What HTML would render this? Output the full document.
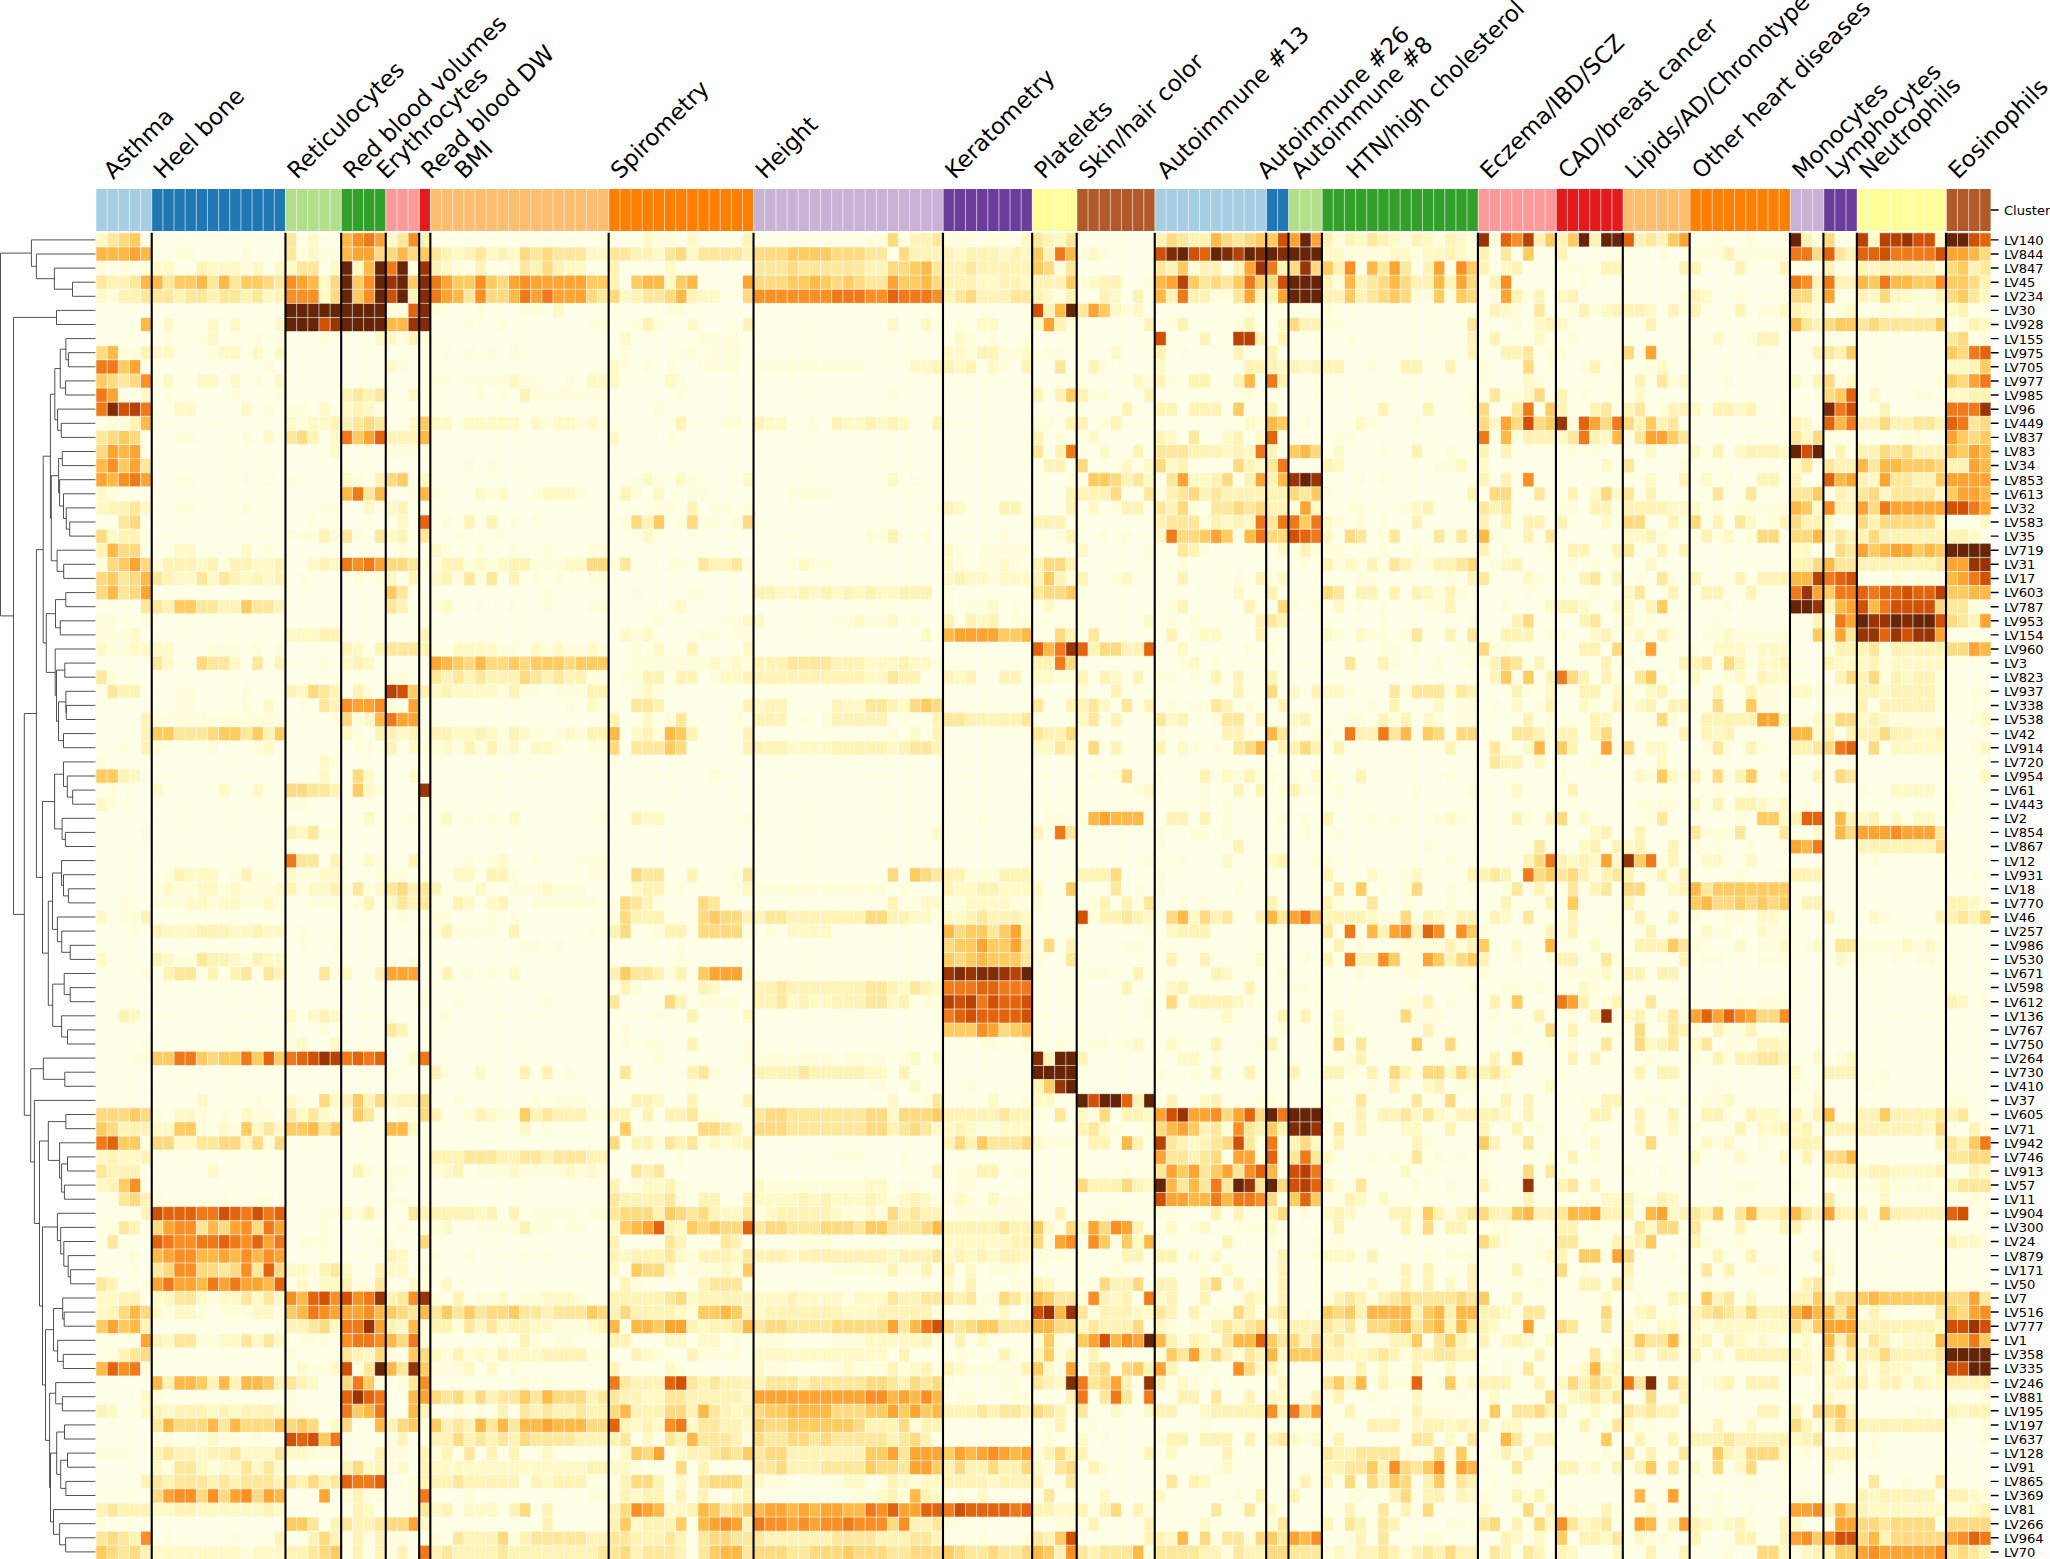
<!DOCTYPE html><html><head><meta charset="utf-8"><title>LV heatmap</title><style>
html,body{margin:0;padding:0;background:#fff}body{width:2050px;height:1559px;overflow:hidden;position:relative}svg{position:absolute;left:0;top:0;display:block}text{font-family:"DejaVu Sans","Liberation Sans",sans-serif;fill:#000}
.g path{fill:none;stroke-width:14.113}
.cl{font-size:23px}.rl{font-size:13.1px}
</style></head><body>
<svg width="2050" height="1559" viewBox="0 0 2050 1559">
<rect x="96.00" y="232.80" width="1894.94" height="1326.58" fill="#ffffe5"/>
<g class="g">
<path stroke="#fff9c6" d="M96 239.86h11.15M307.79 239.86h11.15M385.81 239.86h11.15M642.19 239.86h11.15M686.78 239.86h11.15M1021.18 239.86h11.15M1054.62 239.86h11.15M1355.58 239.86h11.15M1389.02 239.86h11.15M1422.46 239.86h11.15M1455.9 239.86h11.15M1868.33 239.86h11.15M1935.21 239.86h11.15M307.79 253.97h11.15M452.69 253.97h11.15M486.13 253.97h11.15M508.43 253.97h11.15M586.45 253.97h22.29M653.33 253.97h11.15M686.78 253.97h11.15M954.3 253.97h11.15M998.88 253.97h11.15M1021.18 253.97h11.15M1088.06 253.97h11.15M1322.14 253.97h22.29M1389.02 253.97h22.29M1422.46 253.97h22.29M1455.9 253.97h11.15M151.73 268.08h22.29M207.47 268.08h33.44M252.05 268.08h11.15M274.35 268.08h22.29M330.08 268.08h11.15M352.37 268.08h11.15M441.55 268.08h11.15M564.16 268.08h22.29M664.48 268.08h11.15M1500.48 268.08h11.15M1868.33 268.08h11.15M318.93 282.19h11.15M664.48 282.19h11.15M976.59 282.19h22.29M1021.18 282.19h11.15M1088.06 282.19h11.15M96 296.31h11.15M263.2 296.31h11.15M318.93 296.31h11.15M619.89 296.31h11.15M697.92 296.31h22.29M1043.47 296.31h11.15M1110.35 296.31h11.15M1556.22 296.31h11.15M1701.12 296.31h11.15M1812.59 296.31h11.15M1868.33 296.31h11.15M1890.62 296.31h22.29M1979.79 296.31h11.15M553.01 310.42h11.15M1110.35 310.42h11.15M1132.64 310.42h11.15M1500.48 310.42h11.15M1600.8 310.42h11.15M1645.39 310.42h11.15M1779.15 310.42h11.15M1801.45 310.42h11.15M1846.03 310.42h11.15M1946.35 310.42h11.15M162.88 324.53h11.15M207.47 324.53h11.15M229.76 324.53h11.15M274.35 324.53h11.15M686.78 324.53h11.15M887.42 324.53h11.15M920.86 324.53h11.15M976.59 324.53h22.29M1032.32 324.53h11.15M1277.55 324.53h11.15M1533.92 324.53h11.15M1556.22 324.53h11.15M1979.79 324.53h11.15M207.47 338.64h11.15M374.67 338.64h22.29M619.89 338.64h11.15M954.3 338.64h11.15M1533.92 338.64h11.15M1712.27 338.64h11.15M151.73 352.76h22.29M218.61 352.76h22.29M252.05 352.76h11.15M274.35 352.76h11.15M943.15 352.76h22.29M1021.18 352.76h11.15M1110.35 352.76h11.15M385.81 366.87h11.15M608.75 366.87h11.15M909.71 366.87h22.29M954.3 366.87h11.15M987.74 366.87h11.15M1154.94 366.87h11.15M1277.55 366.87h11.15M1299.84 366.87h11.15M1656.54 366.87h11.15M1946.35 366.87h22.29M162.88 380.98h11.15M196.32 380.98h22.29M229.76 380.98h11.15M274.35 380.98h11.15M508.43 380.98h11.15M586.45 380.98h33.44M664.48 380.98h11.15M1132.64 380.98h11.15M1522.78 380.98h11.15M1678.83 380.98h11.15M1790.3 380.98h11.15M1846.03 380.98h11.15M140.59 395.09h11.15M408.11 395.09h11.15M1522.78 395.09h11.15M1634.24 395.09h11.15M1868.33 395.09h11.15M1946.35 395.09h22.29M174.03 409.21h22.29M240.91 409.21h11.15M318.93 409.21h11.15M341.23 409.21h11.15M363.52 409.21h11.15M1689.98 409.21h11.15M1734.56 409.21h11.15M285.49 423.32h11.15M307.79 423.32h22.29M408.11 423.32h11.15M430.4 423.32h22.29M463.84 423.32h55.73M530.72 423.32h11.15M553.01 423.32h22.29M586.45 423.32h11.15M764.8 423.32h22.29M842.83 423.32h22.29M876.27 423.32h11.15M898.56 423.32h11.15M1244.11 423.32h11.15M1355.58 423.32h11.15M1489.34 423.32h11.15M1801.45 423.32h11.15M263.2 437.43h11.15M330.08 437.43h11.15M608.75 437.43h11.15M1088.06 437.43h11.15M1166.08 437.43h11.15M1221.82 437.43h11.15M1255.26 437.43h11.15M1556.22 437.43h11.15M1600.8 437.43h11.15M1801.45 437.43h11.15M330.08 451.54h11.15M1099.2 451.54h11.15M1221.82 451.54h11.15M1244.11 451.54h11.15M1333.28 451.54h11.15M1645.39 451.54h11.15M1689.98 451.54h11.15M1734.56 451.54h11.15M1779.15 451.54h11.15M1121.5 465.66h11.15M1143.79 465.66h11.15M1166.08 465.66h11.15M1255.26 465.66h11.15M1333.28 465.66h11.15M1455.9 465.66h11.15M1478.19 465.66h11.15M1600.8 465.66h11.15M1790.3 465.66h11.15M341.23 479.77h11.15M419.25 479.77h11.15M642.19 479.77h11.15M675.63 479.77h11.15M742.51 479.77h11.15M887.42 479.77h11.15M1143.79 479.77h11.15M1188.38 479.77h22.29M1645.39 479.77h11.15M1701.12 479.77h11.15M1868.33 479.77h11.15M96 493.88h11.15M474.99 493.88h11.15M497.28 493.88h11.15M541.87 493.88h33.44M653.33 493.88h11.15M1589.66 493.88h11.15M1611.95 493.88h11.15M1846.03 493.88h11.15M1879.47 493.88h11.15M1935.21 493.88h11.15M96 507.99h11.15M140.59 507.99h11.15M363.52 507.99h11.15M385.81 507.99h11.15M954.3 507.99h11.15M1088.06 507.99h11.15M1310.99 507.99h11.15M1411.31 507.99h11.15M1667.68 507.99h33.44M1812.59 507.99h11.15M396.96 522.11h11.15M1221.82 522.11h11.15M1244.11 522.11h11.15M1322.14 522.11h11.15M1600.8 522.11h11.15M1745.71 522.11h11.15M1823.74 522.11h11.15M1935.21 522.11h11.15M1979.79 522.11h11.15M107.15 536.22h11.15M385.81 536.22h11.15M642.19 536.22h11.15M1154.94 536.22h11.15M1322.14 536.22h11.15M1623.1 536.22h22.29M1723.42 536.22h11.15M1968.65 536.22h11.15M174.03 550.33h22.29M240.91 550.33h11.15M430.4 550.33h11.15M943.15 550.33h11.15M1076.91 550.33h11.15M1277.55 550.33h11.15M1790.3 550.33h22.29M196.32 564.44h11.15M252.05 564.44h22.29M307.79 564.44h11.15M330.08 564.44h11.15M474.99 564.44h11.15M497.28 564.44h11.15M564.16 564.44h22.29M798.24 564.44h11.15M943.15 564.44h11.15M998.88 564.44h11.15M1344.43 564.44h11.15M1500.48 564.44h11.15M1645.39 564.44h11.15M174.03 578.56h22.29M207.47 578.56h11.15M240.91 578.56h11.15M263.2 578.56h11.15M385.81 578.56h11.15M430.4 578.56h11.15M943.15 578.56h11.15M965.44 578.56h22.29M998.88 578.56h33.44M1121.5 578.56h11.15M1277.55 578.56h11.15M1522.78 578.56h11.15M775.95 592.67h22.29M809.39 592.67h11.15M831.68 592.67h11.15M853.98 592.67h11.15M876.27 592.67h22.29M1232.96 592.67h11.15M1422.46 592.67h11.15M1623.1 592.67h11.15M441.55 606.78h11.15M675.63 606.78h11.15M987.74 606.78h11.15M1043.47 606.78h11.15M1333.28 606.78h11.15M1545.07 606.78h11.15M1578.51 606.78h11.15M1611.95 606.78h22.29M742.51 620.89h22.29M853.98 620.89h11.15M887.42 620.89h11.15M976.59 620.89h11.15M1143.79 620.89h11.15M1623.1 620.89h11.15M129.44 635.01h11.15M285.49 635.01h33.44M619.89 635.01h11.15M642.19 635.01h11.15M920.86 635.01h11.15M1199.52 635.01h22.29M1322.14 635.01h11.15M1355.58 635.01h11.15M1589.66 635.01h11.15M1634.24 635.01h11.15M1723.42 635.01h11.15M1823.74 635.01h11.15M96 649.12h11.15M129.44 649.12h44.59M352.37 649.12h11.15M452.69 649.12h44.59M530.72 649.12h11.15M553.01 649.12h11.15M586.45 649.12h11.15M653.33 649.12h11.15M742.51 649.12h11.15M1177.23 649.12h11.15M1712.27 649.12h33.44M1756.86 649.12h33.44M162.88 663.23h11.15M229.76 663.23h11.15M341.23 663.23h11.15M363.52 663.23h11.15M709.07 663.23h11.15M731.36 663.23h11.15M865.12 663.23h33.44M909.71 663.23h22.29M1188.38 663.23h11.15M1756.86 663.23h22.29M1834.89 663.23h33.44M1890.62 663.23h55.73M720.22 677.34h22.29M865.12 677.34h22.29M954.3 677.34h11.15M1032.32 677.34h22.29M1110.35 677.34h11.15M1689.98 677.34h11.15M1734.56 677.34h11.15M1768 677.34h22.29M1901.77 677.34h11.15M296.64 691.46h11.15M430.4 691.46h11.15M452.69 691.46h44.59M642.19 691.46h11.15M1288.7 691.46h11.15M1322.14 691.46h22.29M1545.07 691.46h11.15M1611.95 691.46h11.15M1645.39 691.46h11.15M1790.3 691.46h22.29M1879.47 691.46h11.15M263.2 705.57h11.15M586.45 705.57h11.15M753.66 705.57h11.15M842.83 705.57h22.29M898.56 705.57h11.15M1099.2 705.57h11.15M1433.6 705.57h11.15M1511.63 705.57h11.15M1578.51 705.57h11.15M1634.24 705.57h11.15M363.52 719.68h11.15M642.19 719.68h11.15M1076.91 719.68h11.15M1166.08 719.68h11.15M1288.7 719.68h11.15M1422.46 719.68h11.15M1600.8 719.68h11.15M1812.59 719.68h22.29M1857.18 719.68h11.15M1879.47 719.68h11.15M1979.79 719.68h11.15M341.23 733.79h11.15M396.96 733.79h11.15M452.69 733.79h22.29M486.13 733.79h11.15M519.57 733.79h11.15M564.16 733.79h11.15M631.04 733.79h11.15M909.71 733.79h11.15M1712.27 733.79h11.15M1812.59 733.79h11.15M1912.91 733.79h22.29M263.2 747.91h11.15M408.11 747.91h11.15M441.55 747.91h11.15M508.43 747.91h11.15M530.72 747.91h22.29M787.1 747.91h44.59M887.42 747.91h11.15M1032.32 747.91h22.29M1177.23 747.91h11.15M1522.78 747.91h11.15M1645.39 747.91h22.29M1890.62 747.91h55.73M1979.79 747.91h11.15M318.93 762.02h11.15M1533.92 762.02h11.15M1656.54 762.02h11.15M129.44 776.13h11.15M318.93 776.13h11.15M363.52 776.13h11.15M408.11 776.13h11.15M1221.82 776.13h11.15M1310.99 776.13h11.15M1634.24 776.13h11.15M1667.68 776.13h11.15M1779.15 776.13h11.15M1979.79 776.13h11.15M151.73 790.24h11.15M218.61 790.24h11.15M252.05 790.24h11.15M363.52 790.24h11.15M1143.79 790.24h11.15M1511.63 790.24h11.15M1890.62 790.24h44.59M96 804.36h11.15M1689.98 804.36h11.15M1756.86 804.36h11.15M1779.15 804.36h11.15M363.52 818.47h11.15M441.55 818.47h11.15M508.43 818.47h11.15M642.19 818.47h22.29M1444.75 818.47h11.15M1578.51 818.47h11.15M1779.15 818.47h11.15M1857.18 818.47h11.15M1890.62 818.47h11.15M1912.91 818.47h22.29M296.64 832.58h11.15M932 832.58h11.15M1589.66 832.58h11.15M1812.59 832.58h11.15M1578.51 846.69h11.15M1623.1 846.69h11.15M363.52 860.81h11.15M497.28 860.81h11.15M1221.82 860.81h11.15M1266.4 860.81h11.15M1567.36 860.81h11.15M1589.66 860.81h11.15M1611.95 860.81h11.15M1701.12 860.81h22.29M1745.71 860.81h11.15M185.17 874.92h33.44M285.49 874.92h11.15M318.93 874.92h22.29M452.69 874.92h22.29M1366.72 874.92h11.15M1411.31 874.92h11.15M162.88 889.03h11.15M196.32 889.03h22.29M229.76 889.03h11.15M274.35 889.03h11.15M307.79 889.03h22.29M374.67 889.03h11.15M474.99 889.03h11.15M541.87 889.03h11.15M631.04 889.03h11.15M742.51 889.03h11.15M954.3 889.03h22.29M998.88 889.03h44.59M1667.68 889.03h11.15M185.17 903.14h22.29M218.61 903.14h22.29M263.2 903.14h11.15M385.81 903.14h11.15M463.84 903.14h11.15M486.13 903.14h11.15M920.86 903.14h22.29M965.44 903.14h44.59M1968.65 903.14h11.15M96 917.26h11.15M909.71 917.26h22.29M943.15 917.26h22.29M1021.18 917.26h11.15M1143.79 917.26h11.15M1188.38 917.26h11.15M1366.72 917.26h11.15M1433.6 917.26h11.15M1500.48 917.26h11.15M1756.86 917.26h22.29M1868.33 917.26h11.15M162.88 931.37h33.44M229.76 931.37h22.29M263.2 931.37h22.29M787.1 931.37h44.59M1166.08 931.37h11.15M1701.12 931.37h11.15M1756.86 931.37h11.15M1511.63 945.48h11.15M1589.66 945.48h11.15M1734.56 945.48h11.15M1779.15 945.48h11.15M1812.59 945.48h11.15M1901.77 945.48h11.15M1924.06 945.48h11.15M96 959.59h11.15M162.88 959.59h11.15M229.76 959.59h11.15M263.2 959.59h22.29M1255.26 959.59h11.15M1834.89 959.59h11.15M341.23 973.71h11.15M508.43 973.71h11.15M1221.82 973.71h11.15M1600.8 973.71h11.15M709.07 987.82h11.15M898.56 987.82h11.15M932 987.82h11.15M1166.08 987.82h11.15M1578.51 987.82h11.15M787.1 1001.93h11.15M809.39 1001.93h22.29M887.42 1001.93h11.15M1232.96 1001.93h11.15M1957.5 1001.93h11.15M129.44 1016.04h11.15M285.49 1016.04h11.15M307.79 1016.04h11.15M330.08 1016.04h11.15M742.51 1016.04h11.15M1221.82 1016.04h11.15M1333.28 1016.04h11.15M1623.1 1016.04h11.15M1656.54 1016.04h11.15M1333.28 1030.16h11.15M296.64 1044.27h11.15M330.08 1044.27h11.15M1132.64 1044.27h11.15M1166.08 1044.27h11.15M1645.39 1044.27h11.15M1689.98 1044.27h11.15M1779.15 1044.27h11.15M408.11 1058.38h11.15M909.71 1058.38h11.15M932 1058.38h11.15M1177.23 1058.38h22.29M1812.59 1058.38h11.15M1846.03 1058.38h11.15M474.99 1072.49h11.15M865.12 1072.49h22.29M1444.75 1072.49h11.15M1500.48 1072.49h11.15M1790.3 1072.49h11.15M909.71 1086.61h11.15M1422.46 1086.61h11.15M1545.07 1086.61h11.15M196.32 1100.72h11.15M285.49 1100.72h11.15M330.08 1100.72h11.15M385.81 1100.72h11.15M653.33 1100.72h11.15M887.42 1100.72h11.15M987.74 1100.72h11.15M1032.32 1100.72h22.29M1199.52 1100.72h11.15M1723.42 1100.72h11.15M1812.59 1100.72h11.15M174.03 1114.83h22.29M240.91 1114.83h11.15M296.64 1114.83h11.15M318.93 1114.83h11.15M486.13 1114.83h11.15M887.42 1114.83h11.15M1076.91 1114.83h11.15M1143.79 1114.83h11.15M1411.31 1114.83h11.15M1433.6 1114.83h11.15M1500.48 1114.83h11.15M1756.86 1114.83h22.29M151.73 1128.94h22.29M218.61 1128.94h11.15M252.05 1128.94h11.15M274.35 1128.94h11.15M408.11 1128.94h11.15M519.57 1128.94h11.15M932 1128.94h22.29M965.44 1128.94h11.15M998.88 1128.94h33.44M1099.2 1128.94h11.15M1400.16 1128.94h22.29M1667.68 1128.94h11.15M1756.86 1128.94h22.29M1790.3 1128.94h11.15M1924.06 1128.94h11.15M174.03 1143.06h22.29M240.91 1143.06h11.15M709.07 1143.06h11.15M731.36 1143.06h11.15M1032.32 1143.06h11.15M1188.38 1143.06h11.15M1310.99 1143.06h11.15M1589.66 1143.06h11.15M1701.12 1143.06h11.15M1723.42 1143.06h11.15M96 1157.17h11.15M118.29 1157.17h22.29M1322.14 1157.17h11.15M1689.98 1157.17h11.15M1734.56 1157.17h11.15M1779.15 1157.17h11.15M207.47 1171.28h11.15M441.55 1171.28h11.15M508.43 1171.28h11.15M564.16 1171.28h11.15M586.45 1171.28h11.15M1400.16 1171.28h11.15M1857.18 1171.28h11.15M1890.62 1171.28h44.59M1979.79 1171.28h11.15M96 1185.39h11.15M642.19 1185.39h22.29M753.66 1185.39h11.15M865.12 1185.39h22.29M1143.79 1185.39h11.15M1879.47 1185.39h11.15M753.66 1199.51h44.59M809.39 1199.51h11.15M831.68 1199.51h33.44M876.27 1199.51h11.15M898.56 1199.51h11.15M920.86 1199.51h11.15M954.3 1199.51h11.15M987.74 1199.51h11.15M1355.58 1199.51h11.15M1377.87 1199.51h11.15M1600.8 1199.51h22.29M1667.68 1199.51h11.15M1879.47 1199.51h11.15M341.23 1213.62h11.15M474.99 1213.62h11.15M720.22 1213.62h22.29M764.8 1213.62h11.15M831.68 1213.62h11.15M865.12 1213.62h11.15M1322.14 1213.62h11.15M1344.43 1213.62h11.15M1667.68 1213.62h11.15M441.55 1227.73h11.15M608.75 1227.73h11.15M675.63 1227.73h11.15M1043.47 1227.73h11.15M1076.91 1227.73h11.15M1166.08 1227.73h11.15M1199.52 1227.73h11.15M1266.4 1227.73h11.15M1645.39 1227.73h11.15M943.15 1241.84h66.88M1132.64 1241.84h11.15M1623.1 1241.84h11.15M1957.5 1241.84h22.29M396.96 1255.96h11.15M619.89 1255.96h11.15M675.63 1255.96h11.15M731.36 1255.96h11.15M787.1 1255.96h11.15M887.42 1255.96h11.15M943.15 1255.96h11.15M965.44 1255.96h11.15M987.74 1255.96h11.15M1021.18 1255.96h11.15M1188.38 1255.96h11.15M1210.67 1255.96h11.15M1322.14 1255.96h33.44M1545.07 1255.96h11.15M285.49 1270.07h22.29M341.23 1270.07h11.15M385.81 1270.07h22.29M608.75 1270.07h11.15M664.48 1270.07h11.15M720.22 1270.07h11.15M965.44 1270.07h11.15M1221.82 1270.07h11.15M1823.74 1270.07h11.15M296.64 1284.18h11.15M318.93 1284.18h22.29M408.11 1284.18h11.15M441.55 1284.18h11.15M943.15 1284.18h11.15M1043.47 1284.18h11.15M1366.72 1284.18h11.15M1444.75 1284.18h11.15M1623.1 1284.18h11.15M96 1298.29h22.29M151.73 1298.29h22.29M196.32 1298.29h11.15M218.61 1298.29h22.29M252.05 1298.29h11.15M274.35 1298.29h11.15M497.28 1298.29h11.15M541.87 1298.29h33.44M686.78 1298.29h11.15M753.66 1298.29h33.44M798.24 1298.29h44.59M853.98 1298.29h33.44M1021.18 1298.29h11.15M1110.35 1298.29h11.15M1154.94 1298.29h11.15M1255.26 1298.29h11.15M1600.8 1298.29h11.15M1678.83 1298.29h11.15M1745.71 1298.29h11.15M96 1312.41h11.15M151.73 1312.41h11.15M174.03 1312.41h22.29M252.05 1312.41h22.29M675.63 1312.41h11.15M753.66 1312.41h11.15M842.83 1312.41h33.44M998.88 1312.41h11.15M1132.64 1312.41h22.29M1500.48 1312.41h11.15M1634.24 1312.41h11.15M330.08 1326.52h11.15M396.96 1326.52h11.15M474.99 1326.52h11.15M497.28 1326.52h11.15M530.72 1326.52h22.29M586.45 1326.52h11.15M697.92 1326.52h11.15M1076.91 1326.52h11.15M1154.94 1326.52h11.15M1489.34 1326.52h11.15M1623.1 1326.52h11.15M1656.54 1326.52h22.29M1689.98 1326.52h11.15M1712.27 1326.52h78.03M1935.21 1326.52h11.15M162.88 1340.63h11.15M218.61 1340.63h22.29M252.05 1340.63h11.15M274.35 1340.63h11.15M664.48 1340.63h22.29M697.92 1340.63h22.29M865.12 1340.63h55.73M976.59 1340.63h11.15M1199.52 1340.63h11.15M1344.43 1340.63h11.15M1500.48 1340.63h11.15M1522.78 1340.63h11.15M1545.07 1340.63h11.15M1623.1 1340.63h11.15M1689.98 1340.63h11.15M1734.56 1340.63h11.15M1756.86 1340.63h11.15M1801.45 1340.63h11.15M1901.77 1340.63h33.44M363.52 1354.74h11.15M430.4 1354.74h11.15M474.99 1354.74h11.15M508.43 1354.74h33.44M642.19 1354.74h11.15M753.66 1354.74h133.76M1277.55 1354.74h11.15M1344.43 1354.74h22.29M1611.95 1354.74h22.29M1712.27 1354.74h11.15M1801.45 1354.74h11.15M296.64 1368.86h11.15M330.08 1368.86h11.15M463.84 1368.86h11.15M486.13 1368.86h11.15M664.48 1368.86h11.15M753.66 1368.86h11.15M842.83 1368.86h11.15M909.71 1368.86h11.15M954.3 1368.86h11.15M1043.47 1368.86h11.15M1255.26 1368.86h11.15M1377.87 1368.86h11.15M1444.75 1368.86h11.15M1578.51 1368.86h11.15M1600.8 1368.86h11.15M1790.3 1368.86h22.29M1834.89 1368.86h11.15M1857.18 1368.86h11.15M1890.62 1368.86h22.29M307.79 1382.97h11.15M1054.62 1382.97h11.15M1177.23 1382.97h11.15M1277.55 1382.97h11.15M1467.04 1382.97h11.15M1556.22 1382.97h11.15M1611.95 1382.97h11.15M1712.27 1382.97h11.15M1823.74 1382.97h11.15M1924.06 1382.97h22.29M140.59 1397.08h11.15M642.19 1397.08h22.29M742.51 1397.08h11.15M1266.4 1397.08h22.29M1411.31 1397.08h11.15M1489.34 1397.08h11.15M1567.36 1397.08h11.15M1600.8 1397.08h11.15M1823.74 1397.08h11.15M107.15 1411.19h11.15M140.59 1411.19h11.15M162.88 1411.19h11.15M207.47 1411.19h11.15M229.76 1411.19h11.15M274.35 1411.19h11.15M731.36 1411.19h11.15M1110.35 1411.19h11.15M1143.79 1411.19h11.15M1199.52 1411.19h11.15M1589.66 1411.19h11.15M1957.5 1411.19h11.15M330.08 1425.31h11.15M631.04 1425.31h11.15M653.33 1425.31h11.15M686.78 1425.31h11.15M742.51 1425.31h11.15M1411.31 1425.31h11.15M1444.75 1425.31h11.15M1467.04 1425.31h11.15M1500.48 1425.31h22.29M1623.1 1425.31h11.15M1745.71 1425.31h11.15M207.47 1439.42h11.15M642.19 1439.42h11.15M1076.91 1439.42h11.15M1288.7 1439.42h11.15M1310.99 1439.42h11.15M1444.75 1439.42h11.15M1790.3 1439.42h11.15M196.32 1453.53h11.15M240.91 1453.53h33.44M285.49 1453.53h22.29M541.87 1453.53h11.15M619.89 1453.53h11.15M675.63 1453.53h11.15M1166.08 1453.53h11.15M1734.56 1453.53h11.15M1779.15 1453.53h11.15M151.73 1467.64h11.15M196.32 1467.64h11.15M218.61 1467.64h22.29M252.05 1467.64h11.15M274.35 1467.64h11.15M363.52 1467.64h11.15M396.96 1467.64h11.15M430.4 1467.64h156.05M608.75 1467.64h22.29M1032.32 1467.64h11.15M1221.82 1467.64h11.15M1589.66 1467.64h11.15M1689.98 1467.64h11.15M1734.56 1467.64h11.15M1823.74 1467.64h11.15M541.87 1481.76h11.15M675.63 1481.76h11.15M753.66 1481.76h11.15M842.83 1481.76h22.29M898.56 1481.76h11.15M920.86 1481.76h22.29M987.74 1481.76h11.15M1199.52 1481.76h11.15M631.04 1495.87h11.15M731.36 1495.87h11.15M876.27 1495.87h11.15M932 1495.87h11.15M976.59 1495.87h11.15M1099.2 1495.87h11.15M1154.94 1495.87h11.15M1467.04 1495.87h11.15M1868.33 1495.87h11.15M1968.65 1495.87h11.15M151.73 1509.98h22.29M196.32 1509.98h66.88M274.35 1509.98h11.15M363.52 1509.98h11.15M430.4 1509.98h11.15M463.84 1509.98h33.44M664.48 1509.98h22.29M1054.62 1509.98h22.29M1266.4 1509.98h11.15M1478.19 1509.98h11.15M1645.39 1509.98h11.15M1868.33 1509.98h78.03M1968.65 1509.98h11.15M419.25 1524.09h11.15M631.04 1524.09h11.15M1199.52 1524.09h11.15M1545.07 1524.09h11.15M1578.51 1524.09h11.15M1701.12 1524.09h11.15M1723.42 1524.09h11.15M1790.3 1524.09h11.15M1166.08 1538.21h11.15M1511.63 1538.21h11.15M1533.92 1538.21h11.15M1600.8 1538.21h11.15M1634.24 1538.21h11.15M151.73 1552.32h89.17M252.05 1552.32h33.44M1333.28 1552.32h11.15M1567.36 1552.32h11.15M1611.95 1552.32h11.15M1779.15 1552.32h11.15M1801.45 1552.32h11.15"/>
<path stroke="#fee89c" d="M107.15 239.86h11.15M285.49 239.86h11.15M396.96 239.86h11.15M932 239.86h11.15M1032.32 239.86h11.15M1065.76 239.86h11.15M1177.23 239.86h11.15M1232.96 239.86h11.15M1366.72 239.86h11.15M1645.39 239.86h11.15M285.49 253.97h11.15M430.4 253.97h11.15M474.99 253.97h11.15M530.72 253.97h11.15M553.01 253.97h33.44M608.75 253.97h22.29M664.48 253.97h11.15M697.92 253.97h44.59M865.12 253.97h22.29M1500.48 253.97h11.15M1834.89 253.97h11.15M296.64 268.08h22.29M519.57 268.08h11.15M753.66 268.08h33.44M798.24 268.08h66.88M932 268.08h11.15M965.44 268.08h11.15M1065.76 268.08h11.15M1154.94 268.08h11.15M1377.87 268.08h11.15M1400.16 268.08h11.15M1979.79 268.08h11.15M96 282.19h11.15M129.44 282.19h11.15M162.88 282.19h11.15M207.47 282.19h11.15M229.76 282.19h11.15M274.35 282.19h11.15M865.12 282.19h22.29M1199.52 282.19h11.15M1221.82 282.19h11.15M1366.72 282.19h11.15M140.59 296.31h33.44M185.17 296.31h22.29M218.61 296.31h22.29M252.05 296.31h11.15M463.84 296.31h11.15M597.6 296.31h11.15M642.19 296.31h22.29M954.3 296.31h11.15M1010.03 296.31h22.29M1232.96 296.31h11.15M1366.72 296.31h11.15M1968.65 296.31h11.15M1076.91 310.42h11.15M1533.92 310.42h11.15M1467.04 324.53h11.15M1801.45 324.53h11.15M1857.18 324.53h11.15M1879.47 324.53h55.73M1946.35 338.64h11.15M1522.78 352.76h11.15M1823.74 352.76h11.15M1054.62 366.87h11.15M118.29 380.98h11.15M1656.54 380.98h11.15M352.37 395.09h11.15M374.67 395.09h11.15M1489.34 395.09h11.15M1511.63 409.21h11.15M1600.8 409.21h11.15M1634.24 409.21h11.15M352.37 423.32h11.15M374.67 423.32h11.15M1667.68 423.32h11.15M1912.91 423.32h22.29M1968.65 423.32h11.15M96 437.43h11.15M285.49 437.43h11.15M1188.38 437.43h11.15M1567.36 437.43h11.15M1634.24 437.43h11.15M1678.83 437.43h11.15M1790.3 437.43h11.15M1032.32 451.54h11.15M1154.94 451.54h33.44M1890.62 451.54h11.15M140.59 465.66h11.15M1266.4 465.66h11.15M1623.1 465.66h11.15M1801.45 465.66h11.15M1823.74 465.66h11.15M1868.33 465.66h11.15M1132.64 479.77h11.15M1166.08 479.77h11.15M1890.62 479.77h22.29M363.52 493.88h11.15M1143.79 493.88h11.15M1177.23 493.88h11.15M1210.67 493.88h11.15M1299.84 493.88h11.15M1533.92 493.88h11.15M1623.1 493.88h11.15M1712.27 493.88h11.15M1745.71 493.88h11.15M1790.3 493.88h22.29M1857.18 493.88h11.15M1890.62 493.88h44.59M129.44 507.99h11.15M1154.94 507.99h11.15M1210.67 507.99h22.29M1244.11 507.99h11.15M1478.19 507.99h11.15M1500.48 507.99h11.15M118.29 522.11h11.15M1166.08 522.11h33.44M1266.4 522.11h11.15M1734.56 522.11h11.15M341.23 536.22h11.15M374.67 536.22h11.15M419.25 536.22h11.15M1355.58 536.22h11.15M1389.02 536.22h11.15M1433.6 536.22h11.15M1455.9 536.22h11.15M1545.07 536.22h11.15M1834.89 536.22h11.15M1177.23 550.33h11.15M1623.1 550.33h11.15M1846.03 550.33h11.15M408.11 564.44h11.15M619.89 564.44h11.15M697.92 564.44h11.15M731.36 564.44h11.15M1389.02 564.44h11.15M1455.9 564.44h11.15M1834.89 564.44h22.29M1935.21 564.44h11.15M118.29 578.56h11.15M151.73 578.56h11.15M196.32 578.56h11.15M218.61 578.56h11.15M463.84 578.56h11.15M486.13 578.56h11.15M1478.19 578.56h11.15M1589.66 578.56h11.15M1656.54 578.56h11.15M118.29 592.67h11.15M396.96 592.67h11.15M1032.32 592.67h11.15M1333.28 592.67h11.15M1634.24 592.67h11.15M140.59 606.78h22.29M196.32 606.78h22.29M252.05 606.78h22.29M385.81 606.78h11.15M1946.35 606.78h22.29M1266.4 620.89h11.15M1589.66 620.89h11.15M1957.5 620.89h11.15M1088.06 635.01h11.15M1411.31 635.01h11.15M1467.04 635.01h11.15M1846.03 635.01h11.15M385.81 649.12h33.44M1868.33 649.12h11.15M151.73 663.23h11.15M207.47 663.23h22.29M252.05 663.23h11.15M787.1 663.23h44.59M1344.43 663.23h11.15M1511.63 663.23h11.15M1701.12 663.23h11.15M96 677.34h11.15M430.4 677.34h11.15M452.69 677.34h11.15M474.99 677.34h11.15M530.72 677.34h11.15M553.01 677.34h11.15M887.42 677.34h11.15M1634.24 677.34h11.15M107.15 691.46h11.15M318.93 691.46h11.15M1389.02 691.46h11.15M1411.31 691.46h33.44M1455.9 691.46h11.15M318.93 705.57h11.15M631.04 705.57h22.29M865.12 705.57h22.29M1032.32 705.57h11.15M1088.06 705.57h11.15M1121.5 705.57h11.15M1210.67 705.57h11.15M675.63 719.68h11.15M943.15 719.68h22.29M1021.18 719.68h11.15M1088.06 719.68h11.15M1154.94 719.68h11.15M1221.82 719.68h22.29M174.03 733.79h33.44M240.91 733.79h11.15M1032.32 733.79h11.15M1277.55 733.79h11.15M1389.02 733.79h11.15M1511.63 733.79h22.29M631.04 747.91h33.44M909.71 747.91h22.29M1054.62 747.91h11.15M1232.96 747.91h11.15M1489.34 747.91h11.15M1712.27 747.91h11.15M1812.59 747.91h11.15M1489.34 762.02h11.15M1846.03 776.13h11.15M307.79 790.24h22.29M1656.54 818.47h11.15M307.79 832.58h11.15M1065.76 832.58h11.15M1689.98 832.58h11.15M1734.56 832.58h11.15M1779.15 832.58h11.15M1935.21 832.58h11.15M1533.92 846.69h11.15M296.64 860.81h22.29M642.19 874.92h22.29M742.51 874.92h11.15M932 874.92h11.15M1489.34 874.92h11.15M1556.22 874.92h11.15M1611.95 874.92h11.15M352.37 889.03h11.15M385.81 889.03h11.15M419.25 889.03h11.15M1110.35 889.03h11.15M1333.28 889.03h11.15M1511.63 889.03h11.15M1567.36 889.03h11.15M1600.8 889.03h11.15M1701.12 889.03h11.15M396.96 903.14h11.15M419.25 903.14h11.15M631.04 903.14h11.15M709.07 903.14h11.15M1143.79 903.14h11.15M1366.72 903.14h11.15M764.8 917.26h22.29M976.59 917.26h11.15M1121.5 917.26h11.15M1221.82 917.26h11.15M1277.55 917.26h11.15M1522.78 917.26h11.15M1957.5 917.26h11.15M987.74 931.37h11.15M1322.14 931.37h11.15M1021.18 945.48h11.15M1678.83 945.48h11.15M1834.89 945.48h22.29M196.32 959.59h11.15M1021.18 959.59h11.15M1065.76 959.59h11.15M1600.8 959.59h11.15M174.03 973.71h22.29M240.91 973.71h11.15M263.2 973.71h11.15M318.93 973.71h11.15M631.04 973.71h22.29M775.95 987.82h11.15M865.12 987.82h22.29M909.71 987.82h11.15M608.75 1001.93h11.15M775.95 1001.93h11.15M865.12 1001.93h22.29M1645.39 1001.93h11.15M1667.68 1016.04h11.15M385.81 1030.16h11.15M1667.68 1030.16h11.15M1355.58 1044.27h11.15M1600.8 1044.27h11.15M1667.68 1044.27h11.15M1701.12 1044.27h11.15M1756.86 1058.38h22.29M619.89 1072.49h11.15M697.92 1072.49h11.15M798.24 1072.49h11.15M1489.34 1072.49h11.15M932 1100.72h11.15M1355.58 1100.72h11.15M1411.31 1100.72h11.15M285.49 1114.83h11.15M307.79 1114.83h11.15M363.52 1114.83h11.15M541.87 1114.83h11.15M686.78 1114.83h11.15M753.66 1114.83h11.15M787.1 1114.83h78.03M998.88 1114.83h11.15M1054.62 1114.83h11.15M1400.16 1114.83h11.15M1422.46 1114.83h11.15M1935.21 1114.83h11.15M1957.5 1114.83h11.15M263.2 1128.94h11.15M318.93 1128.94h11.15M720.22 1128.94h11.15M787.1 1128.94h78.03M898.56 1128.94h11.15M920.86 1128.94h11.15M1088.06 1128.94h11.15M1210.67 1128.94h11.15M1244.11 1128.94h11.15M1333.28 1128.94h11.15M196.32 1143.06h22.29M664.48 1143.06h11.15M686.78 1143.06h11.15M987.74 1143.06h33.44M1166.08 1143.06h11.15M1210.67 1143.06h11.15M1244.11 1143.06h11.15M1522.78 1143.06h11.15M1946.35 1143.06h11.15M463.84 1157.17h33.44M519.57 1157.17h22.29M553.01 1157.17h33.44M1166.08 1157.17h22.29M1199.52 1157.17h11.15M1288.7 1157.17h11.15M1310.99 1157.17h11.15M1411.31 1157.17h11.15M1946.35 1157.17h22.29M96 1171.28h11.15M631.04 1171.28h11.15M653.33 1171.28h11.15M1154.94 1171.28h11.15M1199.52 1171.28h11.15M1232.96 1171.28h11.15M1545.07 1171.28h11.15M1177.23 1185.39h11.15M1199.52 1185.39h11.15M1221.82 1185.39h11.15M1255.26 1185.39h11.15M1355.58 1185.39h11.15M1567.36 1185.39h11.15M1957.5 1185.39h33.44M118.29 1199.51h11.15M608.75 1199.51h11.15M664.48 1199.51h11.15M1823.74 1199.51h11.15M408.11 1213.62h11.15M608.75 1213.62h11.15M686.78 1213.62h11.15M742.51 1213.62h11.15M909.71 1213.62h11.15M1467.04 1213.62h11.15M1556.22 1213.62h11.15M1689.98 1213.62h11.15M1734.56 1213.62h11.15M1779.15 1213.62h11.15M1801.45 1213.62h11.15M118.29 1227.73h11.15M196.32 1227.73h11.15M753.66 1227.73h11.15M787.1 1227.73h33.44M853.98 1227.73h11.15M887.42 1227.73h33.44M998.88 1227.73h11.15M1634.24 1227.73h11.15M1689.98 1227.73h11.15M107.15 1241.84h11.15M664.48 1241.84h11.15M720.22 1241.84h11.15M1556.22 1241.84h22.29M664.48 1255.96h11.15M742.51 1255.96h11.15M932 1255.96h11.15M151.73 1270.07h11.15M218.61 1270.07h11.15M252.05 1270.07h11.15M330.08 1270.07h11.15M1701.12 1270.07h11.15M96 1284.18h11.15M374.67 1284.18h11.15M709.07 1284.18h33.44M1611.95 1284.18h11.15M1812.59 1284.18h11.15M174.03 1298.29h22.29M240.91 1298.29h11.15M263.2 1298.29h11.15M396.96 1298.29h11.15M664.48 1298.29h11.15M887.42 1298.29h11.15M920.86 1298.29h33.44M965.44 1298.29h11.15M1010.03 1298.29h11.15M1054.62 1298.29h22.29M1344.43 1298.29h11.15M1389.02 1298.29h11.15M1411.31 1298.29h44.59M1467.04 1298.29h11.15M1723.42 1298.29h11.15M1979.79 1298.29h11.15M408.11 1312.41h11.15M430.4 1312.41h11.15M452.69 1312.41h11.15M474.99 1312.41h11.15M519.57 1312.41h22.29M553.01 1312.41h33.44M1076.91 1312.41h11.15M1154.94 1312.41h11.15M1277.55 1312.41h11.15M1522.78 1312.41h22.29M1701.12 1312.41h11.15M1723.42 1312.41h11.15M1834.89 1312.41h11.15M1935.21 1312.41h11.15M307.79 1326.52h11.15M463.84 1326.52h11.15M486.13 1326.52h11.15M731.36 1326.52h11.15M753.66 1326.52h11.15M787.1 1326.52h44.59M898.56 1326.52h11.15M954.3 1326.52h11.15M998.88 1326.52h33.44M1088.06 1326.52h11.15M1221.82 1326.52h11.15M1244.11 1326.52h11.15M1322.14 1326.52h11.15M1344.43 1326.52h11.15M1411.31 1326.52h11.15M1467.04 1326.52h11.15M1567.36 1326.52h11.15M1600.8 1326.52h11.15M174.03 1340.63h22.29M240.91 1340.63h11.15M263.2 1340.63h11.15M1221.82 1340.63h11.15M1277.55 1340.63h11.15M1333.28 1340.63h11.15M1433.6 1340.63h11.15M1645.39 1340.63h22.29M1868.33 1340.63h11.15M129.44 1354.74h11.15M341.23 1354.74h11.15M1177.23 1354.74h11.15M1244.11 1354.74h11.15M1377.87 1354.74h11.15M1433.6 1354.74h22.29M1589.66 1354.74h11.15M1846.03 1354.74h11.15M1935.21 1354.74h11.15M363.52 1368.86h11.15M396.96 1368.86h11.15M1088.06 1368.86h11.15M1522.78 1368.86h11.15M285.49 1382.97h11.15M408.11 1382.97h11.15M619.89 1382.97h11.15M686.78 1382.97h11.15M709.07 1382.97h11.15M764.8 1382.97h33.44M809.39 1382.97h55.73M887.42 1382.97h11.15M920.86 1382.97h11.15M1032.32 1382.97h11.15M1088.06 1382.97h11.15M1322.14 1382.97h11.15M1600.8 1382.97h11.15M1634.24 1382.97h11.15M441.55 1397.08h11.15M497.28 1397.08h22.29M530.72 1397.08h11.15M597.6 1397.08h22.29M664.48 1397.08h22.29M1099.2 1397.08h11.15M1121.5 1397.08h11.15M1210.67 1397.08h11.15M1589.66 1397.08h11.15M1611.95 1397.08h11.15M519.57 1411.19h11.15M541.87 1411.19h11.15M575.31 1411.19h11.15M709.07 1411.19h11.15M976.59 1411.19h11.15M998.88 1411.19h22.29M1043.47 1411.19h11.15M1076.91 1411.19h11.15M1511.63 1411.19h22.29M1623.1 1411.19h11.15M1645.39 1411.19h11.15M151.73 1425.31h11.15M218.61 1425.31h11.15M452.69 1425.31h11.15M486.13 1425.31h11.15M508.43 1425.31h11.15M697.92 1425.31h22.29M1611.95 1425.31h11.15M1846.03 1425.31h11.15M474.99 1439.42h11.15M497.28 1439.42h11.15M530.72 1439.42h44.59M619.89 1439.42h11.15M664.48 1439.42h11.15M697.92 1439.42h33.44M764.8 1439.42h22.29M809.39 1439.42h11.15M831.68 1439.42h55.73M898.56 1439.42h11.15M1277.55 1439.42h11.15M1411.31 1439.42h22.29M1467.04 1439.42h11.15M1511.63 1439.42h11.15M1723.42 1439.42h11.15M1812.59 1439.42h11.15M162.88 1453.53h11.15M229.76 1453.53h11.15M274.35 1453.53h11.15M463.84 1453.53h11.15M709.07 1453.53h11.15M731.36 1453.53h11.15M753.66 1453.53h11.15M898.56 1453.53h11.15M1322.14 1453.53h11.15M1355.58 1453.53h44.59M1623.1 1453.53h11.15M1678.83 1453.53h11.15M174.03 1467.64h22.29M240.91 1467.64h11.15M263.2 1467.64h11.15M753.66 1467.64h22.29M820.54 1467.64h44.59M898.56 1467.64h11.15M1054.62 1467.64h11.15M1344.43 1467.64h22.29M1411.31 1467.64h11.15M1511.63 1467.64h11.15M1667.68 1467.64h11.15M151.73 1481.76h11.15M174.03 1481.76h33.44M218.61 1481.76h11.15M240.91 1481.76h33.44M285.49 1481.76h11.15M330.08 1481.76h11.15M452.69 1481.76h11.15M697.92 1481.76h11.15M1065.76 1481.76h11.15M1166.08 1481.76h11.15M1455.9 1481.76h11.15M1868.33 1481.76h11.15M1935.21 1481.76h11.15M1043.47 1495.87h11.15M107.15 1509.98h11.15M419.25 1509.98h11.15M720.22 1509.98h11.15M1210.67 1509.98h11.15M1244.11 1509.98h11.15M1377.87 1509.98h11.15M307.79 1524.09h11.15M341.23 1524.09h11.15M374.67 1524.09h11.15M932 1524.09h11.15M1277.55 1524.09h11.15M1344.43 1524.09h11.15M1377.87 1524.09h11.15M1478.19 1524.09h11.15M1567.36 1524.09h11.15M1600.8 1524.09h11.15M1879.47 1524.09h11.15M96 1538.21h11.15M118.29 1538.21h11.15M452.69 1538.21h11.15M530.72 1538.21h55.73M608.75 1538.21h22.29M664.48 1538.21h11.15M697.92 1538.21h11.15M731.36 1538.21h33.44M831.68 1538.21h44.59M909.71 1538.21h22.29M1032.32 1538.21h11.15M1221.82 1538.21h22.29M1277.55 1538.21h11.15M1377.87 1538.21h11.15M1611.95 1538.21h11.15M118.29 1552.32h11.15M307.79 1552.32h11.15M441.55 1552.32h11.15M497.28 1552.32h11.15M597.6 1552.32h22.29M642.19 1552.32h33.44M697.92 1552.32h11.15M742.51 1552.32h11.15M787.1 1552.32h22.29M887.42 1552.32h22.29M965.44 1552.32h22.29M998.88 1552.32h22.29M1076.91 1552.32h11.15M1099.2 1552.32h33.44M1154.94 1552.32h44.59M1232.96 1552.32h11.15M1288.7 1552.32h33.44M1377.87 1552.32h11.15M1422.46 1552.32h11.15M1489.34 1552.32h11.15M1522.78 1552.32h11.15M1946.35 1552.32h11.15M1968.65 1552.32h11.15"/>
<path stroke="#fecc60" d="M129.44 239.86h11.15M1255.26 239.86h22.29M1545.07 239.86h11.15M1567.36 239.86h11.15M1667.68 239.86h11.15M419.25 253.97h11.15M787.1 253.97h44.59M1032.32 253.97h11.15M1522.78 253.97h11.15M909.71 268.08h11.15M1032.32 268.08h11.15M1177.23 268.08h11.15M1322.14 268.08h11.15M1467.04 268.08h11.15M1957.5 268.08h11.15M174.03 282.19h22.29M240.91 282.19h22.29M352.37 282.19h11.15M408.11 282.19h11.15M452.69 282.19h22.29M486.13 282.19h11.15M586.45 282.19h22.29M631.04 282.19h11.15M675.63 282.19h11.15M787.1 282.19h22.29M820.54 282.19h11.15M842.83 282.19h11.15M898.56 282.19h22.29M1065.76 282.19h11.15M1188.38 282.19h11.15M1232.96 282.19h11.15M1255.26 282.19h11.15M1868.33 282.19h11.15M1912.91 282.19h22.29M1946.35 282.19h22.29M352.37 296.31h11.15M1344.43 296.31h11.15M1389.02 296.31h11.15M1433.6 296.31h11.15M1455.9 296.31h11.15M1957.5 296.31h11.15M1099.2 310.42h11.15M1834.89 324.53h22.29M1935.21 324.53h11.15M1846.03 352.76h11.15M1946.35 352.76h11.15M118.29 366.87h11.15M1979.79 366.87h11.15M96 380.98h11.15M1946.35 380.98h11.15M1065.76 395.09h11.15M1834.89 395.09h11.15M1232.96 409.21h11.15M1545.07 409.21h11.15M419.25 423.32h11.15M1277.55 423.32h11.15M1545.07 423.32h11.15M1645.39 423.32h11.15M118.29 437.43h11.15M352.37 437.43h11.15M1667.68 437.43h11.15M1957.5 437.43h11.15M1979.79 437.43h11.15M1288.7 451.54h11.15M1957.5 451.54h11.15M118.29 465.66h11.15M1901.77 465.66h33.44M396.96 479.77h11.15M1088.06 479.77h22.29M1935.21 479.77h11.15M1310.99 493.88h11.15M1812.59 493.88h11.15M1946.35 493.88h11.15M1801.45 507.99h11.15M653.33 522.11h11.15M1299.84 522.11h11.15M1199.52 536.22h11.15M1221.82 536.22h11.15M1868.33 550.33h11.15M1912.91 550.33h11.15M1935.21 550.33h11.15M118.29 564.44h11.15M107.15 578.56h11.15M1043.47 578.56h11.15M385.81 592.67h11.15M1065.76 592.67h11.15M1823.74 592.67h11.15M1946.35 592.67h22.29M174.03 606.78h22.29M240.91 606.78h11.15M1656.54 606.78h11.15M998.88 635.01h22.29M1812.59 635.01h11.15M452.69 663.23h11.15M508.43 663.23h11.15M530.72 663.23h33.44M575.31 663.23h33.44M1500.48 677.34h11.15M1522.78 677.34h11.15M1645.39 677.34h11.15M408.11 691.46h11.15M920.86 705.57h11.15M1745.71 705.57h11.15M151.73 733.79h22.29M218.61 733.79h22.29M252.05 733.79h11.15M274.35 733.79h11.15M675.63 733.79h11.15M1422.46 733.79h11.15M664.48 747.91h11.15M1556.22 747.91h11.15M96 776.13h22.29M1656.54 776.13h11.15M1745.71 776.13h11.15M352.37 790.24h11.15M1756.86 818.47h22.29M1634.24 860.81h11.15M909.71 874.92h11.15M1545.07 874.92h11.15M1065.76 889.03h11.15M1355.58 889.03h11.15M1712.27 889.03h78.03M1567.36 903.14h11.15M1689.98 903.14h11.15M1734.56 903.14h11.15M1756.86 903.14h11.15M1779.15 903.14h11.15M709.07 917.26h11.15M965.44 931.37h22.29M998.88 931.37h11.15M1467.04 931.37h11.15M954.3 945.48h22.29M987.74 945.48h22.29M1478.19 945.48h11.15M1667.68 945.48h11.15M943.15 959.59h11.15M965.44 959.59h11.15M987.74 959.59h33.44M1389.02 959.59h11.15M1433.6 959.59h11.15M1467.04 959.59h11.15M619.89 973.71h11.15M697.92 973.71h11.15M1511.63 1001.93h11.15M943.15 1030.16h33.44M1010.03 1030.16h11.15M1411.31 1044.27h11.15M151.73 1058.38h22.29M196.32 1058.38h11.15M218.61 1058.38h22.29M252.05 1058.38h11.15M274.35 1058.38h11.15M1511.63 1058.38h11.15M1043.47 1086.61h11.15M352.37 1100.72h11.15M129.44 1114.83h11.15M352.37 1114.83h11.15M519.57 1114.83h11.15M932 1114.83h11.15M1879.47 1114.83h11.15M96 1128.94h11.15M174.03 1128.94h22.29M240.91 1128.94h11.15M285.49 1128.94h22.29M330.08 1128.94h11.15M619.89 1128.94h11.15M1188.38 1128.94h11.15M1266.4 1128.94h11.15M118.29 1143.06h22.29M976.59 1143.06h11.15M1478.19 1143.06h11.15M1968.65 1143.06h11.15M1177.23 1171.28h11.15M1210.67 1171.28h11.15M118.29 1185.39h11.15M1288.7 1199.51h11.15M1310.99 1199.51h11.15M664.48 1213.62h11.15M1422.46 1213.62h11.15M1511.63 1213.62h11.15M1712.27 1213.62h11.15M1879.47 1213.62h11.15M619.89 1227.73h11.15M686.78 1227.73h11.15M709.07 1227.73h11.15M865.12 1227.73h22.29M1032.32 1227.73h11.15M1099.2 1241.84h11.15M1121.5 1241.84h11.15M1645.39 1241.84h11.15M1578.51 1255.96h22.29M631.04 1270.07h11.15M742.51 1270.07h11.15M1043.47 1298.29h11.15M1478.19 1298.29h11.15M1701.12 1298.29h11.15M1812.59 1298.29h11.15M1857.18 1298.29h11.15M1879.47 1298.29h66.88M285.49 1312.41h11.15M385.81 1312.41h11.15M441.55 1312.41h11.15M463.84 1312.41h11.15M508.43 1312.41h11.15M586.45 1312.41h11.15M697.92 1312.41h22.29M731.36 1312.41h11.15M1322.14 1312.41h11.15M1344.43 1312.41h11.15M1422.46 1312.41h11.15M1946.35 1312.41h11.15M96 1326.52h11.15M118.29 1326.52h11.15M653.33 1326.52h11.15M976.59 1326.52h22.29M1389.02 1326.52h11.15M1422.46 1326.52h11.15M1812.59 1326.52h11.15M1043.47 1340.63h11.15M1076.91 1340.63h11.15M1266.4 1340.63h11.15M1411.31 1340.63h11.15M1444.75 1340.63h11.15M1634.24 1340.63h11.15M1846.03 1340.63h11.15M1979.79 1340.63h11.15M408.11 1354.74h11.15M1043.47 1354.74h11.15M1166.08 1354.74h11.15M1288.7 1354.74h33.44M1823.74 1354.74h11.15M419.25 1368.86h11.15M1032.32 1368.86h11.15M1132.64 1368.86h11.15M196.32 1382.97h11.15M263.2 1382.97h11.15M363.52 1382.97h11.15M1333.28 1382.97h11.15M1444.75 1382.97h11.15M519.57 1397.08h11.15M352.37 1411.19h11.15M764.8 1411.19h22.29M865.12 1411.19h22.29M898.56 1411.19h11.15M920.86 1411.19h11.15M1489.34 1411.19h11.15M1834.89 1411.19h11.15M296.64 1425.31h11.15M408.11 1425.31h11.15M430.4 1425.31h11.15M753.66 1425.31h11.15M787.1 1425.31h66.88M318.93 1439.42h11.15M1600.8 1439.42h11.15M631.04 1453.53h11.15M742.51 1453.53h11.15M865.12 1453.53h22.29M943.15 1453.53h11.15M1455.9 1453.53h11.15M1712.27 1453.53h11.15M865.12 1467.64h11.15M932 1467.64h11.15M1366.72 1467.64h11.15M1422.46 1467.64h11.15M1645.39 1467.64h11.15M1389.02 1481.76h11.15M1433.6 1481.76h11.15M709.07 1509.98h11.15M742.51 1509.98h11.15M285.49 1524.09h22.29M619.89 1524.09h11.15M675.63 1524.09h11.15M1054.62 1538.21h11.15M1266.4 1538.21h11.15M1556.22 1538.21h11.15M1812.59 1538.21h11.15M96 1552.32h11.15M330.08 1552.32h11.15M709.07 1552.32h11.15M842.83 1552.32h11.15M943.15 1552.32h11.15M1043.47 1552.32h11.15M1834.89 1552.32h22.29"/>
<path stroke="#fea432" d="M374.67 239.86h11.15M1288.7 239.86h11.15M1310.99 239.86h11.15M1678.83 239.86h11.15M129.44 253.97h11.15M352.37 253.97h22.29M1946.35 253.97h22.29M1244.11 268.08h11.15M1389.02 268.08h11.15M1433.6 268.08h11.15M296.64 282.19h11.15M441.55 282.19h11.15M508.43 282.19h11.15M530.72 282.19h55.73M742.51 282.19h11.15M887.42 282.19h11.15M1166.08 282.19h11.15M1455.9 282.19h11.15M441.55 296.31h11.15M530.72 296.31h11.15M553.01 296.31h33.44M1244.11 296.31h11.15M1277.55 296.31h11.15M1500.48 296.31h11.15M1823.74 296.31h11.15M1088.06 310.42h11.15M1043.47 324.53h11.15M1645.39 352.76h11.15M129.44 366.87h11.15M1968.65 380.98h11.15M107.15 395.09h11.15M1500.48 423.32h11.15M1589.66 423.32h11.15M363.52 437.43h11.15M1645.39 437.43h22.29M1946.35 437.43h11.15M107.15 451.54h11.15M129.44 451.54h11.15M1968.65 451.54h11.15M129.44 465.66h11.15M1968.65 465.66h11.15M96 479.77h11.15M140.59 479.77h11.15M1177.23 479.77h11.15M1255.26 479.77h11.15M1846.03 479.77h11.15M1879.47 479.77h11.15M1946.35 479.77h44.59M1957.5 493.88h22.29M1299.84 507.99h11.15M1857.18 507.99h11.15M1890.62 507.99h55.73M1979.79 507.99h11.15M1210.67 536.22h11.15M1857.18 550.33h11.15M1890.62 550.33h22.29M129.44 564.44h11.15M374.67 564.44h11.15M1946.35 564.44h22.29M1957.5 578.56h11.15M140.59 592.67h11.15M1812.59 592.67h11.15M1846.03 606.78h11.15M1846.03 620.89h11.15M1979.79 620.89h11.15M954.3 635.01h44.59M1834.89 635.01h11.15M1935.21 635.01h11.15M1645.39 649.12h11.15M1968.65 649.12h11.15M430.4 663.23h11.15M352.37 705.57h22.29M408.11 705.57h11.15M396.96 719.68h22.29M1756.86 719.68h22.29M1600.8 747.91h11.15M1099.2 818.47h11.15M1857.18 832.58h33.44M1901.77 832.58h33.44M1790.3 846.69h11.15M1600.8 860.81h11.15M1288.7 917.26h11.15M1010.03 931.37h11.15M1389.02 931.37h11.15M976.59 945.48h11.15M1010.03 945.48h11.15M1422.46 959.59h11.15M385.81 973.71h33.44M709.07 973.71h33.44M1567.36 1001.93h11.15M1689.98 1016.04h11.15M1712.27 1016.04h11.15M1745.71 1016.04h11.15M987.74 1030.16h11.15M1154.94 1114.83h11.15M1188.38 1114.83h22.29M1232.96 1114.83h11.15M1177.23 1128.94h11.15M1154.94 1157.17h11.15M1232.96 1157.17h22.29M1166.08 1171.28h11.15M1188.38 1171.28h11.15M1221.82 1171.28h11.15M1166.08 1199.51h22.29M1589.66 1213.62h11.15M1656.54 1213.62h11.15M1823.74 1213.62h11.15M162.88 1227.73h11.15M229.76 1227.73h11.15M274.35 1227.73h11.15M642.19 1227.73h11.15M1088.06 1227.73h11.15M1121.5 1227.73h11.15M263.2 1241.84h11.15M1054.62 1241.84h11.15M162.88 1255.96h11.15M218.61 1255.96h11.15M274.35 1255.96h11.15M1611.95 1255.96h11.15M151.73 1284.18h11.15M174.03 1284.18h22.29M218.61 1284.18h11.15M240.91 1284.18h22.29M1968.65 1298.29h11.15M330.08 1312.41h33.44M1968.65 1312.41h11.15M107.15 1326.52h11.15M374.67 1326.52h11.15M664.48 1326.52h22.29M887.42 1326.52h11.15M1522.78 1326.52h11.15M1823.74 1326.52h33.44M140.59 1340.63h11.15M1088.06 1340.63h11.15M1132.64 1340.63h11.15M1188.38 1354.74h11.15M1065.76 1368.86h11.15M1154.94 1368.86h11.15M1110.35 1382.97h11.15M419.25 1397.08h11.15M753.66 1397.08h111.47M898.56 1397.08h11.15M887.42 1411.19h11.15M909.71 1411.19h11.15M1310.99 1411.19h11.15M541.87 1425.31h11.15M653.33 1453.53h11.15M887.42 1453.53h11.15M909.71 1453.53h33.44M954.3 1453.53h11.15M976.59 1453.53h11.15M998.88 1453.53h11.15M1021.18 1453.53h11.15M909.71 1467.64h22.29M1455.9 1467.64h11.15M162.88 1495.87h11.15M229.76 1495.87h11.15M263.2 1495.87h11.15M318.93 1495.87h11.15M1667.68 1495.87h11.15M642.19 1509.98h11.15M764.8 1509.98h22.29M798.24 1509.98h11.15M820.54 1509.98h22.29M898.56 1509.98h22.29M1790.3 1509.98h22.29M408.11 1524.09h11.15M709.07 1524.09h11.15M731.36 1524.09h11.15M787.1 1524.09h11.15M809.39 1524.09h11.15M1634.24 1524.09h11.15M1678.83 1524.09h11.15M1834.89 1524.09h22.29M1288.7 1538.21h11.15M1790.3 1538.21h11.15M1946.35 1538.21h11.15M1857.18 1552.32h11.15M1879.47 1552.32h55.73"/>
<path stroke="#f07a19" d="M363.52 239.86h11.15M1054.62 253.97h11.15M1790.3 253.97h22.29M1890.62 253.97h44.59M385.81 268.08h11.15M1266.4 268.08h11.15M430.4 282.19h11.15M1244.11 282.19h11.15M1790.3 282.19h11.15M1823.74 282.19h11.15M1879.47 282.19h11.15M430.4 296.31h11.15M519.57 296.31h11.15M541.87 296.31h11.15M831.68 296.31h33.44M898.56 296.31h33.44M1177.23 296.31h11.15M1968.65 352.76h11.15M96 366.87h22.29M1266.4 380.98h11.15M1979.79 380.98h11.15M96 395.09h11.15M96 409.21h11.15M140.59 409.21h11.15M1522.78 409.21h11.15M1834.89 409.21h11.15M1946.35 409.21h33.44M1611.95 423.32h11.15M1846.03 423.32h11.15M1957.5 423.32h11.15M341.23 437.43h11.15M1478.19 437.43h11.15M1578.51 437.43h11.15M1065.76 451.54h11.15M1255.26 451.54h11.15M1277.55 465.66h11.15M129.44 479.77h11.15M352.37 493.88h11.15M1879.47 507.99h11.15M1968.65 507.99h11.15M1255.26 522.11h11.15M1277.55 522.11h22.29M1310.99 522.11h11.15M1166.08 536.22h11.15M1255.26 536.22h11.15M1310.99 536.22h11.15M341.23 564.44h11.15M363.52 564.44h11.15M1823.74 578.56h11.15M1968.65 578.56h11.15M1790.3 592.67h11.15M1834.89 592.67h22.29M1868.33 592.67h11.15M1879.47 606.78h11.15M1834.89 620.89h11.15M1054.62 649.12h11.15M1054.62 663.23h11.15M1556.22 677.34h11.15M385.81 719.68h11.15M1344.43 733.79h11.15M1377.87 733.79h11.15M1834.89 747.91h11.15M1054.62 832.58h11.15M1812.59 846.69h11.15M285.49 860.81h11.15M1545.07 860.81h11.15M1645.39 860.81h11.15M1522.78 874.92h11.15M1299.84 917.26h11.15M1344.43 931.37h11.15M1344.43 959.59h11.15M943.15 987.82h33.44M998.88 987.82h33.44M976.59 1001.93h11.15M1556.22 1001.93h11.15M943.15 1016.04h11.15M174.03 1058.38h22.29M240.91 1058.38h11.15M285.49 1058.38h11.15M341.23 1058.38h11.15M363.52 1058.38h11.15M419.25 1058.38h11.15M1277.55 1114.83h11.15M96 1143.06h11.15M1266.4 1143.06h11.15M1979.79 1143.06h11.15M1299.84 1157.17h11.15M1310.99 1171.28h11.15M1210.67 1185.39h11.15M1210.67 1199.51h11.15M1232.96 1199.51h22.29M196.32 1213.62h22.29M240.91 1213.62h11.15M263.2 1213.62h11.15M263.2 1227.73h11.15M162.88 1241.84h11.15M196.32 1241.84h22.29M229.76 1241.84h11.15M274.35 1241.84h11.15M162.88 1284.18h11.15M207.47 1284.18h11.15M229.76 1284.18h11.15M363.52 1298.29h11.15M1143.79 1298.29h11.15M307.79 1312.41h11.15M341.23 1326.52h22.29M920.86 1326.52h11.15M352.37 1340.63h22.29M408.11 1340.63h11.15M1968.65 1340.63h11.15M129.44 1368.86h11.15M352.37 1382.97h11.15M608.75 1382.97h11.15M1076.91 1382.97h11.15M1623.1 1382.97h11.15M374.67 1397.08h11.15M1076.91 1397.08h11.15M1110.35 1397.08h11.15M1143.79 1397.08h11.15M341.23 1411.19h11.15M374.67 1411.19h11.15M1288.7 1411.19h11.15M675.63 1425.31h11.15M330.08 1439.42h11.15M352.37 1481.76h22.29M419.25 1495.87h11.15M865.12 1509.98h11.15M943.15 1509.98h11.15M1010.03 1509.98h11.15M753.66 1524.09h11.15M842.83 1524.09h11.15M1979.79 1538.21h11.15M419.25 1552.32h11.15"/>
<path stroke="#d05004" d="M1277.55 239.86h11.15M1912.91 239.86h22.29M1968.65 239.86h11.15M1154.94 253.97h11.15M1188.38 253.97h11.15M1879.47 253.97h11.15M1935.21 253.97h11.15M1277.55 282.19h11.15M385.81 296.31h11.15M1032.32 310.42h11.15M318.93 324.53h11.15M1154.94 338.64h11.15M118.29 409.21h11.15M1846.03 409.21h11.15M1522.78 423.32h11.15M1801.45 451.54h11.15M1946.35 507.99h22.29M1288.7 536.22h11.15M1846.03 578.56h11.15M1979.79 578.56h11.15M1901.77 592.67h11.15M1857.18 606.78h11.15M1890.62 606.78h44.59M1935.21 620.89h11.15M1901.77 635.01h11.15M396.96 691.46h11.15M1076.91 917.26h11.15M954.3 1001.93h11.15M987.74 1001.93h11.15M1021.18 1001.93h11.15M965.44 1016.04h11.15M1021.18 1016.04h11.15M307.79 1058.38h11.15M1088.06 1100.72h11.15M1166.08 1114.83h11.15M1232.96 1143.06h11.15M1288.7 1171.28h11.15M1288.7 1185.39h11.15M1154.94 1199.51h11.15M151.73 1213.62h11.15M218.61 1213.62h11.15M252.05 1213.62h11.15M1957.5 1213.62h11.15M318.93 1298.29h11.15M341.23 1298.29h11.15M1032.32 1312.41h11.15M932 1326.52h11.15M1946.35 1326.52h22.29M1979.79 1326.52h11.15M1099.2 1340.63h11.15M341.23 1368.86h11.15M1946.35 1368.86h22.29M675.63 1382.97h11.15M285.49 1439.42h11.15M307.79 1439.42h11.15M954.3 1509.98h11.15M1065.76 1538.21h11.15M1834.89 1538.21h22.29"/>
<path stroke="#993404" d="M1478.19 239.86h11.15M1901.77 239.86h11.15M419.25 268.08h11.15M1255.26 268.08h11.15M1299.84 268.08h11.15M385.81 282.19h11.15M330.08 324.53h11.15M408.11 324.53h11.15M1979.79 409.21h11.15M1556.22 423.32h11.15M1288.7 479.77h11.15M1310.99 479.77h11.15M1968.65 564.44h22.29M1801.45 592.67h11.15M1812.59 606.78h11.15M1868.33 620.89h22.29M1857.18 635.01h22.29M1890.62 635.01h11.15M1912.91 635.01h22.29M1065.76 649.12h11.15M419.25 790.24h11.15M1623.1 860.81h11.15M943.15 973.71h11.15M965.44 973.71h11.15M998.88 973.71h11.15M1600.8 1016.04h11.15M318.93 1058.38h11.15M1054.62 1086.61h11.15M1177.23 1114.83h11.15M1310.99 1128.94h11.15M1244.11 1185.39h11.15M1522.78 1185.39h11.15M374.67 1298.29h11.15M419.25 1298.29h11.15M1043.47 1312.41h11.15M1065.76 1312.41h11.15M363.52 1326.52h11.15M1968.65 1326.52h11.15M408.11 1368.86h11.15M1143.79 1382.97h11.15M352.37 1397.08h11.15"/>
<path stroke="#662506" d="M1299.84 239.86h11.15M1578.51 239.86h11.15M1600.8 239.86h22.29M1790.3 239.86h11.15M1946.35 239.86h22.29M1177.23 253.97h11.15M1210.67 253.97h11.15M1244.11 253.97h11.15M1266.4 253.97h11.15M1288.7 253.97h33.44M341.23 268.08h11.15M374.67 268.08h11.15M396.96 268.08h11.15M341.23 282.19h11.15M374.67 282.19h11.15M396.96 282.19h11.15M1288.7 282.19h33.44M341.23 296.31h11.15M374.67 296.31h11.15M396.96 296.31h11.15M1288.7 296.31h33.44M285.49 310.42h100.32M1065.76 310.42h11.15M285.49 324.53h33.44M341.23 324.53h44.59M1790.3 451.54h11.15M1812.59 451.54h11.15M1299.84 479.77h11.15M1946.35 550.33h44.59M1790.3 606.78h22.29M1857.18 620.89h11.15M1890.62 620.89h11.15M1912.91 620.89h22.29M1021.18 973.71h11.15M1054.62 1058.38h22.29M1032.32 1072.49h44.59M1065.76 1086.61h11.15M1076.91 1100.72h11.15M1099.2 1100.72h22.29M1143.79 1100.72h11.15M1266.4 1114.83h11.15M1288.7 1114.83h33.44M1299.84 1128.94h11.15M1154.94 1185.39h11.15M1232.96 1185.39h11.15M1266.4 1185.39h11.15M1143.79 1340.63h11.15M1946.35 1354.74h44.59M374.67 1368.86h11.15M1968.65 1368.86h22.29"/>
<path stroke="#fffdda" d="M653.33 239.86h22.29M865.12 239.86h22.29M943.15 239.86h22.29M987.74 239.86h11.15M1333.28 239.86h11.15M1400.16 239.86h11.15M1433.6 239.86h11.15M1467.04 239.86h11.15M1489.34 239.86h11.15M1712.27 239.86h11.15M1745.71 239.86h11.15M1812.59 239.86h11.15M174.03 253.97h22.29M240.91 253.97h11.15M296.64 253.97h11.15M318.93 253.97h22.29M1076.91 253.97h11.15M1099.2 253.97h11.15M1344.43 253.97h44.59M1411.31 253.97h11.15M1467.04 253.97h11.15M1656.54 253.97h11.15M1689.98 253.97h33.44M1734.56 253.97h55.73M96 268.08h11.15M118.29 268.08h11.15M140.59 268.08h11.15M240.91 268.08h11.15M408.11 268.08h11.15M452.69 268.08h11.15M508.43 268.08h11.15M1054.62 268.08h11.15M1188.38 268.08h11.15M1567.36 268.08h22.29M1935.21 268.08h11.15M1076.91 282.19h11.15M1143.79 282.19h11.15M1333.28 282.19h11.15M1578.51 282.19h11.15M107.15 296.31h11.15M1054.62 296.31h11.15M1210.67 296.31h22.29M1411.31 296.31h22.29M1444.75 296.31h11.15M1489.34 296.31h11.15M1522.78 296.31h11.15M1678.83 296.31h11.15M1734.56 296.31h11.15M1912.91 296.31h22.29M385.81 310.42h22.29M430.4 310.42h11.15M474.99 310.42h11.15M519.57 310.42h22.29M664.48 310.42h22.29M1121.5 310.42h11.15M1244.11 310.42h11.15M1322.14 310.42h11.15M1511.63 310.42h11.15M1567.36 310.42h11.15M1589.66 310.42h11.15M1678.83 310.42h11.15M1756.86 310.42h22.29M1812.59 310.42h11.15M1834.89 310.42h11.15M1879.47 310.42h22.29M1912.91 310.42h33.44M463.84 324.53h11.15M497.28 324.53h11.15M586.45 324.53h22.29M631.04 324.53h11.15M653.33 324.53h11.15M932 324.53h11.15M954.3 324.53h11.15M1065.76 324.53h11.15M1166.08 324.53h11.15M1232.96 324.53h11.15M1322.14 324.53h22.29M1511.63 324.53h11.15M1957.5 324.53h11.15M162.88 338.64h11.15M196.32 338.64h11.15M252.05 338.64h11.15M274.35 338.64h11.15M318.93 338.64h11.15M396.96 338.64h11.15M419.25 338.64h11.15M697.92 338.64h44.59M965.44 338.64h11.15M987.74 338.64h11.15M1021.18 338.64h11.15M1344.43 338.64h11.15M1567.36 338.64h11.15M1745.71 338.64h11.15M1979.79 338.64h11.15M118.29 352.76h22.29M207.47 352.76h11.15M441.55 352.76h11.15M463.84 352.76h11.15M486.13 352.76h11.15M508.43 352.76h11.15M619.89 352.76h11.15M675.63 352.76h22.29M709.07 352.76h33.44M965.44 352.76h11.15M998.88 352.76h22.29M1043.47 352.76h22.29M1177.23 352.76h11.15M1545.07 352.76h22.29M1689.98 352.76h11.15M1756.86 352.76h11.15M263.2 366.87h11.15M396.96 366.87h11.15M619.89 366.87h11.15M642.19 366.87h11.15M664.48 366.87h11.15M697.92 366.87h44.59M753.66 366.87h111.47M998.88 366.87h11.15M1099.2 366.87h11.15M1366.72 366.87h11.15M1478.19 366.87h11.15M1545.07 366.87h11.15M1578.51 366.87h11.15M1611.95 366.87h11.15M1645.39 366.87h11.15M1823.74 366.87h11.15M252.05 380.98h11.15M430.4 380.98h22.29M463.84 380.98h44.59M519.57 380.98h22.29M564.16 380.98h11.15M675.63 380.98h11.15M1143.79 380.98h11.15M1166.08 380.98h11.15M1478.19 380.98h11.15M1533.92 380.98h11.15M1667.68 380.98h11.15M1723.42 380.98h11.15M1834.89 380.98h11.15M1935.21 380.98h11.15M162.88 395.09h11.15M229.76 395.09h11.15M274.35 395.09h11.15M474.99 395.09h11.15M497.28 395.09h11.15M530.72 395.09h78.03M675.63 395.09h11.15M887.42 395.09h11.15M1088.06 395.09h22.29M1244.11 395.09h11.15M1467.04 395.09h11.15M1500.48 395.09h22.29M1578.51 395.09h11.15M1611.95 395.09h11.15M1812.59 395.09h11.15M1912.91 395.09h22.29M263.2 409.21h11.15M285.49 409.21h22.29M374.67 409.21h11.15M653.33 409.21h11.15M1467.04 409.21h11.15M1656.54 409.21h11.15M1779.15 409.21h11.15M107.15 423.32h22.29M296.64 423.32h11.15M541.87 423.32h11.15M575.31 423.32h11.15M597.6 423.32h11.15M720.22 423.32h22.29M809.39 423.32h11.15M1032.32 423.32h22.29M1099.2 423.32h11.15M1255.26 423.32h11.15M1299.84 423.32h11.15M1366.72 423.32h11.15M1411.31 423.32h11.15M1567.36 423.32h11.15M174.03 437.43h22.29M240.91 437.43h11.15M664.48 437.43h11.15M1054.62 437.43h11.15M1333.28 437.43h22.29M1511.63 437.43h11.15M1901.77 437.43h22.29M385.81 451.54h33.44M1377.87 451.54h11.15M1444.75 451.54h11.15M1567.36 451.54h11.15M1589.66 451.54h11.15M463.84 465.66h11.15M486.13 465.66h11.15M1433.6 465.66h22.29M1678.83 465.66h11.15M174.03 479.77h22.29M240.91 479.77h11.15M263.2 479.77h11.15M285.49 479.77h11.15M352.37 479.77h11.15M631.04 479.77h11.15M653.33 479.77h11.15M686.78 479.77h11.15M909.71 479.77h11.15M1065.76 479.77h11.15M1355.58 479.77h11.15M1377.87 479.77h11.15M1723.42 479.77h11.15M107.15 493.88h11.15M408.11 493.88h11.15M430.4 493.88h11.15M486.13 493.88h11.15M530.72 493.88h11.15M575.31 493.88h11.15M631.04 493.88h11.15M686.78 493.88h22.29M787.1 493.88h44.59M1154.94 493.88h11.15M1322.14 493.88h11.15M174.03 507.99h22.29M240.91 507.99h11.15M318.93 507.99h22.29M653.33 507.99h22.29M709.07 507.99h22.29M742.51 507.99h11.15M932 507.99h11.15M1110.35 507.99h11.15M1188.38 507.99h11.15M1288.7 507.99h11.15M1344.43 507.99h22.29M1400.16 507.99h11.15M1556.22 507.99h22.29M1712.27 507.99h11.15M1734.56 507.99h55.73M307.79 522.11h11.15M441.55 522.11h11.15M508.43 522.11h11.15M530.72 522.11h11.15M619.89 522.11h11.15M675.63 522.11h11.15M697.92 522.11h22.29M731.36 522.11h11.15M1199.52 522.11h11.15M1333.28 522.11h11.15M1355.58 522.11h11.15M1377.87 522.11h11.15M1678.83 522.11h11.15M1768 522.11h11.15M140.59 536.22h11.15M285.49 536.22h33.44M330.08 536.22h11.15M352.37 536.22h11.15M452.69 536.22h11.15M497.28 536.22h11.15M865.12 536.22h22.29M920.86 536.22h11.15M998.88 536.22h11.15M1054.62 536.22h11.15M1099.2 536.22h11.15M1121.5 536.22h11.15M1377.87 536.22h11.15M1444.75 536.22h11.15M1467.04 536.22h11.15M1489.34 536.22h11.15M1656.54 536.22h11.15M1712.27 536.22h11.15M1745.71 536.22h11.15M263.2 550.33h11.15M396.96 550.33h11.15M441.55 550.33h11.15M474.99 550.33h11.15M508.43 550.33h11.15M541.87 550.33h11.15M586.45 550.33h22.29M954.3 550.33h11.15M976.59 550.33h55.73M1143.79 550.33h11.15M1199.52 550.33h11.15M1310.99 550.33h33.44M1377.87 550.33h11.15M1411.31 550.33h11.15M1500.48 550.33h11.15M1545.07 550.33h11.15M96 564.44h11.15M151.73 564.44h11.15M218.61 564.44h11.15M419.25 564.44h22.29M463.84 564.44h11.15M486.13 564.44h11.15M530.72 564.44h33.44M608.75 564.44h11.15M664.48 564.44h22.29M742.51 564.44h11.15M787.1 564.44h11.15M809.39 564.44h22.29M954.3 564.44h11.15M976.59 564.44h22.29M1010.03 564.44h11.15M1177.23 564.44h11.15M1299.84 564.44h11.15M1333.28 564.44h11.15M1355.58 564.44h11.15M1377.87 564.44h11.15M1411.31 564.44h22.29M1489.34 564.44h11.15M1567.36 564.44h11.15M1589.66 564.44h11.15M1611.95 564.44h11.15M296.64 578.56h11.15M352.37 578.56h11.15M374.67 578.56h11.15M452.69 578.56h11.15M474.99 578.56h11.15M530.72 578.56h11.15M553.01 578.56h11.15M586.45 578.56h22.29M987.74 578.56h11.15M1065.76 578.56h11.15M1110.35 578.56h11.15M1232.96 578.56h11.15M1266.4 578.56h11.15M1355.58 578.56h22.29M1444.75 578.56h11.15M1533.92 578.56h11.15M1556.22 578.56h11.15M1634.24 578.56h11.15M1667.68 578.56h11.15M1890.62 578.56h11.15M1912.91 578.56h22.29M541.87 592.67h11.15M631.04 592.67h11.15M686.78 592.67h22.29M943.15 592.67h11.15M1433.6 592.67h11.15M1455.9 592.67h11.15M1522.78 592.67h11.15M1589.66 592.67h11.15M430.4 606.78h11.15M474.99 606.78h11.15M508.43 606.78h11.15M541.87 606.78h11.15M586.45 606.78h22.29M664.48 606.78h11.15M943.15 606.78h11.15M965.44 606.78h22.29M1010.03 606.78h11.15M1166.08 606.78h11.15M1288.7 606.78h11.15M1310.99 606.78h11.15M1355.58 606.78h11.15M1377.87 606.78h11.15M1422.46 606.78h22.29M1500.48 606.78h11.15M1678.83 606.78h11.15M1723.42 606.78h11.15M1968.65 606.78h11.15M96 620.89h22.29M140.59 620.89h11.15M653.33 620.89h11.15M720.22 620.89h22.29M831.68 620.89h22.29M865.12 620.89h22.29M909.71 620.89h11.15M1010.03 620.89h22.29M1166.08 620.89h11.15M1188.38 620.89h11.15M1377.87 620.89h11.15M1467.04 620.89h11.15M1611.95 620.89h11.15M1645.39 620.89h11.15M1712.27 620.89h11.15M96 635.01h33.44M631.04 635.01h11.15M697.92 635.01h22.29M731.36 635.01h22.29M1188.38 635.01h11.15M1333.28 635.01h11.15M1366.72 635.01h22.29M1400.16 635.01h11.15M1545.07 635.01h22.29M1623.1 635.01h11.15M1667.68 635.01h11.15M1701.12 635.01h22.29M1734.56 635.01h55.73M107.15 649.12h22.29M207.47 649.12h33.44M252.05 649.12h11.15M274.35 649.12h11.15M497.28 649.12h22.29M541.87 649.12h11.15M564.16 649.12h22.29M597.6 649.12h11.15M631.04 649.12h11.15M1244.11 649.12h11.15M1266.4 649.12h11.15M1377.87 649.12h22.29M1411.31 649.12h11.15M1455.9 649.12h22.29M1489.34 649.12h22.29M1689.98 649.12h11.15M1745.71 649.12h11.15M1823.74 649.12h11.15M1879.47 649.12h11.15M318.93 663.23h11.15M631.04 663.23h78.03M720.22 663.23h11.15M742.51 663.23h11.15M932 663.23h11.15M1177.23 663.23h11.15M1210.67 663.23h11.15M1389.02 663.23h11.15M1433.6 663.23h11.15M1467.04 663.23h22.29M1623.1 663.23h11.15M1879.47 663.23h11.15M107.15 677.34h11.15M385.81 677.34h22.29M586.45 677.34h11.15M619.89 677.34h22.29M709.07 677.34h11.15M1054.62 677.34h22.29M1154.94 677.34h22.29M1188.38 677.34h11.15M1611.95 677.34h11.15M1667.68 677.34h11.15M1723.42 677.34h11.15M1879.47 677.34h11.15M1935.21 677.34h11.15M174.03 691.46h22.29M240.91 691.46h11.15M363.52 691.46h11.15M497.28 691.46h11.15M519.57 691.46h22.29M553.01 691.46h33.44M631.04 691.46h11.15M653.33 691.46h11.15M1076.91 691.46h11.15M1344.43 691.46h11.15M1400.16 691.46h11.15M1444.75 691.46h11.15M1522.78 691.46h11.15M1623.1 691.46h11.15M1756.86 691.46h22.29M1812.59 691.46h44.59M1935.21 691.46h11.15M1968.65 691.46h22.29M174.03 705.57h22.29M240.91 705.57h11.15M296.64 705.57h11.15M385.81 705.57h11.15M564.16 705.57h11.15M597.6 705.57h11.15M1166.08 705.57h11.15M1188.38 705.57h22.29M1244.11 705.57h11.15M1366.72 705.57h11.15M1455.9 705.57h22.29M1489.34 705.57h11.15M1533.92 705.57h11.15M1589.66 705.57h11.15M1623.1 705.57h11.15M1756.86 705.57h22.29M1935.21 705.57h11.15M1968.65 705.57h11.15M151.73 719.68h133.76M330.08 719.68h11.15M352.37 719.68h11.15M664.48 719.68h11.15M731.36 719.68h11.15M798.24 719.68h11.15M820.54 719.68h11.15M898.56 719.68h11.15M1210.67 719.68h11.15M1344.43 719.68h22.29M1389.02 719.68h11.15M1433.6 719.68h11.15M1455.9 719.68h22.29M1545.07 719.68h11.15M1667.68 719.68h11.15M1890.62 719.68h44.59M1968.65 719.68h11.15M352.37 733.79h11.15M497.28 733.79h11.15M530.72 733.79h11.15M553.01 733.79h11.15M575.31 733.79h11.15M653.33 733.79h11.15M887.42 733.79h11.15M1154.94 733.79h11.15M1244.11 733.79h11.15M1288.7 733.79h11.15M1310.99 733.79h22.29M1545.07 733.79h11.15M118.29 747.91h11.15M151.73 747.91h11.15M207.47 747.91h11.15M252.05 747.91h11.15M352.37 747.91h22.29M419.25 747.91h22.29M452.69 747.91h11.15M474.99 747.91h11.15M497.28 747.91h11.15M553.01 747.91h11.15M586.45 747.91h22.29M1188.38 747.91h11.15M1210.67 747.91h11.15M1500.48 747.91h11.15M1701.12 747.91h11.15M1723.42 747.91h11.15M1756.86 747.91h11.15M1968.65 747.91h11.15M96 762.02h11.15M330.08 762.02h11.15M1589.66 762.02h11.15M709.07 776.13h11.15M1088.06 776.13h11.15M1110.35 776.13h11.15M1154.94 776.13h11.15M1232.96 776.13h11.15M1255.26 776.13h22.29M1288.7 776.13h11.15M1322.14 776.13h11.15M1444.75 776.13h11.15M1556.22 776.13h11.15M1645.39 776.13h11.15M1678.83 776.13h11.15M107.15 790.24h11.15M374.67 790.24h11.15M1132.64 790.24h11.15M1199.52 790.24h11.15M1277.55 790.24h11.15M1299.84 790.24h22.29M1333.28 790.24h11.15M1411.31 790.24h11.15M1467.04 790.24h11.15M1712.27 790.24h11.15M1745.71 790.24h11.15M1857.18 790.24h11.15M1946.35 790.24h11.15M107.15 804.36h11.15M285.49 804.36h22.29M419.25 804.36h11.15M1199.52 804.36h11.15M1221.82 804.36h11.15M1634.24 804.36h44.59M1768 804.36h11.15M1801.45 804.36h11.15M1834.89 804.36h11.15M1946.35 804.36h11.15M408.11 818.47h11.15M463.84 818.47h11.15M486.13 818.47h11.15M597.6 818.47h11.15M742.51 818.47h11.15M976.59 818.47h11.15M1043.47 818.47h22.29M1221.82 818.47h11.15M1277.55 818.47h11.15M1299.84 818.47h11.15M1366.72 818.47h11.15M1389.02 818.47h11.15M1433.6 818.47h11.15M1455.9 818.47h11.15M1522.78 818.47h11.15M1645.39 818.47h11.15M1734.56 818.47h11.15M140.59 832.58h11.15M318.93 832.58h22.29M1154.94 832.58h11.15M1188.38 832.58h22.29M1221.82 832.58h11.15M1266.4 832.58h11.15M1299.84 832.58h11.15M1333.28 832.58h11.15M1701.12 832.58h33.44M1154.94 846.69h11.15M1422.46 846.69h11.15M1689.98 846.69h11.15M1712.27 846.69h11.15M1745.71 846.69h11.15M374.67 860.81h11.15M463.84 860.81h11.15M486.13 860.81h11.15M530.72 860.81h11.15M575.31 860.81h33.44M1143.79 860.81h11.15M1177.23 860.81h11.15M1310.99 860.81h22.29M1444.75 860.81h11.15M1868.33 860.81h11.15M162.88 874.92h11.15M229.76 874.92h11.15M252.05 874.92h22.29M296.64 874.92h22.29M374.67 874.92h33.44M508.43 874.92h11.15M586.45 874.92h22.29M731.36 874.92h11.15M965.44 874.92h33.44M1154.94 874.92h11.15M1400.16 874.92h11.15M1589.66 874.92h11.15M1645.39 874.92h11.15M1734.56 874.92h11.15M1779.15 874.92h11.15M1968.65 874.92h11.15M151.73 889.03h11.15M174.03 889.03h22.29M218.61 889.03h11.15M240.91 889.03h33.44M296.64 889.03h11.15M341.23 889.03h11.15M363.52 889.03h11.15M508.43 889.03h33.44M553.01 889.03h33.44M675.63 889.03h11.15M731.36 889.03h11.15M753.66 889.03h133.76M898.56 889.03h11.15M1132.64 889.03h11.15M1154.94 889.03h11.15M1232.96 889.03h11.15M1377.87 889.03h11.15M1400.16 889.03h11.15M1444.75 889.03h11.15M1467.04 889.03h11.15M1500.48 889.03h11.15M1545.07 889.03h11.15M118.29 903.14h11.15M151.73 903.14h33.44M207.47 903.14h11.15M240.91 903.14h22.29M274.35 903.14h11.15M307.79 903.14h33.44M352.37 903.14h11.15M530.72 903.14h66.88M653.33 903.14h11.15M909.71 903.14h11.15M943.15 903.14h22.29M1010.03 903.14h33.44M1088.06 903.14h11.15M1132.64 903.14h11.15M1177.23 903.14h11.15M1199.52 903.14h11.15M1333.28 903.14h11.15M1400.16 903.14h11.15M1444.75 903.14h11.15M1979.79 903.14h11.15M118.29 917.26h22.29M396.96 917.26h11.15M430.4 917.26h22.29M486.13 917.26h11.15M508.43 917.26h11.15M608.75 917.26h11.15M932 917.26h11.15M1088.06 917.26h11.15M1377.87 917.26h22.29M1444.75 917.26h11.15M1611.95 917.26h11.15M1689.98 917.26h11.15M1723.42 917.26h22.29M1779.15 917.26h11.15M1879.47 917.26h11.15M129.44 931.37h11.15M296.64 931.37h11.15M419.25 931.37h22.29M452.69 931.37h44.59M586.45 931.37h11.15M653.33 931.37h11.15M742.51 931.37h11.15M764.8 931.37h11.15M1143.79 931.37h11.15M1478.19 931.37h11.15M1556.22 931.37h11.15M1712.27 931.37h22.29M1768 931.37h22.29M296.64 945.48h11.15M330.08 945.48h11.15M519.57 945.48h22.29M553.01 945.48h11.15M675.63 945.48h11.15M1121.5 945.48h22.29M1355.58 945.48h11.15M1400.16 945.48h44.59M1455.9 945.48h11.15M1689.98 945.48h11.15M1756.86 945.48h22.29M1801.45 945.48h11.15M1857.18 945.48h44.59M1912.91 945.48h11.15M1935.21 945.48h11.15M174.03 959.59h22.29M240.91 959.59h11.15M408.11 959.59h11.15M675.63 959.59h11.15M1032.32 959.59h11.15M1299.84 959.59h11.15M1400.16 959.59h22.29M1511.63 959.59h11.15M1545.07 959.59h11.15M1611.95 959.59h22.29M1701.12 959.59h22.29M1756.86 959.59h33.44M1846.03 959.59h22.29M1890.62 959.59h11.15M1912.91 959.59h22.29M1946.35 959.59h11.15M140.59 973.71h11.15M330.08 973.71h11.15M463.84 973.71h11.15M486.13 973.71h11.15M664.48 973.71h11.15M742.51 973.71h11.15M1088.06 973.71h22.29M1277.55 973.71h11.15M1355.58 973.71h11.15M1400.16 973.71h22.29M1478.19 973.71h11.15M1567.36 973.71h33.44M631.04 987.82h11.15M1288.7 987.82h22.29M1467.04 987.82h11.15M1500.48 987.82h22.29M1533.92 987.82h11.15M1589.66 987.82h11.15M1611.95 987.82h11.15M419.25 1001.93h11.15M452.69 1001.93h11.15M541.87 1001.93h11.15M697.92 1001.93h44.59M920.86 1001.93h22.29M1143.79 1001.93h11.15M1244.11 1001.93h11.15M1400.16 1001.93h22.29M1444.75 1001.93h11.15M1600.8 1001.93h11.15M1678.83 1001.93h11.15M1734.56 1001.93h11.15M1756.86 1001.93h33.44M1979.79 1001.93h11.15M441.55 1016.04h11.15M653.33 1016.04h11.15M1143.79 1016.04h11.15M1411.31 1016.04h33.44M1489.34 1016.04h11.15M1567.36 1016.04h11.15M1678.83 1016.04h11.15M285.49 1030.16h11.15M318.93 1030.16h11.15M619.89 1030.16h11.15M1277.55 1030.16h11.15M1344.43 1030.16h11.15M1511.63 1030.16h11.15M1611.95 1030.16h11.15M1689.98 1030.16h11.15M1723.42 1030.16h22.29M1779.15 1030.16h11.15M140.59 1044.27h11.15M285.49 1044.27h11.15M619.89 1044.27h11.15M642.19 1044.27h22.29M742.51 1044.27h11.15M976.59 1044.27h22.29M1021.18 1044.27h11.15M1054.62 1044.27h11.15M1088.06 1044.27h22.29M1121.5 1044.27h11.15M1255.26 1044.27h11.15M1545.07 1044.27h11.15M1567.36 1044.27h11.15M1723.42 1044.27h22.29M129.44 1058.38h22.29M653.33 1058.38h11.15M742.51 1058.38h89.17M842.83 1058.38h44.59M898.56 1058.38h11.15M1210.67 1058.38h11.15M1344.43 1058.38h11.15M1411.31 1058.38h11.15M1444.75 1058.38h11.15M1645.39 1058.38h11.15M1689.98 1058.38h11.15M1723.42 1058.38h11.15M1834.89 1058.38h11.15M385.81 1072.49h11.15M441.55 1072.49h11.15M564.16 1072.49h11.15M709.07 1072.49h11.15M1154.94 1072.49h11.15M1188.38 1072.49h11.15M1344.43 1072.49h11.15M1411.31 1072.49h11.15M1879.47 1072.49h11.15M686.78 1086.61h11.15M865.12 1086.61h22.29M965.44 1086.61h11.15M1366.72 1086.61h11.15M1455.9 1086.61h22.29M1500.48 1086.61h11.15M1712.27 1086.61h11.15M1790.3 1086.61h11.15M1812.59 1086.61h11.15M1868.33 1086.61h11.15M252.05 1100.72h11.15M296.64 1100.72h11.15M452.69 1100.72h11.15M530.72 1100.72h11.15M553.01 1100.72h33.44M920.86 1100.72h11.15M1021.18 1100.72h11.15M1255.26 1100.72h22.29M1322.14 1100.72h22.29M1478.19 1100.72h11.15M1578.51 1100.72h11.15M1645.39 1100.72h22.29M1678.83 1100.72h11.15M1701.12 1100.72h22.29M1946.35 1100.72h22.29M151.73 1114.83h11.15M196.32 1114.83h11.15M218.61 1114.83h11.15M252.05 1114.83h22.29M330.08 1114.83h22.29M374.67 1114.83h11.15M396.96 1114.83h22.29M463.84 1114.83h11.15M497.28 1114.83h22.29M586.45 1114.83h22.29M697.92 1114.83h22.29M1032.32 1114.83h11.15M1088.06 1114.83h11.15M1322.14 1114.83h11.15M1344.43 1114.83h11.15M1444.75 1114.83h11.15M1723.42 1114.83h11.15M1779.15 1114.83h11.15M1801.45 1114.83h11.15M1846.03 1114.83h11.15M196.32 1128.94h11.15M229.76 1128.94h11.15M541.87 1128.94h11.15M976.59 1128.94h22.29M1110.35 1128.94h11.15M1143.79 1128.94h11.15M1221.82 1128.94h11.15M1533.92 1128.94h11.15M1578.51 1128.94h11.15M1689.98 1128.94h11.15M1979.79 1128.94h11.15M140.59 1143.06h11.15M263.2 1143.06h11.15M653.33 1143.06h11.15M697.92 1143.06h11.15M720.22 1143.06h11.15M1043.47 1143.06h33.44M1255.26 1143.06h11.15M1422.46 1143.06h11.15M1556.22 1143.06h11.15M1712.27 1143.06h11.15M1756.86 1143.06h11.15M1846.03 1143.06h11.15M675.63 1157.17h11.15M831.68 1157.17h33.44M898.56 1157.17h11.15M1255.26 1157.17h11.15M1366.72 1157.17h11.15M1389.02 1157.17h11.15M1433.6 1157.17h11.15M1455.9 1157.17h11.15M1478.19 1157.17h11.15M1545.07 1157.17h11.15M1589.66 1157.17h11.15M363.52 1171.28h11.15M385.81 1171.28h22.29M430.4 1171.28h11.15M474.99 1171.28h33.44M519.57 1171.28h44.59M575.31 1171.28h11.15M597.6 1171.28h11.15M954.3 1171.28h22.29M1010.03 1171.28h22.29M1121.5 1171.28h11.15M1422.46 1171.28h11.15M1478.19 1171.28h11.15M1556.22 1171.28h11.15M1623.1 1171.28h11.15M1656.54 1171.28h11.15M385.81 1185.39h11.15M631.04 1185.39h11.15M675.63 1185.39h11.15M764.8 1185.39h100.32M898.56 1185.39h22.29M954.3 1185.39h22.29M1333.28 1185.39h11.15M1411.31 1185.39h11.15M1444.75 1185.39h11.15M1734.56 1185.39h22.29M1790.3 1185.39h11.15M1834.89 1185.39h44.59M1890.62 1185.39h44.59M151.73 1199.51h11.15M218.61 1199.51h11.15M252.05 1199.51h22.29M385.81 1199.51h22.29M675.63 1199.51h11.15M887.42 1199.51h11.15M932 1199.51h22.29M965.44 1199.51h11.15M998.88 1199.51h33.44M1578.51 1199.51h11.15M1634.24 1199.51h22.29M1935.21 1199.51h11.15M1968.65 1199.51h11.15M318.93 1213.62h22.29M352.37 1213.62h11.15M374.67 1213.62h11.15M530.72 1213.62h44.59M586.45 1213.62h22.29M753.66 1213.62h11.15M842.83 1213.62h22.29M876.27 1213.62h11.15M954.3 1213.62h78.03M1099.2 1213.62h22.29M1154.94 1213.62h22.29M1299.84 1213.62h11.15M1411.31 1213.62h11.15M1444.75 1213.62h11.15M1979.79 1213.62h11.15M107.15 1227.73h11.15M318.93 1227.73h11.15M396.96 1227.73h11.15M419.25 1227.73h22.29M474.99 1227.73h44.59M530.72 1227.73h22.29M564.16 1227.73h22.29M1188.38 1227.73h11.15M1232.96 1227.73h33.44M1489.34 1227.73h22.29M1589.66 1227.73h11.15M1812.59 1227.73h11.15M1868.33 1227.73h11.15M296.64 1241.84h33.44M374.67 1241.84h22.29M798.24 1241.84h33.44M1043.47 1241.84h11.15M1266.4 1241.84h11.15M1310.99 1241.84h11.15M1333.28 1241.84h11.15M1500.48 1241.84h11.15M1533.92 1241.84h11.15M1578.51 1241.84h11.15M1678.83 1241.84h11.15M1701.12 1241.84h11.15M1734.56 1241.84h11.15M1935.21 1241.84h11.15M1979.79 1241.84h11.15M129.44 1255.96h11.15M318.93 1255.96h11.15M430.4 1255.96h11.15M463.84 1255.96h11.15M519.57 1255.96h11.15M541.87 1255.96h11.15M686.78 1255.96h11.15M1032.32 1255.96h33.44M1310.99 1255.96h11.15M1422.46 1255.96h11.15M1444.75 1255.96h33.44M1533.92 1255.96h11.15M1667.68 1255.96h11.15M1823.74 1255.96h11.15M129.44 1270.07h11.15M307.79 1270.07h11.15M419.25 1270.07h11.15M686.78 1270.07h33.44M731.36 1270.07h11.15M831.68 1270.07h55.73M898.56 1270.07h22.29M987.74 1270.07h33.44M1110.35 1270.07h11.15M1199.52 1270.07h11.15M1266.4 1270.07h11.15M1578.51 1270.07h11.15M1678.83 1270.07h11.15M1756.86 1270.07h22.29M140.59 1284.18h11.15M352.37 1284.18h22.29M419.25 1284.18h11.15M631.04 1284.18h11.15M1010.03 1284.18h11.15M1255.26 1284.18h11.15M1533.92 1284.18h11.15M1701.12 1284.18h11.15M1823.74 1284.18h11.15M207.47 1298.29h11.15M430.4 1298.29h11.15M474.99 1298.29h22.29M519.57 1298.29h22.29M575.31 1298.29h11.15M842.83 1298.29h11.15M976.59 1298.29h22.29M1076.91 1298.29h11.15M1322.14 1298.29h11.15M1366.72 1298.29h11.15M1634.24 1298.29h11.15M162.88 1312.41h11.15M196.32 1312.41h11.15M218.61 1312.41h33.44M274.35 1312.41h11.15M686.78 1312.41h11.15M932 1312.41h11.15M965.44 1312.41h22.29M1088.06 1312.41h11.15M1199.52 1312.41h33.44M1255.26 1312.41h11.15M1299.84 1312.41h11.15M1667.68 1312.41h11.15M1857.18 1312.41h11.15M1879.47 1312.41h11.15M419.25 1326.52h11.15M452.69 1326.52h11.15M553.01 1326.52h33.44M619.89 1326.52h11.15M1166.08 1326.52h11.15M1188.38 1326.52h22.29M1355.58 1326.52h11.15M1634.24 1326.52h11.15M1701.12 1326.52h11.15M196.32 1340.63h22.29M296.64 1340.63h33.44M419.25 1340.63h11.15M497.28 1340.63h11.15M530.72 1340.63h11.15M553.01 1340.63h22.29M731.36 1340.63h11.15M753.66 1340.63h33.44M831.68 1340.63h33.44M932 1340.63h11.15M1032.32 1340.63h11.15M1054.62 1340.63h11.15M1177.23 1340.63h11.15M1210.67 1340.63h11.15M1355.58 1340.63h33.44M1467.04 1340.63h11.15M1678.83 1340.63h11.15M1745.71 1340.63h11.15M1768 1340.63h11.15M1790.3 1340.63h11.15M1857.18 1340.63h11.15M1890.62 1340.63h11.15M107.15 1354.74h11.15M285.49 1354.74h11.15M385.81 1354.74h11.15M441.55 1354.74h11.15M463.84 1354.74h11.15M486.13 1354.74h11.15M586.45 1354.74h22.29M653.33 1354.74h11.15M697.92 1354.74h44.59M954.3 1354.74h11.15M1010.03 1354.74h11.15M1054.62 1354.74h11.15M1154.94 1354.74h11.15M1232.96 1354.74h11.15M1400.16 1354.74h11.15M1812.59 1354.74h11.15M1834.89 1354.74h11.15M140.59 1368.86h11.15M307.79 1368.86h22.29M352.37 1368.86h11.15M430.4 1368.86h33.44M508.43 1368.86h11.15M675.63 1368.86h11.15M764.8 1368.86h22.29M831.68 1368.86h11.15M853.98 1368.86h33.44M898.56 1368.86h11.15M932 1368.86h11.15M965.44 1368.86h55.73M1199.52 1368.86h11.15M1277.55 1368.86h11.15M1478.19 1368.86h11.15M1500.48 1368.86h11.15M1567.36 1368.86h11.15M1812.59 1368.86h11.15M1868.33 1368.86h11.15M1912.91 1368.86h22.29M374.67 1382.97h11.15M396.96 1382.97h11.15M519.57 1382.97h11.15M541.87 1382.97h11.15M943.15 1382.97h11.15M998.88 1382.97h22.29M1188.38 1382.97h11.15M1210.67 1382.97h11.15M1389.02 1382.97h22.29M1433.6 1382.97h11.15M1455.9 1382.97h11.15M1701.12 1382.97h11.15M1812.59 1382.97h11.15M1868.33 1382.97h11.15M1901.77 1382.97h11.15M151.73 1397.08h11.15M285.49 1397.08h11.15M954.3 1397.08h22.29M1010.03 1397.08h22.29M1322.14 1397.08h11.15M1366.72 1397.08h11.15M1455.9 1397.08h11.15M1812.59 1397.08h11.15M1834.89 1397.08h22.29M1979.79 1397.08h11.15M285.49 1411.19h22.29M452.69 1411.19h11.15M474.99 1411.19h11.15M1065.76 1411.19h11.15M1389.02 1411.19h11.15M1422.46 1411.19h33.44M1611.95 1411.19h11.15M1912.91 1411.19h22.29M419.25 1425.31h11.15M909.71 1425.31h11.15M1043.47 1425.31h11.15M1088.06 1425.31h11.15M1199.52 1425.31h11.15M1322.14 1425.31h11.15M1600.8 1425.31h11.15M1645.39 1425.31h11.15M1689.98 1425.31h11.15M1812.59 1425.31h11.15M1946.35 1425.31h11.15M1979.79 1425.31h11.15M151.73 1439.42h22.29M196.32 1439.42h11.15M218.61 1439.42h22.29M252.05 1439.42h11.15M385.81 1439.42h11.15M742.51 1439.42h11.15M1043.47 1439.42h11.15M1099.2 1439.42h11.15M1154.94 1439.42h11.15M1299.84 1439.42h11.15M1834.89 1439.42h11.15M1868.33 1439.42h11.15M1979.79 1439.42h11.15M96 1453.53h33.44M307.79 1453.53h44.59M385.81 1453.53h22.29M430.4 1453.53h11.15M1032.32 1453.53h11.15M1400.16 1453.53h11.15M1422.46 1453.53h11.15M1489.34 1453.53h11.15M1511.63 1453.53h11.15M1600.8 1453.53h11.15M1801.45 1453.53h11.15M1868.33 1453.53h11.15M162.88 1467.64h11.15M207.47 1467.64h11.15M385.81 1467.64h11.15M631.04 1467.64h11.15M1043.47 1467.64h11.15M1099.2 1467.64h11.15M1210.67 1467.64h11.15M1444.75 1467.64h11.15M1578.51 1467.64h11.15M1779.15 1467.64h11.15M1846.03 1467.64h11.15M408.11 1481.76h11.15M586.45 1481.76h11.15M764.8 1481.76h22.29M831.68 1481.76h11.15M876.27 1481.76h11.15M909.71 1481.76h11.15M1489.34 1481.76h11.15M1511.63 1481.76h11.15M1545.07 1481.76h11.15M1745.71 1481.76h11.15M1901.77 1481.76h11.15M341.23 1495.87h11.15M363.52 1495.87h22.29M408.11 1495.87h11.15M463.84 1495.87h11.15M586.45 1495.87h33.44M853.98 1495.87h22.29M898.56 1495.87h11.15M954.3 1495.87h11.15M1232.96 1495.87h11.15M1344.43 1495.87h22.29M1478.19 1495.87h11.15M1522.78 1495.87h11.15M1712.27 1495.87h11.15M1801.45 1495.87h11.15M1979.79 1495.87h11.15M408.11 1509.98h11.15M1143.79 1509.98h11.15M1567.36 1509.98h11.15M1611.95 1509.98h11.15M1689.98 1509.98h11.15M1712.27 1509.98h11.15M1745.71 1509.98h11.15M1946.35 1509.98h22.29M96 1524.09h11.15M943.15 1524.09h22.29M1054.62 1524.09h22.29M1266.4 1524.09h11.15M1444.75 1524.09h22.29M1712.27 1524.09h11.15M1745.71 1524.09h11.15M162.88 1538.21h11.15M229.76 1538.21h11.15M363.52 1538.21h11.15M385.81 1538.21h22.29M430.4 1538.21h11.15M508.43 1538.21h11.15M976.59 1538.21h11.15M1021.18 1538.21h11.15M1210.67 1538.21h11.15M1244.11 1538.21h11.15M1344.43 1538.21h11.15M1422.46 1538.21h22.29M1645.39 1538.21h22.29M240.91 1552.32h11.15M385.81 1552.32h11.15M1143.79 1552.32h11.15M1221.82 1552.32h11.15M1322.14 1552.32h11.15M1344.43 1552.32h11.15M1400.16 1552.32h11.15M1723.42 1552.32h11.15"/>
<path stroke="#fff4b6" d="M419.25 239.86h11.15M742.51 239.86h11.15M909.71 239.86h22.29M1043.47 239.86h11.15M1154.94 239.86h11.15M1188.38 239.86h22.29M1322.14 239.86h11.15M1344.43 239.86h11.15M1377.87 239.86h11.15M1411.31 239.86h11.15M1444.75 239.86h11.15M1533.92 239.86h11.15M1556.22 239.86h11.15M1589.66 239.86h11.15M1634.24 239.86h11.15M1656.54 239.86h11.15M1801.45 239.86h11.15M441.55 253.97h11.15M463.84 253.97h11.15M497.28 253.97h11.15M631.04 253.97h22.29M742.51 253.97h11.15M909.71 253.97h44.59M965.44 253.97h33.44M1010.03 253.97h11.15M1043.47 253.97h11.15M1444.75 253.97h11.15M1478.19 253.97h11.15M1556.22 253.97h11.15M1723.42 253.97h11.15M1846.03 253.97h11.15M196.32 268.08h11.15M430.4 268.08h11.15M474.99 268.08h11.15M530.72 268.08h11.15M553.01 268.08h11.15M608.75 268.08h11.15M865.12 268.08h22.29M943.15 268.08h22.29M976.59 268.08h55.73M1166.08 268.08h11.15M1199.52 268.08h22.29M1232.96 268.08h11.15M1277.55 268.08h11.15M1333.28 268.08h11.15M1422.46 268.08h11.15M1478.19 268.08h11.15M1511.63 268.08h11.15M1600.8 268.08h22.29M1678.83 268.08h22.29M1734.56 268.08h11.15M1779.15 268.08h11.15M1823.74 268.08h11.15M1857.18 268.08h11.15M1879.47 268.08h55.73M1968.65 268.08h11.15M107.15 282.19h22.29M608.75 282.19h11.15M943.15 282.19h33.44M998.88 282.19h22.29M1032.32 282.19h33.44M1099.2 282.19h22.29M1322.14 282.19h11.15M1355.58 282.19h11.15M1411.31 282.19h22.29M1444.75 282.19h11.15M1489.34 282.19h11.15M1812.59 282.19h11.15M1834.89 282.19h22.29M1979.79 282.19h11.15M118.29 296.31h22.29M174.03 296.31h11.15M207.47 296.31h11.15M240.91 296.31h11.15M274.35 296.31h11.15M408.11 296.31h11.15M631.04 296.31h11.15M686.78 296.31h11.15M943.15 296.31h11.15M976.59 296.31h33.44M1032.32 296.31h11.15M1065.76 296.31h11.15M1099.2 296.31h11.15M1132.64 296.31h11.15M1166.08 296.31h11.15M1188.38 296.31h22.29M1255.26 296.31h22.29M1322.14 296.31h22.29M1355.58 296.31h11.15M1511.63 296.31h11.15M1533.92 296.31h11.15M1567.36 296.31h11.15M1689.98 296.31h11.15M1857.18 296.31h11.15M1935.21 296.31h11.15M1043.47 310.42h11.15M1489.34 310.42h11.15M1578.51 310.42h11.15M1611.95 310.42h33.44M1667.68 310.42h11.15M1689.98 310.42h11.15M1734.56 310.42h11.15M1790.3 310.42h11.15M1957.5 310.42h11.15M642.19 324.53h11.15M742.51 324.53h11.15M1054.62 324.53h11.15M1143.79 324.53h11.15M1177.23 324.53h11.15M1244.11 324.53h11.15M1299.84 324.53h22.29M1545.07 324.53h11.15M1645.39 324.53h11.15M1812.59 324.53h11.15M1968.65 324.53h11.15M408.11 338.64h11.15M1199.52 338.64h11.15M1255.26 338.64h11.15M1277.55 338.64h11.15M1467.04 338.64h11.15M1489.34 338.64h11.15M1756.86 338.64h22.29M140.59 352.76h11.15M976.59 352.76h22.29M1154.94 352.76h11.15M1232.96 352.76h11.15M1266.4 352.76h11.15M1467.04 352.76h11.15M1500.48 352.76h22.29M1812.59 352.76h11.15M1834.89 352.76h11.15M932 366.87h22.29M965.44 366.87h11.15M1021.18 366.87h11.15M1088.06 366.87h11.15M1244.11 366.87h33.44M1288.7 366.87h11.15M1310.99 366.87h33.44M1400.16 366.87h22.29M1444.75 366.87h11.15M1589.66 366.87h11.15M1968.65 366.87h11.15M1154.94 380.98h11.15M1188.38 380.98h22.29M1232.96 380.98h11.15M1277.55 380.98h11.15M1634.24 380.98h11.15M1812.59 380.98h11.15M341.23 395.09h11.15M363.52 395.09h11.15M519.57 395.09h11.15M1032.32 395.09h11.15M1054.62 395.09h11.15M1076.91 395.09h11.15M1143.79 395.09h11.15M1556.22 395.09h11.15M1968.65 395.09h22.29M352.37 409.21h11.15M1121.5 409.21h11.15M1154.94 409.21h22.29M1188.38 409.21h33.44M1266.4 409.21h11.15M1377.87 409.21h11.15M1422.46 409.21h11.15M1556.22 409.21h11.15M1589.66 409.21h11.15M1623.1 409.21h11.15M1667.68 409.21h22.29M1712.27 409.21h22.29M1745.71 409.21h11.15M1879.47 409.21h11.15M129.44 423.32h11.15M330.08 423.32h22.29M675.63 423.32h11.15M753.66 423.32h11.15M831.68 423.32h11.15M865.12 423.32h11.15M887.42 423.32h11.15M932 423.32h11.15M1065.76 423.32h22.29M1110.35 423.32h11.15M1634.24 423.32h11.15M1656.54 423.32h11.15M1790.3 423.32h11.15M1857.18 423.32h22.29M1890.62 423.32h22.29M1935.21 423.32h11.15M307.79 437.43h11.15M385.81 437.43h33.44M1032.32 437.43h11.15M1154.94 437.43h11.15M1232.96 437.43h11.15M1522.78 437.43h33.44M1589.66 437.43h11.15M1054.62 451.54h11.15M1132.64 451.54h11.15M1188.38 451.54h33.44M1232.96 451.54h11.15M1266.4 451.54h11.15M1411.31 451.54h11.15M1478.19 451.54h11.15M1500.48 451.54h11.15M1712.27 451.54h11.15M1745.71 451.54h33.44M1834.89 451.54h11.15M1857.18 451.54h22.29M1912.91 451.54h33.44M1043.47 465.66h22.29M1177.23 465.66h11.15M1244.11 465.66h11.15M1322.14 465.66h11.15M1834.89 465.66h22.29M1946.35 465.66h22.29M374.67 479.77h11.15M1121.5 479.77h11.15M1210.67 479.77h11.15M1244.11 479.77h11.15M1266.4 479.77h11.15M1478.19 479.77h11.15M1500.48 479.77h11.15M1678.83 479.77h11.15M1756.86 479.77h22.29M1790.3 479.77h11.15M1857.18 479.77h11.15M1912.91 479.77h22.29M619.89 493.88h11.15M1065.76 493.88h44.59M1166.08 493.88h11.15M1199.52 493.88h11.15M1221.82 493.88h66.88M1467.04 493.88h11.15M1567.36 493.88h11.15M1645.39 493.88h11.15M1834.89 493.88h11.15M107.15 507.99h22.29M396.96 507.99h11.15M686.78 507.99h11.15M943.15 507.99h11.15M998.88 507.99h22.29M1065.76 507.99h11.15M1121.5 507.99h22.29M1166.08 507.99h11.15M1266.4 507.99h22.29M1422.46 507.99h11.15M1489.34 507.99h11.15M1589.66 507.99h22.29M1623.1 507.99h44.59M1834.89 507.99h22.29M463.84 522.11h11.15M486.13 522.11h11.15M642.19 522.11h11.15M1032.32 522.11h33.44M1154.94 522.11h11.15M1210.67 522.11h11.15M1232.96 522.11h11.15M1411.31 522.11h11.15M1478.19 522.11h11.15M1500.48 522.11h11.15M1522.78 522.11h22.29M1556.22 522.11h11.15M1667.68 522.11h11.15M1712.27 522.11h11.15M1779.15 522.11h11.15M1801.45 522.11h22.29M1868.33 522.11h11.15M118.29 536.22h22.29M318.93 536.22h11.15M396.96 536.22h11.15M887.42 536.22h11.15M1065.76 536.22h11.15M1522.78 536.22h11.15M1645.39 536.22h11.15M1701.12 536.22h11.15M1823.74 536.22h11.15M1846.03 536.22h22.29M1879.47 536.22h89.17M96 550.33h11.15M1188.38 550.33h11.15M1299.84 550.33h11.15M1478.19 550.33h11.15M1567.36 550.33h22.29M1611.95 550.33h11.15M1656.54 550.33h11.15M1678.83 550.33h11.15M162.88 564.44h33.44M207.47 564.44h11.15M229.76 564.44h22.29M274.35 564.44h11.15M318.93 564.44h11.15M441.55 564.44h22.29M508.43 564.44h22.29M709.07 564.44h22.29M1032.32 564.44h11.15M1065.76 564.44h11.15M1322.14 564.44h11.15M1366.72 564.44h11.15M1400.16 564.44h11.15M1433.6 564.44h22.29M1511.63 564.44h11.15M1790.3 564.44h22.29M1857.18 564.44h78.03M162.88 578.56h11.15M229.76 578.56h11.15M252.05 578.56h11.15M274.35 578.56h11.15M408.11 578.56h11.15M441.55 578.56h11.15M508.43 578.56h11.15M954.3 578.56h11.15M1032.32 578.56h11.15M1054.62 578.56h11.15M1076.91 578.56h11.15M1177.23 578.56h11.15M1255.26 578.56h11.15M1467.04 578.56h11.15M1578.51 578.56h11.15M1611.95 578.56h11.15M1689.98 578.56h11.15M1734.56 578.56h11.15M1756.86 578.56h33.44M753.66 592.67h22.29M798.24 592.67h11.15M820.54 592.67h11.15M842.83 592.67h11.15M865.12 592.67h11.15M898.56 592.67h33.44M1266.4 592.67h11.15M1355.58 592.67h22.29M1389.02 592.67h11.15M1411.31 592.67h11.15M1444.75 592.67h11.15M1667.68 592.67h11.15M1701.12 592.67h22.29M1745.71 592.67h11.15M162.88 606.78h11.15M218.61 606.78h22.29M274.35 606.78h11.15M396.96 606.78h11.15M1177.23 606.78h11.15M1244.11 606.78h11.15M1444.75 606.78h11.15M1556.22 606.78h22.29M1645.39 606.78h11.15M1823.74 606.78h11.15M943.15 620.89h11.15M965.44 620.89h11.15M987.74 620.89h11.15M1255.26 620.89h11.15M1277.55 620.89h11.15M1511.63 620.89h11.15M1578.51 620.89h11.15M1812.59 620.89h11.15M1968.65 620.89h11.15M318.93 635.01h22.29M419.25 635.01h11.15M1065.76 635.01h11.15M1166.08 635.01h11.15M1255.26 635.01h11.15M1444.75 635.01h11.15M1500.48 635.01h33.44M1600.8 635.01h11.15M1656.54 635.01h11.15M341.23 649.12h11.15M374.67 649.12h11.15M419.25 649.12h11.15M686.78 649.12h11.15M1088.06 649.12h11.15M1121.5 649.12h22.29M1578.51 649.12h22.29M1834.89 649.12h33.44M1890.62 649.12h55.73M274.35 663.23h11.15M352.37 663.23h11.15M753.66 663.23h33.44M831.68 663.23h33.44M898.56 663.23h11.15M1032.32 663.23h22.29M1377.87 663.23h11.15M1489.34 663.23h11.15M1533.92 663.23h11.15M1600.8 663.23h11.15M1678.83 663.23h22.29M1734.56 663.23h11.15M1779.15 663.23h11.15M1823.74 663.23h11.15M1868.33 663.23h11.15M441.55 677.34h11.15M463.84 677.34h11.15M486.13 677.34h33.44M541.87 677.34h11.15M564.16 677.34h22.29M642.19 677.34h22.29M675.63 677.34h22.29M742.51 677.34h122.61M898.56 677.34h22.29M943.15 677.34h11.15M965.44 677.34h11.15M998.88 677.34h22.29M1076.91 677.34h11.15M1099.2 677.34h11.15M1132.64 677.34h11.15M1210.67 677.34h11.15M1232.96 677.34h11.15M1266.4 677.34h11.15M1489.34 677.34h11.15M1545.07 677.34h11.15M1578.51 677.34h11.15M1600.8 677.34h11.15M1756.86 677.34h11.15M1834.89 677.34h11.15M1857.18 677.34h11.15M1890.62 677.34h11.15M1912.91 677.34h22.29M118.29 691.46h22.29M285.49 691.46h11.15M330.08 691.46h11.15M352.37 691.46h11.15M419.25 691.46h11.15M441.55 691.46h11.15M508.43 691.46h11.15M586.45 691.46h22.29M1110.35 691.46h11.15M1232.96 691.46h11.15M1310.99 691.46h11.15M1467.04 691.46h11.15M1511.63 691.46h11.15M1578.51 691.46h22.29M1656.54 691.46h11.15M1712.27 691.46h11.15M1745.71 691.46h11.15M1857.18 691.46h22.29M1890.62 691.46h44.59M330.08 705.57h11.15M653.33 705.57h11.15M742.51 705.57h11.15M764.8 705.57h22.29M831.68 705.57h11.15M887.42 705.57h11.15M1065.76 705.57h22.29M1143.79 705.57h11.15M1221.82 705.57h11.15M1277.55 705.57h11.15M1389.02 705.57h11.15M1545.07 705.57h11.15M1611.95 705.57h11.15M1645.39 705.57h11.15M1667.68 705.57h22.29M1857.18 705.57h11.15M1879.47 705.57h55.73M140.59 719.68h11.15M608.75 719.68h11.15M753.66 719.68h33.44M831.68 719.68h55.73M932 719.68h11.15M965.44 719.68h55.73M1110.35 719.68h11.15M1177.23 719.68h11.15M1255.26 719.68h11.15M1299.84 719.68h11.15M1377.87 719.68h11.15M1400.16 719.68h11.15M1522.78 719.68h11.15M1589.66 719.68h11.15M1701.12 719.68h55.73M1779.15 719.68h11.15M1868.33 719.68h11.15M140.59 733.79h11.15M263.2 733.79h11.15M374.67 733.79h22.29M408.11 733.79h11.15M430.4 733.79h22.29M474.99 733.79h11.15M508.43 733.79h11.15M586.45 733.79h22.29M642.19 733.79h11.15M686.78 733.79h11.15M742.51 733.79h11.15M932 733.79h11.15M1043.47 733.79h22.29M1221.82 733.79h22.29M1355.58 733.79h22.29M1533.92 733.79h11.15M1556.22 733.79h22.29M1589.66 733.79h11.15M1678.83 733.79h11.15M1701.12 733.79h11.15M1723.42 733.79h11.15M1823.74 733.79h11.15M1846.03 733.79h33.44M1890.62 733.79h22.29M1935.21 733.79h11.15M140.59 747.91h11.15M385.81 747.91h11.15M463.84 747.91h11.15M486.13 747.91h11.15M742.51 747.91h44.59M831.68 747.91h55.73M898.56 747.91h11.15M932 747.91h11.15M1065.76 747.91h11.15M1110.35 747.91h11.15M1154.94 747.91h11.15M1277.55 747.91h22.29M1310.99 747.91h11.15M1333.28 747.91h11.15M1444.75 747.91h11.15M1567.36 747.91h11.15M1745.71 747.91h11.15M1790.3 747.91h22.29M1500.48 762.02h22.29M118.29 776.13h11.15M1199.52 776.13h11.15M1244.11 776.13h11.15M1355.58 776.13h11.15M1689.98 776.13h11.15M1734.56 776.13h11.15M1812.59 776.13h11.15M330.08 790.24h11.15M1232.96 790.24h11.15M1255.26 790.24h11.15M1288.7 790.24h11.15M1567.36 790.24h11.15M1712.27 804.36h11.15M1734.56 804.36h22.29M631.04 818.47h11.15M1166.08 818.47h22.29M1199.52 818.47h11.15M1322.14 818.47h11.15M1511.63 818.47h11.15M1545.07 818.47h11.15M1790.3 818.47h11.15M1846.03 818.47h11.15M1868.33 818.47h11.15M285.49 832.58h11.15M1032.32 832.58h11.15M1600.8 832.58h11.15M1634.24 832.58h11.15M1232.96 846.69h11.15M1589.66 846.69h11.15M1611.95 846.69h11.15M1634.24 846.69h11.15M1667.68 846.69h11.15M1857.18 846.69h78.03M330.08 860.81h11.15M408.11 860.81h11.15M1277.55 860.81h11.15M1522.78 860.81h11.15M1556.22 860.81h11.15M1578.51 860.81h11.15M1667.68 860.81h11.15M174.03 874.92h11.15M240.91 874.92h11.15M486.13 874.92h22.29M686.78 874.92h11.15M943.15 874.92h22.29M998.88 874.92h33.44M1076.91 874.92h33.44M1322.14 874.92h11.15M1467.04 874.92h22.29M1500.48 874.92h11.15M1578.51 874.92h11.15M1600.8 874.92h11.15M1623.1 874.92h11.15M1656.54 874.92h11.15M1678.83 874.92h11.15M1790.3 874.92h33.44M285.49 889.03h11.15M330.08 889.03h11.15M408.11 889.03h11.15M430.4 889.03h11.15M642.19 889.03h22.29M943.15 889.03h11.15M976.59 889.03h22.29M1533.92 889.03h11.15M1589.66 889.03h11.15M1678.83 889.03h11.15M363.52 903.14h11.15M408.11 903.14h11.15M452.69 903.14h11.15M497.28 903.14h11.15M642.19 903.14h11.15M887.42 903.14h11.15M1099.2 903.14h11.15M1121.5 903.14h11.15M1266.4 903.14h11.15M1322.14 903.14h11.15M1500.48 903.14h11.15M1545.07 903.14h11.15M1623.1 903.14h11.15M1801.45 903.14h22.29M1946.35 903.14h22.29M140.59 917.26h11.15M631.04 917.26h33.44M742.51 917.26h22.29M787.1 917.26h78.03M887.42 917.26h22.29M965.44 917.26h11.15M987.74 917.26h33.44M1099.2 917.26h22.29M1132.64 917.26h11.15M1210.67 917.26h11.15M1255.26 917.26h11.15M1322.14 917.26h44.59M1422.46 917.26h11.15M1455.9 917.26h22.29M1489.34 917.26h11.15M1567.36 917.26h11.15M1634.24 917.26h11.15M1667.68 917.26h11.15M1823.74 917.26h11.15M1935.21 917.26h22.29M1968.65 917.26h11.15M151.73 931.37h11.15M196.32 931.37h33.44M252.05 931.37h11.15M441.55 931.37h11.15M508.43 931.37h11.15M608.75 931.37h11.15M664.48 931.37h22.29M1021.18 931.37h11.15M1177.23 931.37h33.44M1377.87 931.37h11.15M1411.31 931.37h11.15M1545.07 931.37h11.15M1567.36 931.37h11.15M1645.39 931.37h11.15M1065.76 945.48h11.15M1333.28 945.48h11.15M1444.75 945.48h11.15M1467.04 945.48h11.15M1634.24 945.48h33.44M151.73 959.59h11.15M207.47 959.59h22.29M252.05 959.59h11.15M1166.08 959.59h11.15M1199.52 959.59h11.15M1322.14 959.59h11.15M1355.58 959.59h22.29M1444.75 959.59h11.15M1478.19 959.59h11.15M1556.22 959.59h22.29M1678.83 959.59h11.15M162.88 973.71h11.15M207.47 973.71h11.15M229.76 973.71h11.15M274.35 973.71h11.15M374.67 973.71h11.15M441.55 973.71h11.15M608.75 973.71h11.15M653.33 973.71h11.15M675.63 973.71h11.15M1132.64 973.71h11.15M1210.67 973.71h11.15M1623.1 973.71h22.29M1656.54 973.71h22.29M619.89 987.82h11.15M697.92 987.82h11.15M753.66 987.82h22.29M787.1 987.82h78.03M887.42 987.82h11.15M920.86 987.82h11.15M1121.5 987.82h11.15M1177.23 987.82h11.15M1244.11 987.82h11.15M675.63 1001.93h11.15M753.66 1001.93h22.29M798.24 1001.93h11.15M831.68 1001.93h33.44M898.56 1001.93h11.15M1188.38 1001.93h44.59M1422.46 1001.93h11.15M1489.34 1001.93h11.15M1578.51 1001.93h11.15M1611.95 1001.93h11.15M1946.35 1001.93h11.15M118.29 1016.04h11.15M318.93 1016.04h11.15M686.78 1016.04h11.15M1277.55 1016.04h11.15M1299.84 1016.04h11.15M1533.92 1016.04h11.15M1589.66 1016.04h11.15M1634.24 1016.04h11.15M396.96 1030.16h11.15M1422.46 1030.16h11.15M1567.36 1030.16h11.15M1678.83 1030.16h11.15M1712.27 1030.16h11.15M1745.71 1030.16h11.15M686.78 1044.27h11.15M1210.67 1044.27h11.15M1266.4 1044.27h11.15M1656.54 1044.27h11.15M1756.86 1044.27h22.29M1043.47 1058.38h11.15M1076.91 1058.38h11.15M1355.58 1058.38h11.15M1489.34 1058.38h11.15M1567.36 1058.38h11.15M1589.66 1058.38h11.15M1712.27 1058.38h11.15M1734.56 1058.38h22.29M1779.15 1058.38h11.15M430.4 1072.49h11.15M519.57 1072.49h11.15M541.87 1072.49h11.15M686.78 1072.49h11.15M753.66 1072.49h44.59M809.39 1072.49h55.73M898.56 1072.49h11.15M1210.67 1072.49h11.15M1244.11 1072.49h11.15M1288.7 1072.49h11.15M1322.14 1072.49h22.29M1366.72 1072.49h11.15M1400.16 1072.49h11.15M1467.04 1072.49h22.29M1634.24 1072.49h11.15M1656.54 1072.49h22.29M1823.74 1072.49h33.44M1032.32 1086.61h11.15M1389.02 1086.61h11.15M1433.6 1086.61h11.15M341.23 1100.72h11.15M363.52 1100.72h11.15M396.96 1100.72h22.29M631.04 1100.72h22.29M686.78 1100.72h11.15M742.51 1100.72h11.15M1132.64 1100.72h11.15M1166.08 1100.72h11.15M1210.67 1100.72h11.15M1500.48 1100.72h11.15M1522.78 1100.72h11.15M1600.8 1100.72h22.29M430.4 1114.83h11.15M474.99 1114.83h11.15M530.72 1114.83h11.15M553.01 1114.83h33.44M608.75 1114.83h22.29M642.19 1114.83h11.15M664.48 1114.83h22.29M943.15 1114.83h55.73M1010.03 1114.83h22.29M1121.5 1114.83h22.29M1355.58 1114.83h11.15M1377.87 1114.83h22.29M1455.9 1114.83h44.59M1522.78 1114.83h11.15M1589.66 1114.83h22.29M1634.24 1114.83h11.15M1667.68 1114.83h11.15M1701.12 1114.83h22.29M1745.71 1114.83h11.15M1790.3 1114.83h11.15M1812.59 1114.83h11.15M1857.18 1114.83h22.29M1890.62 1114.83h44.59M1946.35 1114.83h11.15M118.29 1128.94h33.44M731.36 1128.94h11.15M887.42 1128.94h11.15M954.3 1128.94h11.15M1076.91 1128.94h11.15M1199.52 1128.94h11.15M1255.26 1128.94h11.15M1277.55 1128.94h11.15M1355.58 1128.94h11.15M1444.75 1128.94h11.15M1478.19 1128.94h11.15M1511.63 1128.94h11.15M1634.24 1128.94h11.15M1734.56 1128.94h11.15M1779.15 1128.94h11.15M1801.45 1128.94h11.15M1823.74 1128.94h100.32M1968.65 1128.94h11.15M631.04 1143.06h22.29M675.63 1143.06h11.15M742.51 1143.06h11.15M943.15 1143.06h11.15M965.44 1143.06h11.15M1088.06 1143.06h22.29M1132.64 1143.06h11.15M1177.23 1143.06h11.15M1199.52 1143.06h11.15M1288.7 1143.06h11.15M1333.28 1143.06h11.15M1411.31 1143.06h11.15M1489.34 1143.06h11.15M1790.3 1143.06h33.44M1935.21 1143.06h11.15M1957.5 1143.06h11.15M107.15 1157.17h11.15M140.59 1157.17h11.15M430.4 1157.17h33.44M497.28 1157.17h22.29M541.87 1157.17h11.15M586.45 1157.17h22.29M1188.38 1157.17h11.15M1567.36 1157.17h11.15M1801.45 1157.17h11.15M107.15 1171.28h33.44M352.37 1171.28h11.15M452.69 1171.28h11.15M642.19 1171.28h11.15M932 1171.28h11.15M976.59 1171.28h22.29M1823.74 1171.28h33.44M1868.33 1171.28h22.29M1935.21 1171.28h11.15M1968.65 1171.28h11.15M107.15 1185.39h11.15M608.75 1185.39h11.15M664.48 1185.39h11.15M1088.06 1185.39h33.44M1132.64 1185.39h11.15M1322.14 1185.39h11.15M1478.19 1185.39h11.15M1556.22 1185.39h11.15M1589.66 1185.39h11.15M1946.35 1185.39h11.15M140.59 1199.51h11.15M619.89 1199.51h44.59M697.92 1199.51h22.29M742.51 1199.51h11.15M798.24 1199.51h11.15M820.54 1199.51h11.15M865.12 1199.51h11.15M909.71 1199.51h11.15M1344.43 1199.51h11.15M1522.78 1199.51h11.15M1623.1 1199.51h11.15M1656.54 1199.51h11.15M140.59 1213.62h11.15M363.52 1213.62h11.15M419.25 1213.62h55.73M486.13 1213.62h11.15M508.43 1213.62h11.15M653.33 1213.62h11.15M709.07 1213.62h11.15M775.95 1213.62h55.73M898.56 1213.62h11.15M920.86 1213.62h22.29M1054.62 1213.62h11.15M1210.67 1213.62h11.15M1232.96 1213.62h11.15M1266.4 1213.62h11.15M1333.28 1213.62h11.15M1389.02 1213.62h22.29M1433.6 1213.62h11.15M1455.9 1213.62h11.15M1489.34 1213.62h22.29M1533.92 1213.62h22.29M1600.8 1213.62h33.44M1678.83 1213.62h11.15M1701.12 1213.62h11.15M1756.86 1213.62h22.29M1812.59 1213.62h11.15M1834.89 1213.62h33.44M1890.62 1213.62h55.73M129.44 1227.73h11.15M519.57 1227.73h11.15M664.48 1227.73h11.15M943.15 1227.73h55.73M1010.03 1227.73h22.29M1132.64 1227.73h11.15M1333.28 1227.73h11.15M1400.16 1227.73h11.15M1444.75 1227.73h22.29M1556.22 1227.73h22.29M1734.56 1227.73h11.15M1779.15 1227.73h22.29M608.75 1241.84h11.15M675.63 1241.84h11.15M731.36 1241.84h11.15M1010.03 1241.84h22.29M1221.82 1241.84h11.15M1489.34 1241.84h11.15M1611.95 1241.84h11.15M1634.24 1241.84h11.15M1689.98 1241.84h11.15M1946.35 1241.84h11.15M385.81 1255.96h11.15M608.75 1255.96h11.15M631.04 1255.96h33.44M697.92 1255.96h33.44M753.66 1255.96h33.44M798.24 1255.96h89.17M898.56 1255.96h33.44M954.3 1255.96h11.15M976.59 1255.96h11.15M998.88 1255.96h22.29M1121.5 1255.96h22.29M1154.94 1255.96h22.29M1277.55 1255.96h11.15M1366.72 1255.96h11.15M1556.22 1255.96h11.15M1712.27 1255.96h11.15M1745.71 1255.96h11.15M1812.59 1255.96h11.15M318.93 1270.07h11.15M374.67 1270.07h11.15M887.42 1270.07h11.15M920.86 1270.07h11.15M943.15 1270.07h11.15M1277.55 1270.07h11.15M1400.16 1270.07h11.15M1422.46 1270.07h11.15M1467.04 1270.07h11.15M1511.63 1270.07h11.15M1623.1 1270.07h11.15M1723.42 1270.07h11.15M107.15 1284.18h11.15M341.23 1284.18h11.15M619.89 1284.18h11.15M697.92 1284.18h11.15M965.44 1284.18h11.15M1032.32 1284.18h11.15M1110.35 1284.18h22.29M1154.94 1284.18h22.29M1199.52 1284.18h11.15M1232.96 1284.18h11.15M1277.55 1284.18h11.15M1400.16 1284.18h11.15M1422.46 1284.18h11.15M1467.04 1284.18h11.15M1578.51 1284.18h22.29M1801.45 1284.18h11.15M118.29 1298.29h22.29M385.81 1298.29h11.15M452.69 1298.29h11.15M608.75 1298.29h55.73M697.92 1298.29h55.73M787.1 1298.29h11.15M898.56 1298.29h22.29M954.3 1298.29h11.15M1099.2 1298.29h11.15M1121.5 1298.29h11.15M1166.08 1298.29h11.15M1199.52 1298.29h11.15M1244.11 1298.29h11.15M1277.55 1298.29h11.15M1333.28 1298.29h11.15M1355.58 1298.29h11.15M1377.87 1298.29h11.15M1511.63 1298.29h11.15M1667.68 1298.29h11.15M1712.27 1298.29h11.15M1790.3 1298.29h22.29M1823.74 1298.29h11.15M107.15 1312.41h11.15M541.87 1312.41h11.15M608.75 1312.41h11.15M631.04 1312.41h44.59M742.51 1312.41h11.15M764.8 1312.41h78.03M876.27 1312.41h55.73M1099.2 1312.41h33.44M1166.08 1312.41h11.15M1188.38 1312.41h11.15M1244.11 1312.41h11.15M1266.4 1312.41h11.15M1355.58 1312.41h11.15M1411.31 1312.41h11.15M1444.75 1312.41h11.15M1478.19 1312.41h22.29M1645.39 1312.41h11.15M1689.98 1312.41h11.15M1734.56 1312.41h11.15M1756.86 1312.41h33.44M1868.33 1312.41h11.15M140.59 1326.52h11.15M285.49 1326.52h22.29M385.81 1326.52h11.15M430.4 1326.52h22.29M508.43 1326.52h22.29M597.6 1326.52h11.15M686.78 1326.52h11.15M709.07 1326.52h22.29M1099.2 1326.52h33.44M1210.67 1326.52h11.15M1232.96 1326.52h11.15M1277.55 1326.52h44.59M1333.28 1326.52h11.15M1444.75 1326.52h11.15M1478.19 1326.52h11.15M1801.45 1326.52h11.15M1857.18 1326.52h78.03M151.73 1340.63h11.15M519.57 1340.63h11.15M608.75 1340.63h22.29M920.86 1340.63h11.15M954.3 1340.63h11.15M1166.08 1340.63h11.15M1188.38 1340.63h11.15M1299.84 1340.63h11.15M1322.14 1340.63h11.15M1389.02 1340.63h22.29M1455.9 1340.63h11.15M1478.19 1340.63h11.15M1511.63 1340.63h11.15M1701.12 1340.63h11.15M1723.42 1340.63h11.15M1834.89 1340.63h11.15M1879.47 1340.63h11.15M118.29 1354.74h11.15M352.37 1354.74h11.15M452.69 1354.74h11.15M497.28 1354.74h11.15M541.87 1354.74h44.59M631.04 1354.74h11.15M686.78 1354.74h11.15M898.56 1354.74h11.15M998.88 1354.74h11.15M1032.32 1354.74h11.15M1065.76 1354.74h11.15M1088.06 1354.74h11.15M1199.52 1354.74h11.15M1221.82 1354.74h11.15M1255.26 1354.74h11.15M1322.14 1354.74h22.29M1366.72 1354.74h11.15M1389.02 1354.74h11.15M1411.31 1354.74h22.29M1455.9 1354.74h22.29M1533.92 1354.74h11.15M1634.24 1354.74h11.15M1656.54 1354.74h22.29M1689.98 1354.74h11.15M1734.56 1354.74h66.88M1857.18 1354.74h22.29M1890.62 1354.74h44.59M608.75 1368.86h11.15M887.42 1368.86h11.15M920.86 1368.86h11.15M943.15 1368.86h11.15M1021.18 1368.86h11.15M1143.79 1368.86h11.15M1166.08 1368.86h11.15M1266.4 1368.86h11.15M1355.58 1368.86h11.15M1411.31 1368.86h11.15M1611.95 1368.86h11.15M1823.74 1368.86h11.15M1879.47 1368.86h11.15M1935.21 1368.86h11.15M162.88 1382.97h11.15M207.47 1382.97h11.15M229.76 1382.97h11.15M274.35 1382.97h11.15M296.64 1382.97h11.15M631.04 1382.97h33.44M697.92 1382.97h11.15M720.22 1382.97h44.59M798.24 1382.97h11.15M898.56 1382.97h11.15M1043.47 1382.97h11.15M1121.5 1382.97h11.15M1154.94 1382.97h11.15M1344.43 1382.97h11.15M1377.87 1382.97h11.15M1478.19 1382.97h33.44M1533.92 1382.97h11.15M1578.51 1382.97h11.15M1678.83 1382.97h11.15M1723.42 1382.97h11.15M1745.71 1382.97h33.44M1834.89 1382.97h33.44M1879.47 1382.97h22.29M1912.91 1382.97h11.15M1946.35 1382.97h44.59M463.84 1397.08h11.15M486.13 1397.08h11.15M586.45 1397.08h11.15M619.89 1397.08h22.29M686.78 1397.08h55.73M1065.76 1397.08h11.15M1177.23 1397.08h22.29M1244.11 1397.08h11.15M1310.99 1397.08h11.15M1333.28 1397.08h11.15M1578.51 1397.08h11.15M1678.83 1397.08h11.15M96 1411.19h11.15M151.73 1411.19h11.15M174.03 1411.19h33.44M218.61 1411.19h11.15M240.91 1411.19h33.44M419.25 1411.19h11.15M497.28 1411.19h11.15M530.72 1411.19h11.15M553.01 1411.19h22.29M586.45 1411.19h22.29M631.04 1411.19h33.44M686.78 1411.19h11.15M720.22 1411.19h11.15M742.51 1411.19h11.15M943.15 1411.19h33.44M987.74 1411.19h11.15M1021.18 1411.19h11.15M1054.62 1411.19h11.15M1154.94 1411.19h22.29M1210.67 1411.19h55.73M1277.55 1411.19h11.15M1344.43 1411.19h11.15M1411.31 1411.19h11.15M1545.07 1411.19h22.29M1634.24 1411.19h11.15M1656.54 1411.19h22.29M1756.86 1411.19h22.29M1790.3 1411.19h11.15M1846.03 1411.19h11.15M1946.35 1411.19h11.15M1968.65 1411.19h22.29M385.81 1425.31h11.15M441.55 1425.31h11.15M463.84 1425.31h11.15M619.89 1425.31h11.15M642.19 1425.31h11.15M720.22 1425.31h22.29M865.12 1425.31h33.44M920.86 1425.31h22.29M1054.62 1425.31h11.15M1366.72 1425.31h33.44M1422.46 1425.31h22.29M1455.9 1425.31h11.15M1478.19 1425.31h11.15M1578.51 1425.31h11.15M1712.27 1425.31h11.15M1801.45 1425.31h11.15M1823.74 1425.31h11.15M1857.18 1425.31h89.17M396.96 1439.42h11.15M430.4 1439.42h22.29M463.84 1439.42h11.15M486.13 1439.42h11.15M508.43 1439.42h11.15M575.31 1439.42h44.59M675.63 1439.42h11.15M731.36 1439.42h11.15M887.42 1439.42h11.15M920.86 1439.42h11.15M1166.08 1439.42h22.29M1199.52 1439.42h33.44M1244.11 1439.42h11.15M1266.4 1439.42h11.15M1333.28 1439.42h11.15M1533.92 1439.42h22.29M1634.24 1439.42h11.15M1667.68 1439.42h11.15M1689.98 1439.42h33.44M1734.56 1439.42h55.73M1801.45 1439.42h11.15M151.73 1453.53h11.15M174.03 1453.53h22.29M207.47 1453.53h22.29M374.67 1453.53h11.15M419.25 1453.53h11.15M441.55 1453.53h11.15M486.13 1453.53h11.15M508.43 1453.53h11.15M686.78 1453.53h22.29M787.1 1453.53h78.03M1043.47 1453.53h11.15M1065.76 1453.53h22.29M1143.79 1453.53h11.15M1221.82 1453.53h11.15M1333.28 1453.53h22.29M1500.48 1453.53h11.15M1522.78 1453.53h11.15M1645.39 1453.53h11.15M1723.42 1453.53h11.15M1823.74 1453.53h33.44M341.23 1467.64h11.15M374.67 1467.64h11.15M419.25 1467.64h11.15M586.45 1467.64h22.29M697.92 1467.64h11.15M787.1 1467.64h33.44M943.15 1467.64h11.15M965.44 1467.64h22.29M998.88 1467.64h22.29M1088.06 1467.64h11.15M1322.14 1467.64h22.29M1377.87 1467.64h11.15M1556.22 1467.64h22.29M1611.95 1467.64h11.15M1634.24 1467.64h11.15M140.59 1481.76h11.15M162.88 1481.76h11.15M207.47 1481.76h11.15M229.76 1481.76h11.15M274.35 1481.76h11.15M296.64 1481.76h11.15M318.93 1481.76h11.15M419.25 1481.76h33.44M463.84 1481.76h55.73M530.72 1481.76h11.15M553.01 1481.76h33.44M619.89 1481.76h11.15M653.33 1481.76h11.15M742.51 1481.76h11.15M887.42 1481.76h11.15M943.15 1481.76h44.59M998.88 1481.76h44.59M1188.38 1481.76h11.15M1299.84 1481.76h11.15M1322.14 1481.76h11.15M1377.87 1481.76h11.15M1422.46 1481.76h11.15M1467.04 1481.76h11.15M352.37 1495.87h11.15M619.89 1495.87h11.15M642.19 1495.87h22.29M675.63 1495.87h11.15M697.92 1495.87h11.15M742.51 1495.87h11.15M887.42 1495.87h11.15M920.86 1495.87h11.15M1255.26 1495.87h11.15M1288.7 1495.87h11.15M1389.02 1495.87h11.15M1422.46 1495.87h22.29M1455.9 1495.87h11.15M1511.63 1495.87h11.15M1533.92 1495.87h11.15M1857.18 1495.87h11.15M1879.47 1495.87h55.73M1946.35 1495.87h22.29M96 1509.98h11.15M118.29 1509.98h33.44M174.03 1509.98h22.29M263.2 1509.98h11.15M352.37 1509.98h11.15M441.55 1509.98h11.15M508.43 1509.98h11.15M541.87 1509.98h11.15M608.75 1509.98h11.15M686.78 1509.98h11.15M1032.32 1509.98h22.29M1076.91 1509.98h11.15M1099.2 1509.98h11.15M1132.64 1509.98h11.15M1344.43 1509.98h11.15M1400.16 1509.98h11.15M1545.07 1509.98h11.15M1600.8 1509.98h11.15M1823.74 1509.98h11.15M1857.18 1509.98h11.15M1979.79 1509.98h11.15M330.08 1524.09h11.15M352.37 1524.09h22.29M541.87 1524.09h11.15M608.75 1524.09h11.15M642.19 1524.09h33.44M742.51 1524.09h11.15M909.71 1524.09h22.29M1088.06 1524.09h11.15M1143.79 1524.09h11.15M1322.14 1524.09h11.15M1355.58 1524.09h11.15M1389.02 1524.09h11.15M1511.63 1524.09h11.15M1589.66 1524.09h11.15M1667.68 1524.09h11.15M1689.98 1524.09h11.15M1734.56 1524.09h11.15M1779.15 1524.09h11.15M129.44 1538.21h11.15M274.35 1538.21h11.15M307.79 1538.21h11.15M330.08 1538.21h11.15M352.37 1538.21h11.15M374.67 1538.21h11.15M463.84 1538.21h33.44M519.57 1538.21h11.15M586.45 1538.21h22.29M631.04 1538.21h33.44M675.63 1538.21h11.15M764.8 1538.21h66.88M876.27 1538.21h33.44M932 1538.21h11.15M1043.47 1538.21h11.15M1143.79 1538.21h22.29M1355.58 1538.21h11.15M1500.48 1538.21h11.15M1578.51 1538.21h22.29M1689.98 1538.21h11.15M1734.56 1538.21h22.29M1779.15 1538.21h11.15M1879.47 1538.21h11.15M140.59 1552.32h11.15M285.49 1552.32h22.29M352.37 1552.32h11.15M374.67 1552.32h11.15M396.96 1552.32h11.15M430.4 1552.32h11.15M452.69 1552.32h44.59M508.43 1552.32h89.17M631.04 1552.32h11.15M675.63 1552.32h11.15M1054.62 1552.32h11.15M1088.06 1552.32h11.15M1199.52 1552.32h22.29M1244.11 1552.32h22.29M1355.58 1552.32h22.29M1389.02 1552.32h11.15M1411.31 1552.32h11.15M1433.6 1552.32h11.15M1455.9 1552.32h22.29M1500.48 1552.32h11.15M1533.92 1552.32h11.15M1556.22 1552.32h11.15M1645.39 1552.32h11.15M1678.83 1552.32h11.15M1812.59 1552.32h22.29M1979.79 1552.32h11.15"/>
<path stroke="#fedb80" d="M118.29 239.86h11.15M887.42 239.86h11.15M1166.08 239.86h11.15M1221.82 239.86h11.15M1244.11 239.86h11.15M1823.74 239.86h11.15M374.67 253.97h22.29M408.11 253.97h11.15M519.57 253.97h11.15M541.87 253.97h11.15M675.63 253.97h11.15M753.66 253.97h33.44M831.68 253.97h33.44M898.56 253.97h11.15M1812.59 253.97h11.15M1979.79 253.97h11.15M541.87 268.08h11.15M787.1 268.08h11.15M887.42 268.08h22.29M1043.47 268.08h11.15M1288.7 268.08h11.15M1310.99 268.08h11.15M1946.35 268.08h11.15M263.2 282.19h11.15M330.08 282.19h11.15M497.28 282.19h11.15M753.66 282.19h33.44M831.68 282.19h11.15M853.98 282.19h11.15M932 282.19h11.15M1210.67 282.19h11.15M1266.4 282.19h11.15M1377.87 282.19h11.15M1400.16 282.19h11.15M1467.04 282.19h11.15M1968.65 282.19h11.15M330.08 296.31h11.15M486.13 296.31h22.29M586.45 296.31h11.15M608.75 296.31h11.15M664.48 296.31h11.15M742.51 296.31h11.15M965.44 296.31h11.15M1377.87 296.31h11.15M1400.16 296.31h11.15M1467.04 296.31h11.15M1790.3 296.31h22.29M1879.47 296.31h11.15M1946.35 296.31h11.15M1288.7 324.53h11.15M1823.74 324.53h11.15M1868.33 324.53h11.15M1957.5 338.64h11.15M96 352.76h11.15M1623.1 352.76h11.15M1957.5 352.76h11.15M1522.78 366.87h11.15M107.15 380.98h11.15M129.44 380.98h11.15M1823.74 380.98h11.15M1957.5 380.98h11.15M1533.92 395.09h11.15M1823.74 395.09h11.15M1478.19 409.21h11.15M363.52 423.32h11.15M1478.19 423.32h11.15M1511.63 423.32h11.15M1533.92 423.32h11.15M1600.8 423.32h11.15M1623.1 423.32h11.15M1879.47 423.32h11.15M1979.79 423.32h11.15M107.15 437.43h11.15M129.44 437.43h11.15M296.64 437.43h11.15M1812.59 437.43h11.15M1968.65 437.43h11.15M96 451.54h11.15M1310.99 451.54h11.15M1879.47 451.54h11.15M1901.77 451.54h11.15M1076.91 465.66h11.15M1154.94 465.66h11.15M1232.96 465.66h11.15M1935.21 465.66h11.15M385.81 479.77h11.15M1110.35 479.77h11.15M1221.82 479.77h11.15M1110.35 493.88h11.15M1188.38 493.88h11.15M1288.7 493.88h11.15M1489.34 493.88h22.29M1600.8 493.88h11.15M1868.33 493.88h11.15M1177.23 507.99h11.15M1232.96 507.99h11.15M1255.26 507.99h11.15M1868.33 507.99h11.15M129.44 522.11h11.15M631.04 522.11h11.15M686.78 522.11h11.15M742.51 522.11h11.15M1623.1 522.11h22.29M1689.98 522.11h11.15M1790.3 522.11h11.15M1857.18 522.11h11.15M1879.47 522.11h55.73M96 536.22h11.15M1177.23 536.22h22.29M1266.4 536.22h22.29M1344.43 536.22h11.15M1756.86 536.22h22.29M1790.3 536.22h22.29M1868.33 536.22h11.15M118.29 550.33h22.29M1834.89 550.33h11.15M107.15 564.44h11.15M140.59 564.44h11.15M385.81 564.44h22.29M586.45 564.44h22.29M1043.47 564.44h22.29M1467.04 564.44h11.15M1812.59 564.44h11.15M96 578.56h11.15M129.44 578.56h11.15M96 592.67h11.15M129.44 592.67h11.15M1043.47 592.67h22.29M1322.14 592.67h11.15M1277.55 606.78h11.15M1935.21 606.78h11.15M1522.78 620.89h11.15M1946.35 620.89h11.15M1054.62 635.01h11.15M1099.2 649.12h22.29M1478.19 649.12h11.15M1611.95 649.12h11.15M1946.35 649.12h22.29M196.32 663.23h11.15M463.84 663.23h11.15M486.13 663.23h22.29M519.57 663.23h11.15M564.16 663.23h11.15M1065.76 663.23h11.15M1500.48 663.23h11.15M1723.42 663.23h11.15M519.57 677.34h11.15M1567.36 677.34h11.15M1846.03 677.34h11.15M1868.33 677.34h11.15M307.79 691.46h11.15M1266.4 691.46h11.15M909.71 705.57h11.15M932 705.57h11.15M1712.27 705.57h11.15M341.23 719.68h11.15M1656.54 719.68h11.15M1834.89 719.68h22.29M207.47 733.79h11.15M1065.76 733.79h11.15M1433.6 733.79h11.15M1455.9 733.79h22.29M1600.8 733.79h11.15M1879.47 733.79h11.15M608.75 747.91h11.15M675.63 747.91h11.15M1088.06 747.91h11.15M1244.11 747.91h11.15M1299.84 747.91h11.15M1623.1 747.91h11.15M1823.74 747.91h11.15M1868.33 747.91h11.15M352.37 776.13h11.15M1121.5 776.13h11.15M1712.27 776.13h11.15M1834.89 776.13h11.15M285.49 790.24h22.29M1556.22 818.47h11.15M1846.03 832.58h11.15M1935.21 846.69h11.15M1533.92 860.81h11.15M631.04 874.92h11.15M887.42 874.92h11.15M920.86 874.92h11.15M1110.35 874.92h11.15M1533.92 874.92h11.15M1567.36 874.92h11.15M396.96 889.03h11.15M1411.31 889.03h11.15M1623.1 889.03h22.29M619.89 903.14h11.15M697.92 903.14h11.15M1712.27 903.14h22.29M1745.71 903.14h11.15M1768 903.14h11.15M619.89 917.26h11.15M697.92 917.26h11.15M720.22 917.26h22.29M865.12 917.26h22.29M1166.08 917.26h11.15M1199.52 917.26h11.15M1400.16 917.26h11.15M1979.79 917.26h11.15M619.89 931.37h11.15M697.92 931.37h44.59M954.3 931.37h11.15M943.15 945.48h11.15M1043.47 945.48h11.15M954.3 959.59h11.15M1455.9 959.59h11.15M664.48 1001.93h11.15M1166.08 1001.93h11.15M1400.16 1016.04h11.15M1756.86 1016.04h22.29M998.88 1030.16h11.15M1545.07 1030.16h11.15M1634.24 1030.16h11.15M1333.28 1044.27h11.15M1444.75 1044.27h11.15M1634.24 1044.27h11.15M207.47 1058.38h11.15M1389.02 1072.49h11.15M1422.46 1072.49h22.29M1455.9 1072.49h11.15M318.93 1100.72h11.15M374.67 1100.72h11.15M419.25 1100.72h11.15M1444.75 1100.72h11.15M96 1114.83h33.44M140.59 1114.83h11.15M419.25 1114.83h11.15M764.8 1114.83h22.29M865.12 1114.83h22.29M898.56 1114.83h33.44M1099.2 1114.83h11.15M1221.82 1114.83h11.15M1255.26 1114.83h11.15M107.15 1128.94h11.15M697.92 1128.94h22.29M753.66 1128.94h33.44M865.12 1128.94h22.29M909.71 1128.94h11.15M1154.94 1128.94h11.15M1935.21 1128.94h11.15M151.73 1143.06h22.29M218.61 1143.06h22.29M252.05 1143.06h11.15M274.35 1143.06h11.15M608.75 1143.06h11.15M954.3 1143.06h11.15M1021.18 1143.06h11.15M1221.82 1143.06h11.15M1299.84 1143.06h11.15M1645.39 1143.06h11.15M1210.67 1157.17h11.15M1823.74 1157.17h22.29M1968.65 1157.17h22.29M1522.78 1171.28h11.15M1076.91 1185.39h11.15M1121.5 1185.39h11.15M1277.55 1185.39h11.15M129.44 1199.51h11.15M1266.4 1199.51h11.15M619.89 1213.62h33.44M675.63 1213.62h11.15M697.92 1213.62h11.15M887.42 1213.62h11.15M1277.55 1213.62h11.15M1478.19 1213.62h11.15M151.73 1227.73h11.15M218.61 1227.73h11.15M252.05 1227.73h11.15M697.92 1227.73h11.15M720.22 1227.73h22.29M764.8 1227.73h22.29M820.54 1227.73h33.44M920.86 1227.73h11.15M1065.76 1227.73h11.15M1099.2 1227.73h11.15M1422.46 1227.73h11.15M1656.54 1227.73h22.29M419.25 1241.84h11.15M1032.32 1241.84h11.15M1478.19 1241.84h11.15M1623.1 1255.96h11.15M162.88 1270.07h11.15M196.32 1270.07h22.29M229.76 1270.07h11.15M274.35 1270.07h11.15M642.19 1270.07h22.29M1556.22 1270.07h11.15M1099.2 1284.18h11.15M1132.64 1284.18h11.15M1210.67 1284.18h11.15M675.63 1298.29h11.15M998.88 1298.29h11.15M1400.16 1298.29h11.15M1455.9 1298.29h11.15M1834.89 1298.29h22.29M1946.35 1298.29h22.29M118.29 1312.41h11.15M140.59 1312.41h11.15M396.96 1312.41h11.15M486.13 1312.41h22.29M597.6 1312.41h11.15M619.89 1312.41h11.15M1232.96 1312.41h11.15M1333.28 1312.41h11.15M1600.8 1312.41h11.15M1712.27 1312.41h11.15M1745.71 1312.41h11.15M1957.5 1312.41h11.15M318.93 1326.52h11.15M764.8 1326.52h22.29M831.68 1326.52h55.73M943.15 1326.52h11.15M965.44 1326.52h11.15M1054.62 1326.52h22.29M1132.64 1326.52h11.15M1255.26 1326.52h11.15M1366.72 1326.52h22.29M1556.22 1326.52h11.15M1790.3 1326.52h11.15M396.96 1340.63h11.15M1288.7 1340.63h11.15M1310.99 1340.63h11.15M140.59 1354.74h11.15M374.67 1354.74h11.15M419.25 1354.74h11.15M1210.67 1354.74h11.15M1879.47 1354.74h11.15M1099.2 1368.86h11.15M1121.5 1368.86h11.15M1244.11 1368.86h11.15M341.23 1382.97h11.15M865.12 1382.97h22.29M909.71 1382.97h11.15M932 1382.97h11.15M1099.2 1382.97h11.15M1567.36 1382.97h11.15M1589.66 1382.97h11.15M1667.68 1382.97h11.15M430.4 1397.08h11.15M452.69 1397.08h11.15M474.99 1397.08h11.15M553.01 1397.08h33.44M1545.07 1397.08h11.15M1645.39 1397.08h11.15M608.75 1411.19h11.15M664.48 1411.19h22.29M753.66 1411.19h11.15M831.68 1411.19h33.44M1032.32 1411.19h11.15M1299.84 1411.19h11.15M1533.92 1411.19h11.15M1812.59 1411.19h22.29M174.03 1425.31h33.44M240.91 1425.31h33.44M285.49 1425.31h11.15M307.79 1425.31h11.15M341.23 1425.31h11.15M396.96 1425.31h11.15M586.45 1425.31h22.29M764.8 1425.31h22.29M853.98 1425.31h11.15M898.56 1425.31h11.15M1790.3 1425.31h11.15M1834.89 1425.31h11.15M452.69 1439.42h11.15M519.57 1439.42h11.15M753.66 1439.42h11.15M787.1 1439.42h22.29M820.54 1439.42h11.15M909.71 1439.42h11.15M642.19 1453.53h11.15M720.22 1453.53h11.15M764.8 1453.53h22.29M1054.62 1453.53h11.15M1433.6 1453.53h11.15M1745.71 1453.53h33.44M352.37 1467.64h11.15M675.63 1467.64h11.15M775.95 1467.64h11.15M876.27 1467.64h22.29M954.3 1467.64h11.15M987.74 1467.64h11.15M1021.18 1467.64h11.15M1065.76 1467.64h11.15M1400.16 1467.64h11.15M1712.27 1467.64h11.15M1745.71 1467.64h11.15M307.79 1481.76h11.15M631.04 1481.76h22.29M709.07 1481.76h33.44M1344.43 1481.76h11.15M1366.72 1481.76h11.15M1400.16 1481.76h11.15M151.73 1495.87h11.15M196.32 1495.87h11.15M218.61 1495.87h11.15M252.05 1495.87h11.15M1400.16 1495.87h11.15M519.57 1509.98h11.15M619.89 1509.98h11.15M731.36 1509.98h11.15M1110.35 1509.98h11.15M1422.46 1509.98h11.15M1522.78 1509.98h11.15M1846.03 1509.98h11.15M385.81 1524.09h22.29M887.42 1524.09h11.15M1489.34 1524.09h11.15M1533.92 1524.09h11.15M1857.18 1524.09h22.29M1890.62 1524.09h44.59M1946.35 1524.09h44.59M107.15 1538.21h11.15M318.93 1538.21h11.15M497.28 1538.21h11.15M709.07 1538.21h22.29M1199.52 1538.21h11.15M1255.26 1538.21h11.15M1857.18 1538.21h11.15M1890.62 1538.21h55.73M107.15 1552.32h11.15M129.44 1552.32h11.15M318.93 1552.32h11.15M619.89 1552.32h11.15M753.66 1552.32h33.44M809.39 1552.32h33.44M853.98 1552.32h33.44M909.71 1552.32h33.44M954.3 1552.32h11.15M987.74 1552.32h11.15M1021.18 1552.32h11.15M1266.4 1552.32h22.29M1444.75 1552.32h11.15M1756.86 1552.32h22.29M1957.5 1552.32h11.15"/>
<path stroke="#feb946" d="M341.23 239.86h11.15M1210.67 239.86h11.15M96 253.97h33.44M140.59 253.97h11.15M341.23 253.97h11.15M396.96 253.97h11.15M1065.76 253.97h11.15M1968.65 253.97h11.15M363.52 268.08h11.15M920.86 268.08h11.15M1366.72 268.08h11.15M140.59 282.19h22.29M196.32 282.19h11.15M218.61 282.19h11.15M307.79 282.19h11.15M642.19 282.19h22.29M686.78 282.19h11.15M809.39 282.19h11.15M920.86 282.19h11.15M1154.94 282.19h11.15M1344.43 282.19h11.15M1389.02 282.19h11.15M1433.6 282.19h11.15M1857.18 282.19h11.15M1890.62 282.19h22.29M452.69 296.31h11.15M508.43 296.31h11.15M675.63 296.31h11.15M1154.94 296.31h11.15M1054.62 310.42h11.15M140.59 324.53h11.15M385.81 324.53h22.29M1790.3 324.53h11.15M107.15 352.76h11.15M1244.11 380.98h11.15M140.59 423.32h11.15M1266.4 423.32h11.15M1834.89 423.32h11.15M419.25 437.43h11.15M1500.48 437.43h11.15M1611.95 437.43h11.15M118.29 451.54h11.15M1299.84 451.54h11.15M1946.35 451.54h11.15M1979.79 451.54h11.15M96 465.66h11.15M1857.18 465.66h11.15M1879.47 465.66h22.29M1979.79 465.66h11.15M107.15 479.77h11.15M1277.55 479.77h11.15M1834.89 479.77h11.15M341.23 493.88h11.15M374.67 493.88h11.15M419.25 493.88h11.15M1979.79 493.88h11.15M1790.3 507.99h11.15M1244.11 536.22h11.15M1478.19 536.22h11.15M1812.59 536.22h11.15M107.15 550.33h11.15M1879.47 550.33h11.15M1924.06 550.33h11.15M1823.74 564.44h11.15M140.59 578.56h11.15M1790.3 578.56h22.29M1946.35 578.56h11.15M107.15 592.67h11.15M1968.65 592.67h22.29M1834.89 606.78h11.15M1868.33 606.78h11.15M943.15 635.01h11.15M1021.18 635.01h11.15M1043.47 649.12h11.15M1979.79 649.12h11.15M441.55 663.23h11.15M474.99 663.23h11.15M374.67 719.68h11.15M608.75 733.79h11.15M664.48 733.79h11.15M1266.4 733.79h11.15M1400.16 733.79h11.15M1790.3 733.79h22.29M1255.26 747.91h11.15M1533.92 747.91h11.15M1088.06 818.47h11.15M1110.35 818.47h33.44M1834.89 818.47h11.15M1834.89 832.58h11.15M1801.45 846.69h11.15M1689.98 889.03h11.15M1701.12 903.14h11.15M1177.23 917.26h11.15M1266.4 917.26h11.15M1310.99 917.26h11.15M943.15 931.37h11.15M1366.72 931.37h11.15M1545.07 945.48h11.15M976.59 959.59h11.15M1021.18 1030.16h11.15M1823.74 1114.83h11.15M307.79 1128.94h11.15M385.81 1128.94h22.29M1166.08 1128.94h11.15M1121.5 1143.06h11.15M1846.03 1157.17h11.15M1266.4 1171.28h11.15M1166.08 1185.39h11.15M1188.38 1185.39h11.15M1188.38 1199.51h22.29M1221.82 1199.51h11.15M1522.78 1213.62h11.15M1567.36 1213.62h22.29M1645.39 1213.62h11.15M1745.71 1213.62h11.15M1790.3 1213.62h11.15M207.47 1227.73h11.15M631.04 1227.73h11.15M932 1227.73h11.15M1143.79 1241.84h11.15M151.73 1255.96h11.15M196.32 1255.96h22.29M229.76 1255.96h11.15M252.05 1255.96h11.15M196.32 1284.18h11.15M263.2 1284.18h11.15M296.64 1298.29h11.15M1032.32 1298.29h11.15M1868.33 1298.29h11.15M129.44 1312.41h11.15M296.64 1312.41h11.15M374.67 1312.41h11.15M419.25 1312.41h11.15M720.22 1312.41h11.15M1054.62 1312.41h11.15M1366.72 1312.41h44.59M1433.6 1312.41h11.15M1455.9 1312.41h22.29M1790.3 1312.41h11.15M1812.59 1312.41h22.29M1846.03 1312.41h11.15M129.44 1326.52h11.15M408.11 1326.52h11.15M608.75 1326.52h11.15M631.04 1326.52h22.29M742.51 1326.52h11.15M909.71 1326.52h11.15M1032.32 1326.52h22.29M1400.16 1326.52h11.15M1433.6 1326.52h11.15M1455.9 1326.52h11.15M385.81 1340.63h11.15M1110.35 1340.63h11.15M1154.94 1340.63h11.15M1232.96 1340.63h22.29M1667.68 1340.63h11.15M1823.74 1340.63h11.15M1935.21 1340.63h33.44M1266.4 1354.74h11.15M96 1368.86h11.15M385.81 1368.86h11.15M1589.66 1368.86h11.15M151.73 1382.97h11.15M174.03 1382.97h22.29M218.61 1382.97h11.15M240.91 1382.97h22.29M1355.58 1382.97h11.15M408.11 1397.08h11.15M541.87 1397.08h11.15M887.42 1397.08h11.15M909.71 1397.08h11.15M932 1397.08h11.15M363.52 1411.19h11.15M408.11 1411.19h11.15M619.89 1411.19h11.15M697.92 1411.19h11.15M787.1 1411.19h44.59M932 1411.19h11.15M162.88 1425.31h11.15M207.47 1425.31h11.15M229.76 1425.31h11.15M274.35 1425.31h11.15M374.67 1425.31h11.15M474.99 1425.31h11.15M497.28 1425.31h11.15M519.57 1425.31h22.29M553.01 1425.31h33.44M686.78 1439.42h11.15M1500.48 1439.42h11.15M965.44 1453.53h11.15M1010.03 1453.53h11.15M1467.04 1467.64h11.15M274.35 1495.87h11.15M909.71 1495.87h11.15M1634.24 1495.87h11.15M653.33 1509.98h11.15M697.92 1509.98h11.15M753.66 1509.98h11.15M787.1 1509.98h11.15M809.39 1509.98h11.15M842.83 1509.98h22.29M1834.89 1509.98h11.15M697.92 1524.09h11.15M1645.39 1524.09h11.15M1177.23 1538.21h11.15M1299.84 1538.21h11.15M1868.33 1538.21h11.15M720.22 1552.32h22.29M1032.32 1552.32h11.15M1132.64 1552.32h11.15"/>
<path stroke="#fa8f24" d="M352.37 239.86h11.15M408.11 239.86h11.15M1511.63 239.86h11.15M1344.43 268.08h11.15M1455.9 268.08h11.15M285.49 282.19h11.15M363.52 282.19h11.15M474.99 282.19h11.15M519.57 282.19h11.15M1500.48 282.19h11.15M1801.45 282.19h11.15M1935.21 282.19h11.15M285.49 296.31h33.44M363.52 296.31h11.15M474.99 296.31h11.15M753.66 296.31h78.03M865.12 296.31h22.29M932 296.31h11.15M140.59 380.98h11.15M107.15 465.66h11.15M118.29 479.77h11.15M1522.78 479.77h11.15M1823.74 507.99h11.15M352.37 564.44h11.15M341.23 705.57h11.15M374.67 705.57h11.15M1890.62 832.58h11.15M1400.16 931.37h11.15M1433.6 931.37h11.15M1455.9 931.37h11.15M1377.87 959.59h11.15M1734.56 1016.04h11.15M1779.15 1016.04h11.15M976.59 1030.16h11.15M1210.67 1114.83h11.15M1232.96 1128.94h11.15M1244.11 1171.28h11.15M129.44 1185.39h11.15M1255.26 1199.51h11.15M174.03 1227.73h22.29M240.91 1227.73h11.15M1110.35 1227.73h11.15M174.03 1241.84h22.29M240.91 1241.84h11.15M1065.76 1241.84h11.15M1088.06 1241.84h11.15M174.03 1255.96h22.29M240.91 1255.96h11.15M263.2 1255.96h11.15M174.03 1270.07h22.29M240.91 1270.07h11.15M285.49 1298.29h11.15M330.08 1298.29h11.15M352.37 1298.29h11.15M408.11 1298.29h11.15M1088.06 1298.29h11.15M318.93 1312.41h11.15M363.52 1312.41h11.15M1801.45 1312.41h11.15M1979.79 1312.41h11.15M341.23 1340.63h11.15M374.67 1340.63h11.15M1121.5 1340.63h11.15M118.29 1368.86h11.15M1232.96 1368.86h11.15M419.25 1382.97h11.15M865.12 1397.08h22.29M920.86 1397.08h11.15M1266.4 1411.19h11.15M664.48 1425.31h11.15M987.74 1453.53h11.15M1389.02 1467.64h11.15M1433.6 1467.64h11.15M174.03 1495.87h22.29M207.47 1495.87h11.15M240.91 1495.87h11.15M631.04 1509.98h11.15M876.27 1509.98h11.15M1812.59 1509.98h11.15M720.22 1524.09h11.15M764.8 1524.09h22.29M798.24 1524.09h11.15M820.54 1524.09h22.29M853.98 1524.09h33.44M898.56 1524.09h11.15M1556.22 1524.09h11.15M140.59 1538.21h11.15M1310.99 1538.21h11.15M1801.45 1538.21h11.15M1823.74 1538.21h11.15M1957.5 1538.21h11.15M1065.76 1552.32h11.15M1868.33 1552.32h11.15M1935.21 1552.32h11.15"/>
<path stroke="#e2650e" d="M1500.48 239.86h11.15M1623.1 239.86h11.15M1979.79 239.86h11.15M1199.52 253.97h11.15M1823.74 253.97h11.15M1857.18 253.97h22.29M887.42 296.31h11.15M408.11 310.42h11.15M1979.79 352.76h11.15M1846.03 395.09h11.15M1578.51 423.32h11.15M1823.74 423.32h11.15M1946.35 423.32h11.15M374.67 437.43h11.15M1266.4 437.43h11.15M1823.74 479.77h11.15M419.25 522.11h11.15M1299.84 536.22h11.15M1834.89 578.56h11.15M1857.18 592.67h11.15M1879.47 592.67h22.29M1912.91 592.67h22.29M1879.47 635.01h11.15M1032.32 649.12h11.15M1076.91 649.12h11.15M1143.79 649.12h11.15M1846.03 747.91h11.15M1801.45 818.47h22.29M1422.46 931.37h11.15M976.59 987.82h22.29M998.88 1001.93h22.29M954.3 1016.04h11.15M976.59 1016.04h44.59M1701.12 1016.04h11.15M1723.42 1016.04h11.15M263.2 1058.38h11.15M296.64 1058.38h11.15M352.37 1058.38h11.15M374.67 1058.38h11.15M1121.5 1100.72h11.15M1244.11 1114.83h11.15M107.15 1143.06h11.15M1266.4 1157.17h11.15M1255.26 1171.28h11.15M1310.99 1185.39h11.15M1299.84 1199.51h11.15M162.88 1213.62h33.44M229.76 1213.62h11.15M274.35 1213.62h11.15M1946.35 1213.62h11.15M653.33 1227.73h11.15M742.51 1227.73h11.15M151.73 1241.84h11.15M218.61 1241.84h11.15M252.05 1241.84h11.15M263.2 1270.07h11.15M274.35 1284.18h11.15M307.79 1298.29h11.15M1255.26 1340.63h11.15M107.15 1368.86h11.15M664.48 1382.97h11.15M1411.31 1382.97h11.15M341.23 1397.08h11.15M363.52 1397.08h11.15M608.75 1425.31h11.15M296.64 1439.42h11.15M341.23 1481.76h11.15M374.67 1481.76h11.15M887.42 1509.98h11.15M920.86 1509.98h22.29M965.44 1509.98h44.59M1021.18 1509.98h11.15M1968.65 1538.21h11.15"/>
<path stroke="#b64203" d="M1522.78 239.86h11.15M1857.18 239.86h11.15M1879.47 239.86h22.29M1232.96 253.97h11.15M1177.23 282.19h11.15M1232.96 338.64h22.29M129.44 409.21h11.15M1812.59 578.56h11.15M1935.21 592.67h11.15M385.81 691.46h11.15M1010.03 973.71h11.15M943.15 1001.93h11.15M965.44 1001.93h11.15M330.08 1058.38h11.15M1154.94 1143.06h11.15M1299.84 1171.28h11.15M1299.84 1185.39h11.15"/>
<path stroke="#802c05" d="M1166.08 253.97h11.15M1221.82 253.97h11.15M1255.26 253.97h11.15M1277.55 253.97h11.15M419.25 282.19h11.15M419.25 296.31h11.15M419.25 310.42h11.15M419.25 324.53h11.15M107.15 409.21h11.15M1823.74 409.21h11.15M1901.77 620.89h11.15M954.3 973.71h11.15M976.59 973.71h22.29M1032.32 1058.38h11.15M1288.7 1128.94h11.15M1065.76 1382.97h11.15M1645.39 1382.97h11.15"/>
</g>
<rect x="96" y="189" width="55.73" height="42" fill="#a6cee3"/>
<rect x="151.73" y="189" width="133.76" height="42" fill="#1f78b4"/>
<rect x="285.49" y="189" width="55.73" height="42" fill="#b2df8a"/>
<rect x="341.23" y="189" width="44.59" height="42" fill="#33a02c"/>
<rect x="385.81" y="189" width="33.44" height="42" fill="#fb9a99"/>
<rect x="419.25" y="189" width="11.15" height="42" fill="#e31a1c"/>
<rect x="430.4" y="189" width="178.35" height="42" fill="#fdbf6f"/>
<rect x="608.75" y="189" width="144.91" height="42" fill="#ff7f00"/>
<rect x="753.66" y="189" width="189.49" height="42" fill="#cab2d6"/>
<rect x="943.15" y="189" width="89.17" height="42" fill="#6a3d9a"/>
<rect x="1032.32" y="189" width="44.59" height="42" fill="#ffff99"/>
<rect x="1076.91" y="189" width="78.03" height="42" fill="#b15928"/>
<rect x="1154.94" y="189" width="111.47" height="42" fill="#a6cee3"/>
<rect x="1266.4" y="189" width="22.29" height="42" fill="#1f78b4"/>
<rect x="1288.7" y="189" width="33.44" height="42" fill="#b2df8a"/>
<rect x="1322.14" y="189" width="156.05" height="42" fill="#33a02c"/>
<rect x="1478.19" y="189" width="78.03" height="42" fill="#fb9a99"/>
<rect x="1556.22" y="189" width="66.88" height="42" fill="#e31a1c"/>
<rect x="1623.1" y="189" width="66.88" height="42" fill="#fdbf6f"/>
<rect x="1689.98" y="189" width="100.32" height="42" fill="#ff7f00"/>
<rect x="1790.3" y="189" width="33.44" height="42" fill="#cab2d6"/>
<rect x="1823.74" y="189" width="33.44" height="42" fill="#6a3d9a"/>
<rect x="1857.18" y="189" width="89.17" height="42" fill="#ffff99"/>
<rect x="1946.35" y="189" width="44.59" height="42" fill="#b15928"/>
<path d="M96 189V231M96 232.8V1559.38M107.15 189V231M107.15 232.8V1559.38M118.29 189V231M118.29 232.8V1559.38M129.44 189V231M129.44 232.8V1559.38M140.59 189V231M140.59 232.8V1559.38M151.73 189V231M151.73 232.8V1559.38M162.88 189V231M162.88 232.8V1559.38M174.03 189V231M174.03 232.8V1559.38M185.17 189V231M185.17 232.8V1559.38M196.32 189V231M196.32 232.8V1559.38M207.47 189V231M207.47 232.8V1559.38M218.61 189V231M218.61 232.8V1559.38M229.76 189V231M229.76 232.8V1559.38M240.91 189V231M240.91 232.8V1559.38M252.05 189V231M252.05 232.8V1559.38M263.2 189V231M263.2 232.8V1559.38M274.35 189V231M274.35 232.8V1559.38M285.49 189V231M285.49 232.8V1559.38M296.64 189V231M296.64 232.8V1559.38M307.79 189V231M307.79 232.8V1559.38M318.93 189V231M318.93 232.8V1559.38M330.08 189V231M330.08 232.8V1559.38M341.23 189V231M341.23 232.8V1559.38M352.37 189V231M352.37 232.8V1559.38M363.52 189V231M363.52 232.8V1559.38M374.67 189V231M374.67 232.8V1559.38M385.81 189V231M385.81 232.8V1559.38M396.96 189V231M396.96 232.8V1559.38M408.11 189V231M408.11 232.8V1559.38M419.25 189V231M419.25 232.8V1559.38M430.4 189V231M430.4 232.8V1559.38M441.55 189V231M441.55 232.8V1559.38M452.69 189V231M452.69 232.8V1559.38M463.84 189V231M463.84 232.8V1559.38M474.99 189V231M474.99 232.8V1559.38M486.13 189V231M486.13 232.8V1559.38M497.28 189V231M497.28 232.8V1559.38M508.43 189V231M508.43 232.8V1559.38M519.57 189V231M519.57 232.8V1559.38M530.72 189V231M530.72 232.8V1559.38M541.87 189V231M541.87 232.8V1559.38M553.01 189V231M553.01 232.8V1559.38M564.16 189V231M564.16 232.8V1559.38M575.31 189V231M575.31 232.8V1559.38M586.45 189V231M586.45 232.8V1559.38M597.6 189V231M597.6 232.8V1559.38M608.75 189V231M608.75 232.8V1559.38M619.89 189V231M619.89 232.8V1559.38M631.04 189V231M631.04 232.8V1559.38M642.19 189V231M642.19 232.8V1559.38M653.33 189V231M653.33 232.8V1559.38M664.48 189V231M664.48 232.8V1559.38M675.63 189V231M675.63 232.8V1559.38M686.78 189V231M686.78 232.8V1559.38M697.92 189V231M697.92 232.8V1559.38M709.07 189V231M709.07 232.8V1559.38M720.22 189V231M720.22 232.8V1559.38M731.36 189V231M731.36 232.8V1559.38M742.51 189V231M742.51 232.8V1559.38M753.66 189V231M753.66 232.8V1559.38M764.8 189V231M764.8 232.8V1559.38M775.95 189V231M775.95 232.8V1559.38M787.1 189V231M787.1 232.8V1559.38M798.24 189V231M798.24 232.8V1559.38M809.39 189V231M809.39 232.8V1559.38M820.54 189V231M820.54 232.8V1559.38M831.68 189V231M831.68 232.8V1559.38M842.83 189V231M842.83 232.8V1559.38M853.98 189V231M853.98 232.8V1559.38M865.12 189V231M865.12 232.8V1559.38M876.27 189V231M876.27 232.8V1559.38M887.42 189V231M887.42 232.8V1559.38M898.56 189V231M898.56 232.8V1559.38M909.71 189V231M909.71 232.8V1559.38M920.86 189V231M920.86 232.8V1559.38M932 189V231M932 232.8V1559.38M943.15 189V231M943.15 232.8V1559.38M954.3 189V231M954.3 232.8V1559.38M965.44 189V231M965.44 232.8V1559.38M976.59 189V231M976.59 232.8V1559.38M987.74 189V231M987.74 232.8V1559.38M998.88 189V231M998.88 232.8V1559.38M1010.03 189V231M1010.03 232.8V1559.38M1021.18 189V231M1021.18 232.8V1559.38M1032.32 189V231M1032.32 232.8V1559.38M1043.47 189V231M1043.47 232.8V1559.38M1054.62 189V231M1054.62 232.8V1559.38M1065.76 189V231M1065.76 232.8V1559.38M1076.91 189V231M1076.91 232.8V1559.38M1088.06 189V231M1088.06 232.8V1559.38M1099.2 189V231M1099.2 232.8V1559.38M1110.35 189V231M1110.35 232.8V1559.38M1121.5 189V231M1121.5 232.8V1559.38M1132.64 189V231M1132.64 232.8V1559.38M1143.79 189V231M1143.79 232.8V1559.38M1154.94 189V231M1154.94 232.8V1559.38M1166.08 189V231M1166.08 232.8V1559.38M1177.23 189V231M1177.23 232.8V1559.38M1188.38 189V231M1188.38 232.8V1559.38M1199.52 189V231M1199.52 232.8V1559.38M1210.67 189V231M1210.67 232.8V1559.38M1221.82 189V231M1221.82 232.8V1559.38M1232.96 189V231M1232.96 232.8V1559.38M1244.11 189V231M1244.11 232.8V1559.38M1255.26 189V231M1255.26 232.8V1559.38M1266.4 189V231M1266.4 232.8V1559.38M1277.55 189V231M1277.55 232.8V1559.38M1288.7 189V231M1288.7 232.8V1559.38M1299.84 189V231M1299.84 232.8V1559.38M1310.99 189V231M1310.99 232.8V1559.38M1322.14 189V231M1322.14 232.8V1559.38M1333.28 189V231M1333.28 232.8V1559.38M1344.43 189V231M1344.43 232.8V1559.38M1355.58 189V231M1355.58 232.8V1559.38M1366.72 189V231M1366.72 232.8V1559.38M1377.87 189V231M1377.87 232.8V1559.38M1389.02 189V231M1389.02 232.8V1559.38M1400.16 189V231M1400.16 232.8V1559.38M1411.31 189V231M1411.31 232.8V1559.38M1422.46 189V231M1422.46 232.8V1559.38M1433.6 189V231M1433.6 232.8V1559.38M1444.75 189V231M1444.75 232.8V1559.38M1455.9 189V231M1455.9 232.8V1559.38M1467.04 189V231M1467.04 232.8V1559.38M1478.19 189V231M1478.19 232.8V1559.38M1489.34 189V231M1489.34 232.8V1559.38M1500.48 189V231M1500.48 232.8V1559.38M1511.63 189V231M1511.63 232.8V1559.38M1522.78 189V231M1522.78 232.8V1559.38M1533.92 189V231M1533.92 232.8V1559.38M1545.07 189V231M1545.07 232.8V1559.38M1556.22 189V231M1556.22 232.8V1559.38M1567.36 189V231M1567.36 232.8V1559.38M1578.51 189V231M1578.51 232.8V1559.38M1589.66 189V231M1589.66 232.8V1559.38M1600.8 189V231M1600.8 232.8V1559.38M1611.95 189V231M1611.95 232.8V1559.38M1623.1 189V231M1623.1 232.8V1559.38M1634.24 189V231M1634.24 232.8V1559.38M1645.39 189V231M1645.39 232.8V1559.38M1656.54 189V231M1656.54 232.8V1559.38M1667.68 189V231M1667.68 232.8V1559.38M1678.83 189V231M1678.83 232.8V1559.38M1689.98 189V231M1689.98 232.8V1559.38M1701.12 189V231M1701.12 232.8V1559.38M1712.27 189V231M1712.27 232.8V1559.38M1723.42 189V231M1723.42 232.8V1559.38M1734.56 189V231M1734.56 232.8V1559.38M1745.71 189V231M1745.71 232.8V1559.38M1756.86 189V231M1756.86 232.8V1559.38M1768 189V231M1768 232.8V1559.38M1779.15 189V231M1779.15 232.8V1559.38M1790.3 189V231M1790.3 232.8V1559.38M1801.45 189V231M1801.45 232.8V1559.38M1812.59 189V231M1812.59 232.8V1559.38M1823.74 189V231M1823.74 232.8V1559.38M1834.89 189V231M1834.89 232.8V1559.38M1846.03 189V231M1846.03 232.8V1559.38M1857.18 189V231M1857.18 232.8V1559.38M1868.33 189V231M1868.33 232.8V1559.38M1879.47 189V231M1879.47 232.8V1559.38M1890.62 189V231M1890.62 232.8V1559.38M1901.77 189V231M1901.77 232.8V1559.38M1912.91 189V231M1912.91 232.8V1559.38M1924.06 189V231M1924.06 232.8V1559.38M1935.21 189V231M1935.21 232.8V1559.38M1946.35 189V231M1946.35 232.8V1559.38M1957.5 189V231M1957.5 232.8V1559.38M1968.65 189V231M1968.65 232.8V1559.38M1979.79 189V231M1979.79 232.8V1559.38M1990.94 189V231M1990.94 232.8V1559.38M96 232.8H1990.94M96 246.91H1990.94M96 261.03H1990.94M96 275.14H1990.94M96 289.25H1990.94M96 303.36H1990.94M96 317.48H1990.94M96 331.59H1990.94M96 345.7H1990.94M96 359.81H1990.94M96 373.93H1990.94M96 388.04H1990.94M96 402.15H1990.94M96 416.26H1990.94M96 430.38H1990.94M96 444.49H1990.94M96 458.6H1990.94M96 472.71H1990.94M96 486.83H1990.94M96 500.94H1990.94M96 515.05H1990.94M96 529.16H1990.94M96 543.28H1990.94M96 557.39H1990.94M96 571.5H1990.94M96 585.61H1990.94M96 599.73H1990.94M96 613.84H1990.94M96 627.95H1990.94M96 642.06H1990.94M96 656.17H1990.94M96 670.29H1990.94M96 684.4H1990.94M96 698.51H1990.94M96 712.62H1990.94M96 726.74H1990.94M96 740.85H1990.94M96 754.96H1990.94M96 769.08H1990.94M96 783.19H1990.94M96 797.3H1990.94M96 811.41H1990.94M96 825.53H1990.94M96 839.64H1990.94M96 853.75H1990.94M96 867.86H1990.94M96 881.98H1990.94M96 896.09H1990.94M96 910.2H1990.94M96 924.31H1990.94M96 938.42H1990.94M96 952.54H1990.94M96 966.65H1990.94M96 980.76H1990.94M96 994.88H1990.94M96 1008.99H1990.94M96 1023.1H1990.94M96 1037.21H1990.94M96 1051.33H1990.94M96 1065.44H1990.94M96 1079.55H1990.94M96 1093.66H1990.94M96 1107.78H1990.94M96 1121.89H1990.94M96 1136H1990.94M96 1150.11H1990.94M96 1164.23H1990.94M96 1178.34H1990.94M96 1192.45H1990.94M96 1206.56H1990.94M96 1220.67H1990.94M96 1234.79H1990.94M96 1248.9H1990.94M96 1263.01H1990.94M96 1277.12H1990.94M96 1291.24H1990.94M96 1305.35H1990.94M96 1319.46H1990.94M96 1333.58H1990.94M96 1347.69H1990.94M96 1361.8H1990.94M96 1375.91H1990.94M96 1390.03H1990.94M96 1404.14H1990.94M96 1418.25H1990.94M96 1432.36H1990.94M96 1446.47H1990.94M96 1460.59H1990.94M96 1474.7H1990.94M96 1488.81H1990.94M96 1502.92H1990.94M96 1517.04H1990.94M96 1531.15H1990.94M96 1545.26H1990.94M96 1559.38H1990.94" stroke="#fff" stroke-width="0.8" stroke-opacity="0.75" fill="none"/>
<path d="M151.72 232.8V1559M285.46 232.8V1559M341.18 232.8V1559M385.76 232.8V1559M419.19 232.8V1559M430.34 232.8V1559M608.65 232.8V1559M753.53 232.8V1559M942.99 232.8V1559M1032.15 232.8V1559M1076.72 232.8V1559M1154.74 232.8V1559M1266.18 232.8V1559M1288.47 232.8V1559M1321.91 232.8V1559M1477.93 232.8V1559M1555.94 232.8V1559M1622.81 232.8V1559M1689.68 232.8V1559M1789.98 232.8V1559M1823.41 232.8V1559M1856.85 232.8V1559M1946 232.8V1559" stroke="#000" stroke-width="2.1" fill="none"/>
<path d="M1990.74 239.85h7.9M1990.74 253.96h7.9M1990.74 268.07h7.9M1990.74 282.18h7.9M1990.74 296.29h7.9M1990.74 310.39h7.9M1990.74 324.5h7.9M1990.74 338.61h7.9M1990.74 352.72h7.9M1990.74 366.83h7.9M1990.74 380.93h7.9M1990.74 395.04h7.9M1990.74 409.15h7.9M1990.74 423.26h7.9M1990.74 437.37h7.9M1990.74 451.47h7.9M1990.74 465.58h7.9M1990.74 479.69h7.9M1990.74 493.8h7.9M1990.74 507.91h7.9M1990.74 522.01h7.9M1990.74 536.12h7.9M1990.74 550.23h7.9M1990.74 564.34h7.9M1990.74 578.45h7.9M1990.74 592.55h7.9M1990.74 606.66h7.9M1990.74 620.77h7.9M1990.74 634.88h7.9M1990.74 648.99h7.9M1990.74 663.09h7.9M1990.74 677.2h7.9M1990.74 691.31h7.9M1990.74 705.42h7.9M1990.74 719.53h7.9M1990.74 733.63h7.9M1990.74 747.74h7.9M1990.74 761.85h7.9M1990.74 775.96h7.9M1990.74 790.07h7.9M1990.74 804.17h7.9M1990.74 818.28h7.9M1990.74 832.39h7.9M1990.74 846.5h7.9M1990.74 860.61h7.9M1990.74 874.71h7.9M1990.74 888.82h7.9M1990.74 902.93h7.9M1990.74 917.04h7.9M1990.74 931.15h7.9M1990.74 945.25h7.9M1990.74 959.36h7.9M1990.74 973.47h7.9M1990.74 987.58h7.9M1990.74 1001.69h7.9M1990.74 1015.79h7.9M1990.74 1029.9h7.9M1990.74 1044.01h7.9M1990.74 1058.12h7.9M1990.74 1072.23h7.9M1990.74 1086.33h7.9M1990.74 1100.44h7.9M1990.74 1114.55h7.9M1990.74 1128.66h7.9M1990.74 1142.77h7.9M1990.74 1156.87h7.9M1990.74 1170.98h7.9M1990.74 1185.09h7.9M1990.74 1199.2h7.9M1990.74 1213.31h7.9M1990.74 1227.41h7.9M1990.74 1241.52h7.9M1990.74 1255.63h7.9M1990.74 1269.74h7.9M1990.74 1283.85h7.9M1990.74 1297.95h7.9M1990.74 1312.06h7.9M1990.74 1326.17h7.9M1990.74 1340.28h7.9M1990.74 1354.39h7.9M1990.74 1368.49h7.9M1990.74 1382.6h7.9M1990.74 1396.71h7.9M1990.74 1410.82h7.9M1990.74 1424.93h7.9M1990.74 1439.03h7.9M1990.74 1453.14h7.9M1990.74 1467.25h7.9M1990.74 1481.36h7.9M1990.74 1495.47h7.9M1990.74 1509.57h7.9M1990.74 1523.68h7.9M1990.74 1537.79h7.9M1990.74 1551.9h7.9M1990.74 210h7.9" stroke="#000" stroke-width="1.45" fill="none"/>
<g class="rl">
<text x="2003.9" y="244.75">LV140</text>
<text x="2003.9" y="258.86">LV844</text>
<text x="2003.9" y="272.97">LV847</text>
<text x="2003.9" y="287.08">LV45</text>
<text x="2003.9" y="301.19">LV234</text>
<text x="2003.9" y="315.29">LV30</text>
<text x="2003.9" y="329.4">LV928</text>
<text x="2003.9" y="343.51">LV155</text>
<text x="2003.9" y="357.62">LV975</text>
<text x="2003.9" y="371.73">LV705</text>
<text x="2003.9" y="385.83">LV977</text>
<text x="2003.9" y="399.94">LV985</text>
<text x="2003.9" y="414.05">LV96</text>
<text x="2003.9" y="428.16">LV449</text>
<text x="2003.9" y="442.27">LV837</text>
<text x="2003.9" y="456.37">LV83</text>
<text x="2003.9" y="470.48">LV34</text>
<text x="2003.9" y="484.59">LV853</text>
<text x="2003.9" y="498.7">LV613</text>
<text x="2003.9" y="512.81">LV32</text>
<text x="2003.9" y="526.91">LV583</text>
<text x="2003.9" y="541.02">LV35</text>
<text x="2003.9" y="555.13">LV719</text>
<text x="2003.9" y="569.24">LV31</text>
<text x="2003.9" y="583.35">LV17</text>
<text x="2003.9" y="597.45">LV603</text>
<text x="2003.9" y="611.56">LV787</text>
<text x="2003.9" y="625.67">LV953</text>
<text x="2003.9" y="639.78">LV154</text>
<text x="2003.9" y="653.89">LV960</text>
<text x="2003.9" y="667.99">LV3</text>
<text x="2003.9" y="682.1">LV823</text>
<text x="2003.9" y="696.21">LV937</text>
<text x="2003.9" y="710.32">LV338</text>
<text x="2003.9" y="724.43">LV538</text>
<text x="2003.9" y="738.53">LV42</text>
<text x="2003.9" y="752.64">LV914</text>
<text x="2003.9" y="766.75">LV720</text>
<text x="2003.9" y="780.86">LV954</text>
<text x="2003.9" y="794.97">LV61</text>
<text x="2003.9" y="809.07">LV443</text>
<text x="2003.9" y="823.18">LV2</text>
<text x="2003.9" y="837.29">LV854</text>
<text x="2003.9" y="851.4">LV867</text>
<text x="2003.9" y="865.51">LV12</text>
<text x="2003.9" y="879.61">LV931</text>
<text x="2003.9" y="893.72">LV18</text>
<text x="2003.9" y="907.83">LV770</text>
<text x="2003.9" y="921.94">LV46</text>
<text x="2003.9" y="936.05">LV257</text>
<text x="2003.9" y="950.15">LV986</text>
<text x="2003.9" y="964.26">LV530</text>
<text x="2003.9" y="978.37">LV671</text>
<text x="2003.9" y="992.48">LV598</text>
<text x="2003.9" y="1006.59">LV612</text>
<text x="2003.9" y="1020.69">LV136</text>
<text x="2003.9" y="1034.8">LV767</text>
<text x="2003.9" y="1048.91">LV750</text>
<text x="2003.9" y="1063.02">LV264</text>
<text x="2003.9" y="1077.13">LV730</text>
<text x="2003.9" y="1091.23">LV410</text>
<text x="2003.9" y="1105.34">LV37</text>
<text x="2003.9" y="1119.45">LV605</text>
<text x="2003.9" y="1133.56">LV71</text>
<text x="2003.9" y="1147.67">LV942</text>
<text x="2003.9" y="1161.77">LV746</text>
<text x="2003.9" y="1175.88">LV913</text>
<text x="2003.9" y="1189.99">LV57</text>
<text x="2003.9" y="1204.1">LV11</text>
<text x="2003.9" y="1218.21">LV904</text>
<text x="2003.9" y="1232.31">LV300</text>
<text x="2003.9" y="1246.42">LV24</text>
<text x="2003.9" y="1260.53">LV879</text>
<text x="2003.9" y="1274.64">LV171</text>
<text x="2003.9" y="1288.75">LV50</text>
<text x="2003.9" y="1302.85">LV7</text>
<text x="2003.9" y="1316.96">LV516</text>
<text x="2003.9" y="1331.07">LV777</text>
<text x="2003.9" y="1345.18">LV1</text>
<text x="2003.9" y="1359.29">LV358</text>
<text x="2003.9" y="1373.39">LV335</text>
<text x="2003.9" y="1387.5">LV246</text>
<text x="2003.9" y="1401.61">LV881</text>
<text x="2003.9" y="1415.72">LV195</text>
<text x="2003.9" y="1429.83">LV197</text>
<text x="2003.9" y="1443.93">LV637</text>
<text x="2003.9" y="1458.04">LV128</text>
<text x="2003.9" y="1472.15">LV91</text>
<text x="2003.9" y="1486.26">LV865</text>
<text x="2003.9" y="1500.37">LV369</text>
<text x="2003.9" y="1514.47">LV81</text>
<text x="2003.9" y="1528.58">LV266</text>
<text x="2003.9" y="1542.69">LV964</text>
<text x="2003.9" y="1556.8">LV70</text>
<text x="2003.9" y="214.9">Cluster</text>
</g>
<g class="cl">
<text transform="translate(113.17 180) rotate(-45)">Asthma</text>
<text transform="translate(163.33 180) rotate(-45)">Heel bone</text>
<text transform="translate(297.09 180) rotate(-45)">Reticulocytes</text>
<text transform="translate(352.83 180) rotate(-45)">Red blood volumes</text>
<text transform="translate(386.27 180) rotate(-45)">Erythrocytes</text>
<text transform="translate(430.85 180) rotate(-45)">Read blood DW</text>
<text transform="translate(464.29 180) rotate(-45)">BMI</text>
<text transform="translate(620.35 180) rotate(-45)">Spirometry</text>
<text transform="translate(765.26 180) rotate(-45)">Height</text>
<text transform="translate(954.75 180) rotate(-45)">Keratometry</text>
<text transform="translate(1043.92 180) rotate(-45)">Platelets</text>
<text transform="translate(1088.51 180) rotate(-45)">Skin/hair color</text>
<text transform="translate(1166.54 180) rotate(-45)">Autoimmune #13</text>
<text transform="translate(1266.86 180) rotate(-45)">Autoimmune #26</text>
<text transform="translate(1300.3 180) rotate(-45)">Autoimmune #8</text>
<text transform="translate(1356.03 180) rotate(-45)">HTN/high cholesterol</text>
<text transform="translate(1489.79 180) rotate(-45)">Eczema/IBD/SCZ</text>
<text transform="translate(1567.82 180) rotate(-45)">CAD/breast cancer</text>
<text transform="translate(1634.7 180) rotate(-45)">Lipids/AD/Chronotype</text>
<text transform="translate(1701.58 180) rotate(-45)">Other heart diseases</text>
<text transform="translate(1801.9 180) rotate(-45)">Monocytes</text>
<text transform="translate(1835.34 180) rotate(-45)">Lymphocytes</text>
<text transform="translate(1868.78 180) rotate(-45)">Neutrophils</text>
<text transform="translate(1957.95 180) rotate(-45)">Eosinophils</text>
</g>
<path d="M95.4 282.2H72.5V296.3H95.4M95.4 268.1H54.4V289.2H72.5M95.4 254.0H36.4V278.7H54.4M95.4 239.9H31.4V266.3H36.4M95.4 310.4H56.5V324.5H95.4M95.4 352.7H68.4V366.8H95.4M95.4 338.6H65.9V359.8H68.4M95.4 380.9H65.6V395.0H95.4M65.9 349.2H60.3V388.0H65.6M95.4 423.3H61.3V437.4H95.4M95.4 409.1H57.6V430.3H61.3M60.3 368.6H54.8V419.7H57.6M95.4 451.5H62.3V465.6H95.4M95.4 522.0H69.7V536.1H95.4M95.4 507.9H66.3V529.1H69.7M95.4 493.8H63.5V518.5H66.3M95.4 479.7H59.6V506.1H63.5M62.3 458.5H58.6V492.9H59.6M95.4 564.3H63.7V578.4H95.4M95.4 550.2H57.1V571.4H63.7M58.6 475.7H51.3V560.8H57.1M54.8 394.2H50.4V518.3H51.3M95.4 592.6H65.8V606.7H95.4M95.4 620.8H60.3V634.9H95.4M65.8 599.6H55.5V627.8H60.3M95.4 663.1H64.8V677.2H95.4M95.4 705.4H66.3V719.5H95.4M95.4 691.3H65.9V712.5H66.3M95.4 733.6H63.5V747.7H95.4M65.9 701.9H58.5V740.7H63.5M64.8 670.1H56.5V721.3H58.5M95.4 649.0H55.2V695.7H56.5M55.5 613.7H46.3V672.4H55.2M50.4 456.2H43.2V643.0H46.3M95.4 790.1H72.7V804.2H95.4M95.4 776.0H67.3V797.1H72.7M95.4 761.9H63.5V786.5H67.3M95.4 832.4H65.4V846.5H95.4M95.4 818.3H62.1V839.4H65.4M63.5 774.2H54.6V828.9H62.1M95.4 888.8H68.4V902.9H95.4M95.4 874.7H63.5V895.9H68.4M95.4 860.6H61.5V885.3H63.5M95.4 945.3H70.2V959.4H95.4M95.4 931.1H61.7V952.3H70.2M95.4 917.0H57.4V941.7H61.7M61.5 873.0H52.5V929.4H57.4M95.4 987.6H70.2V1001.7H95.4M95.4 973.5H64.2V994.6H70.2M95.4 1029.9H67.5V1044.0H95.4M95.4 1015.8H61.6V1037.0H67.5M64.2 984.1H52.7V1026.4H61.6M52.5 901.2H48.3V1005.2H52.7M54.6 801.5H42.5V953.2H48.3M43.2 549.6H36.4V877.4H42.5M95.4 1072.2H64.8V1086.3H95.4M95.4 1058.1H43.4V1079.3H64.8M95.4 1114.5H65.9V1128.7H95.4M95.4 1156.9H67.5V1171.0H95.4M95.4 1185.1H64.4V1199.2H95.4M67.5 1163.9H61.6V1192.1H64.4M95.4 1142.8H59.6V1178.0H61.6M65.9 1121.6H48.3V1160.4H59.6M95.4 1269.7H70.6V1283.8H95.4M95.4 1255.6H68.2V1276.8H70.6M95.4 1241.5H63.8V1266.2H68.2M95.4 1227.4H60.7V1253.9H63.8M95.4 1213.3H57.4V1240.6H60.7M95.4 1312.1H64.2V1326.2H95.4M95.4 1298.0H62.7V1319.1H64.2M95.4 1354.4H63.3V1368.5H95.4M95.4 1340.3H57.6V1361.4H63.3M62.7 1308.5H53.5V1350.9H57.6M95.4 1396.7H62.4V1410.8H95.4M95.4 1382.6H55.7V1403.8H62.4M95.4 1424.9H64.5V1439.0H95.4M95.4 1453.1H67.5V1467.2H95.4M95.4 1481.4H65.9V1495.5H95.4M67.5 1460.2H60.7V1488.4H65.9M64.5 1432.0H56.7V1474.3H60.7M95.4 1537.8H65.6V1551.9H95.4M95.4 1523.7H59.6V1544.8H65.6M95.4 1509.6H53.5V1534.3H59.6M56.7 1453.1H50.5V1521.9H53.5M55.7 1393.2H49.6V1487.5H50.5M53.5 1329.7H45.5V1440.4H49.6M57.4 1227.0H42.5V1385.0H45.5M48.3 1141.0H39.5V1306.0H42.5M95.4 1100.4H34.4V1223.5H39.5M43.4 1068.7H30.7V1162.0H34.4M36.4 713.5H24.3V1115.3H30.7M56.5 317.4H13.5V914.4H24.3M31.4 253.1H0.5V615.9H13.5" stroke="#333" stroke-width="0.85" fill="none"/>
</svg></body></html>
